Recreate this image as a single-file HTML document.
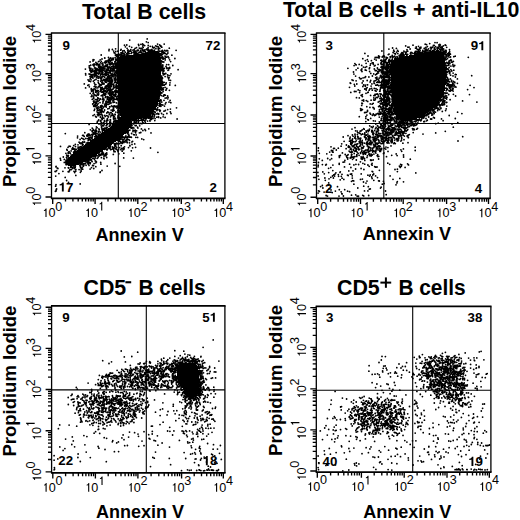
<!DOCTYPE html><html><head><meta charset="utf-8"><style>html,body{margin:0;padding:0;background:#fff;overflow:hidden}svg{display:block}text{font-family:"Liberation Sans",sans-serif}.b{font-weight:bold}</style></head><body>
<svg width="520" height="520" viewBox="0 0 520 520">
<rect width="520" height="520" fill="#fff"/>
<path d="M436 50h3v1h-3zM430 51h11v1h-11zM152 51h6v1h-6zM147 52h12v1h-12zM424 52h18v1h-18zM142 53h18v1h-18zM419 53h24v1h-24zM414 54h30v1h-30zM135 54h25v1h-25zM126 55h34v1h-34zM409 55h35v1h-35zM405 56h39v1h-39zM121 56h39v1h-39zM119 57h41v1h-41zM400 57h44v1h-44zM397 58h47v1h-47zM118 58h42v2h-42zM394 59h51v1h-51zM393 60h52v1h-52zM392 61h53v1h-53zM391 62h54v3h-54zM117 60h43v7h-43zM390 65h55v4h-55zM390 69h56v4h-56zM117 67h44v13h-44zM391 73h55v12h-55zM118 80h43v10h-43zM391 85h54v5h-54zM392 90h53v1h-53zM392 91h52v3h-52zM118 90h42v6h-42zM392 94h51v2h-51zM119 96h41v1h-41zM392 96h50v2h-50zM393 98h48v2h-48zM393 100h47v1h-47zM119 97h40v5h-40zM393 101h46v2h-46zM393 103h45v1h-45zM119 102h39v3h-39zM393 104h44v1h-44zM394 105h42v1h-42zM119 105h38v2h-38zM394 106h41v1h-41zM394 107h40v1h-40zM119 107h37v2h-37zM394 108h39v1h-39zM120 109h35v1h-35zM394 109h38v1h-38zM394 110h37v1h-37zM120 110h34v2h-34zM395 111h34v1h-34zM120 112h33v1h-33zM395 112h33v1h-33zM120 113h32v1h-32zM395 113h31v1h-31zM396 114h29v1h-29zM120 114h30v1h-30zM120 115h29v1h-29zM396 115h27v1h-27zM397 116h24v1h-24zM121 116h26v1h-26zM397 117h22v1h-22zM120 117h25v1h-25zM398 118h19v1h-19zM119 118h22v1h-22zM118 119h19v1h-19zM400 119h14v1h-14zM117 120h14v1h-14zM402 120h8v1h-8zM116 121h14v1h-14zM115 122h16v1h-16zM114 123h17v1h-17zM113 124h18v1h-18zM112 125h19v1h-19zM111 126h19v1h-19zM110 127h20v1h-20zM108 128h21v1h-21zM107 129h21v1h-21zM106 130h21v1h-21zM104 131h23v1h-23zM103 132h23v1h-23zM102 133h23v1h-23zM100 134h24v1h-24zM99 135h24v1h-24zM97 136h25v1h-25zM96 137h25v1h-25zM94 138h26v1h-26zM93 139h25v1h-25zM91 140h26v1h-26zM90 141h26v1h-26zM88 142h26v1h-26zM87 143h26v1h-26zM85 144h27v1h-27zM84 145h26v1h-26zM83 146h26v1h-26zM81 147h26v1h-26zM80 148h26v1h-26zM78 149h26v1h-26zM77 150h26v1h-26zM76 151h25v1h-25zM74 152h26v1h-26zM73 153h25v1h-25zM72 154h25v1h-25zM71 155h24v1h-24zM70 156h24v1h-24zM69 157h23v1h-23zM68 158h22v1h-22zM68 159h21v1h-21zM67 160h20v1h-20zM67 161h18v1h-18zM67 162h16v1h-16zM67 163h15v1h-15zM67 164h12v1h-12zM68 165h8v1h-8zM70 166h2v1h-2zM183 363h11v1h-11zM179 364h17v1h-17zM178 365h19v1h-19zM177 366h20v1h-20zM177 367h21v3h-21zM177 370h22v8h-22zM178 378h21v3h-21zM179 381h20v2h-20zM180 383h19v2h-19zM181 385h18v2h-18zM182 387h17v1h-17zM183 388h16v1h-16zM183 389h15v1h-15zM184 390h14v2h-14zM185 392h13v1h-13zM186 393h12v1h-12zM187 394h10v2h-10zM189 396h5v1h-5z"/>
<path d="M147.2 38.9h0m-17.5 1.2h0m8.8 4.4h0m2.4-.2h0m1.7-.3h0m.9 .9h0m2.9-3.1h0m1.8 .8h0m9.4 1.5h0m6.6 0h0m261 .1h0m1.4 .5h0m3.1-1.1h0m5.3-1h0m2.1 .1h0m2.7 1.6h0m-330.7 5h0m3.3 .2h0m3.2-.7h0m5.5 .7h0m3.4-4.3h0m.9 1.6h0m1.4-1.8h0m.3 3.3h0m2.4-2h0m1.3 3.3h0m.9-2.3h0m2.5 2.3h0m.9-1.3h0m1.4-.6h0m2.3-2.2h0m.5 2.6h0m1.1 .4h0m1.1-.1h0m.5-.1h0m.2 1.2h0m.5-3.6h0m.1 3.8h0m.4-2.3h0m1.5-1.8h0m.1 4.2h0m1.6-.3h0m.5-.6h0m1.2-1.5h0m0 1.8h0m.1-3.9h0m2 1h0m1.2 3.3h0m.5 .1h0m.5-3.2h0m.4 1.1h0m.4 .2h0m.8 0h0m.4-.3h0m1.3-1.7h0m.2 2.9h0m1-2.2h0m1 .1h0m.3 2h0m.1 1.3h0m.2-3.1h0m.1 1.2h0m1.1-3h0m0 3.6h0m1.1-2.2h0m.1-.6h0m.9 1.4h0m7.5 1h0m219.6 .9h0m3.7-1.1h0m3.8 .4h0m9.3-2.5h0m1.3 3.8h0m.9-2.5h0m1.2-.1h0m1 1.9h0m2.9-3.8h0m2.5 2.9h0m.7-1.3h0m.1 1.2h0m.9 1.3h0m.9 .2h0m.4-3.2h0m.9 3.4h0m.3-1.8h0m1 .4h0m.2-1.1h0m3.3 1.2h0m.2 .1h0m1.5-1h0m.1 1.8h0m.4 .1h0m1-2.8h0m.3 3.2h0m.8-1h0m2-1h0m.1-.5h0m.6 1h0m.2 .1h0m.4-.9h0m.9-.4h0m.7-1.6h0m.7 3.6h0m.1-3.7h0m.3 2.5h0m.6 1.8h0m.1-.6h0m.4-2.5h0m1.4 1.4h0m.2 1.9h0m.4-2.4h0m.2 1h0m0-.3h0m.4-.4h0m.3 .3h0m.4-3.1h0m0 2h0m.7 2.2h0m.1-2.9h0m.6-1.3h0m.4 2.4h0m.2 1.7h0m.7-1.4h0m.2-.3h0m.2-.7h0m0 2.7h0m.1 .5h0m.1-2.5h0m.2 2.2h0m.1-.4h0m.3 .3h0m.6-3.7h0m.2 3.1h0m1.6-3.9h0m.7 .3h0m.8 2h0m2.8 2.3h0m-340.5 1.1h0m4.7 .4h0m.4 1.6h0m.9 .6h0m.8-1.8h0m.6 3.2h0m1.5-3.5h0m.1 3.6h0m.6-.8h0m.6 .3h0m.5 .4h0m.7 0h0m.3-4.5h0m.2 2.8h0m.5-.1h0m.5 1.3h0m.4-1.9h0m.5-1.4h0m.1 1.9h0m.5 .6h0m.8-2.7h0m0 3.1h0m1-1.6h0m1.2 1.7h0m.8 .5h0m.1-1.2h0m0 1.3h0m.4-3.7h0m.1-.7h0m.1 4h0m.2-2.3h0m.2-1.7h0m.3 2.6h0m0 1.2h0m0-.8h0m.1-1.5h0m.7 1.7h0m.5-2.3h0m1.1 .1h0m.2 2.3h0m.6-.7h0m1.2-2.5h0m.5 1.7h0m.3 .6h0m.2 2.3h0m.2-.8h0m.3-1.7h0m.2 2.3h0m.1-2h0m.1-1.7h0m.4 1.2h0m0 .2h0m.2 1.1h0m.6-2.3h0m0 1.7h0m.2 .2h0m0 .1h0m.3 .8h0m.1-.5h0m.6-2.6h0m.1-.7h0m.2 3.4h0m.1-2.8h0m.6-.5h0m.4 2.7h0m.6-.5h0m.1-.2h0m.7 .1h0m.5-1.7h0m.4 1.9h0m.2-.5h0m0 .3h0m.6 1.6h0m.5-3.8h0m.7 2h0m.3-1.2h0m0-.6h0m.8 .3h0m.7 1h0m.4 .5h0m.1-.8h0m.2 1.3h0m1.4 .2h0m1-2.6h0m.4 1.5h0m.2 .2h0m.5-1.5h0m.2 .6h0m.7-.9h0m0 1h0m.2 .6h0m.1-1.2h0m.7 .7h0m.1 .8h0m.1-.5h0m.4-.3h0m1.2-.9h0m1.7-.1h0m4.5 1.5h0m.2 .1h0m.7-.7h0m.3 2.7h0m.6 .1h0m.7-2.4h0m.3 3.3h0m.1-3.9h0m.3 1.9h0m0 1.5h0m.1-2.3h0m.2-1.6h0m0 4.2h0m.5-3.4h0m.4 1h0m.4 1.1h0m.2 .1h0m.4-.9h0m.2 .5h0m.2-2.7h0m.8 3.3h0m.5-2.5h0m.8 3.4h0m.2-4.2h0m.8 .6h0m.1 2.1h0m8.2-2.7h0m188.8 3.1h0m17-2.4h0m6.4 3.6h0m.8-.5h0m4-1.6h0m.6-2.3h0m.5 1.1h0m.4 2.3h0m.9 .5h0m.1-.3h0m.9-1.7h0m1.1-1.7h0m.2 3.2h0m.4-2.3h0m2.4 3h0m.7-.9h0m.4 1.4h0m.2-2.1h0m.4 .1h0m.4 1.4h0m.3-1.5h0m.1 .2h0m.1 1.5h0m.7-3.3h0m1.2 1h0m.5 1.8h0m.2 .3h0m.2-.3h0m.2 .3h0m.2-2.2h0m.8-.8h0m.5 0h0m0 3.1h0m2.7-.7h0m.2-.7h0m.3 1.3h0m.1-1.7h0m.9 .2h0m1.1 .9h0m1.7-1.2h0m0 1.4h0m.5-.3h0m.2-2h0m.5 1.9h0m.7-1.9h0m.1 2.2h0m.4-.3h0m.9-1.2h0m0 1.4h0m.2-2.4h0m.3 1.7h0m0 1.1h0m1.2-2.3h0m0 1h0m.4-2.4h0m.1 2h0m1.1 .2h0m1.5-2.1h0m0 1.8h0m.1-.8h0m.1 0h0m.4 .4h0m1.2-.7h0m.9-1.1h0m.3 1.6h0m1-1.6h0m.3 .9h0m1 .2h0m1.5-.3h0m.4 1.1h0m.6-1.8h0m.2-.1h0m2 .6h0m.8 .1h0m.8-.6h0m5.9 .5h0m.4-.1h0m.5 1.3h0m.8 .9h0m.5-.5h0m.5-1.9h0m.2 3.3h0m.2-1.2h0m.2-.6h0m.5 1.4h0m.3-1.7h0m.3 2h0m.2 1h0m0-.2h0m.3-3.9h0m.4 .3h0m.1 3.8h0m.1-2.1h0m.3-1.9h0m.1 1.5h0m.3 2.7h0m.3-.1h0m.8-.8h0m1-1h0m.4 1h0m.6-2.3h0m.3 1.9h0m.5 .8h0m-357.3 5.4h0m.9 .2h0m6.2 0h0m1-4.8h0m.8 4h0m2.7-1h0m.2 .1h0m3.6-.6h0m.5 2h0m.3 .3h0m.2-.1h0m.6-1h0m.5-.8h0m1.1 1.7h0m.5-1.1h0m.4 1.1h0m.6-1.4h0m0 1.5h0m1.9-2h0m.3-2.6h0m.2 4.3h0m.8-3.3h0m.5 3.3h0m.3-4.4h0m0 3.2h0m0 1.5h0m.1-2.6h0m0 1h0m.1-1h0m.1-1.3h0m.3 3.8h0m.2-.3h0m.1-4.2h0m0 1.3h0m.3 1.5h0m.6-2.1h0m1.7 .6h0m1-.8h0m.2-.4h0m.3 .3h0m.5 .2h0m1.1-.5h0m.9 .3h0m.3-.3h0m35.2 4.3h0m.1-2.3h0m0 .9h0m.2 .2h0m.3-3.1h0m.6 .3h0m.2 2.1h0m.7 .3h0m.1-.6h0m0 1.5h0m.2-2h0m.4 2h0m.4 .2h0m.1-.8h0m1.5-2.1h0m.1 2.1h0m.1 1.7h0m.2-3.4h0m1.3 .7h0m1.4-.5h0m.8 1.2h0m.7 1.9h0m2.3-4.6h0m3 3.3h0m187.9 .2h0m4.5 .9h0m.7-3.6h0m6.6 3.1h0m.6-1.6h0m1.5 0h0m1.4 0h0m.5-1.6h0m.5 2h0m.4-1.3h0m2.7 .4h0m1.1-1h0m.7-.1h0m.7 1h0m.4 2.5h0m1-.2h0m.4-1.7h0m.2 .8h0m.7-.5h0m1.8 1.5h0m1-2.7h0m.1 1h0m1.7-1.2h0m.2-1h0m.2 2.6h0m.5-1.6h0m.6 .5h0m1.2-.8h0m.2 2.6h0m0-.3h0m.6-1.3h0m.2 .9h0m.4 .9h0m.6 0h0m.4-2.3h0m.5 1h0m1.6-2.3h0m0 .8h0m.3 1.7h0m.1-.8h0m.3-1.1h0m.1-.3h0m0 1.1h0m.1-1h0m.7 0h0m.3 .9h0m.4-.4h0m.7-.5h0m.2 .3h0m.3 0h0m.4-.7h0m.2 .9h0m.1 .7h0m.9-1.8h0m0 1.7h0m2.6-1.1h0m0-.4h0m37.5 3.4h0m.1 .1h0m.3-1h0m.1-.2h0m.1-1.1h0m.7 1.5h0m0 1.8h0m.5-.2h0m.6-4.2h0m0 1.4h0m.7 1.9h0m.8-2.9h0m.5-.8h0m.2 2.1h0m.3-1.9h0m1.2 1.8h0m.4 2.7h0m2.9-3h0m1.4-.5h0m13.1 1.1h0m-378.2 4.6h0m2.9-.9h0m0 3.7h0m1.1-.9h0m.6 .8h0m1.2-2.2h0m.4 1.6h0m.2 .9h0m.7-1.5h0m.7 1.5h0m.1-.3h0m.3-.3h0m.2-2.7h0m.5-.3h0m.8 2.9h0m.9-1.6h0m.6-1.3h0m.7 2.5h0m.4-.1h0m.5-.7h0m.1 1.7h0m1.8-2.3h0m.4-.9h0m.1 1.5h0m.5-1h0m.4-1.1h0m.1 1.5h0m.9 2.1h0m.5-3.6h0m.5-.7h0m0 1.8h0m.2 .4h0m.3-2h0m.3 2.6h0m.2 1h0m.1-3.6h0m.3 3.5h0m.2-1.7h0m.1 .5h0m.2 2.2h0m.1-1.1h0m.1-2.5h0m.3-.4h0m.3 3h0m.2-.4h0m0 .8h0m.9-4.2h0m.1 2.3h0m.1 1.2h0m.4 0h0m1.4 .3h0m.8-1.9h0m.4-.7h0m0 2.3h0m.3-.2h0m0 1.4h0m.1-1.9h0m.3-2.7h0m0 3.4h0m0 1.3h0m.2-1.8h0m.2-2.4h0m.2 3.9h0m.2-1.4h0m.2 0h0m43.2-2.9h0m0 1.9h0m0 1.2h0m.1 1.1h0m.1-3h0m.6 .2h0m0 1.7h0m.1 .1h0m0 1.2h0m.6-3.7h0m.7 .6h0m.1 .3h0m.4 3h0m1-2.9h0m2.9 2.6h0m2 .1h0m1.9-3.1h0m184.3 2h0m1 1.2h0m.2 .1h0m3.1-.5h0m6.2-3.8h0m.7 2.7h0m2.1-2h0m2.4 2.5h0m.8-3.1h0m.8 2.2h0m.6 0h0m.4 0h0m.1 1h0m0 .4h0m2.9-4.2h0m1.9 4.3h0m2.7-4.1h0m.1 3.1h0m.1-.6h0m.3-.1h0m0 1.8h0m.3-4.4h0m0 1.8h0m1 2.6h0m.3-3.1h0m.1 3.3h0m.4-.9h0m.1-3.4h0m.1 3.4h0m.1 .9h0m.1-2.7h0m.2 1.3h0m0 1.1h0m.1-3.6h0m.3 1.7h0m.3-1.7h0m.6 .1h0m.1-.2h0m.1 .8h0m.1-1.5h0m.3 2.4h0m.4 0h0m0 1.5h0m0 1h0m.2-2h0m.1 .1h0m.2 1.4h0m.3-.9h0m.1-.7h0m.2 1.4h0m1.1-2.4h0m.2-1.4h0m0 1.6h0m.1 2.7h0m.1-2.6h0m.4 1.1h0m.1-1.5h0m.2-.6h0m.2 2.1h0m.1 1.3h0m.2-3.2h0m0 3.1h0m.1-3.4h0m.3-.3h0m0 4.2h0m.6-4.8h0m.3 .9h0m.2 .9h0m.1-.8h0m.6-1.1h0m.2 0h0m52.7 3.2h0m.4 0h0m.1 1.6h0m1.1-2.4h0m.6 .6h0m.3 .2h0m.8 1.6h0m.1-1.9h0m.2 .5h0m.2-2.2h0m0 .8h0m0-.6h0m0 2h0m.5-2.7h0m.4 2.8h0m.2-3h0m1.3-.2h0m0 1.9h0m.9-.1h0m.6 2.4h0m.5-3.1h0m-368 7.7h0m3.8-3.1h0m.1 1.6h0m.3-1.7h0m.1 1.9h0m0 .9h0m1-3.5h0m.3 3.3h0m1.7 1.2h0m.1-.6h0m.5-3.9h0m.7 .8h0m0-1h0m.6 2.8h0m.4-.1h0m.2 .7h0m.6 .5h0m.4 0h0m.1-.5h0m1.3 .4h0m.8-2h0m.3 .4h0m.1 2.6h0m.1-4.1h0m.1 3.7h0m.1-2.2h0m.4-1.4h0m0 1.7h0m0 1.1h0m.3-3.2h0m0 .6h0m.4 1.4h0m0-.3h0m.2 2.3h0m.6-2.4h0m.2 2.1h0m.2-1.4h0m.1 1h0m.6 .5h0m.2-1.1h0m.1-2.3h0m.3 3.2h0m.5-.4h0m.1-1.1h0m.9-1.4h0m.3 1.8h0m.1 .3h0m.5 .7h0m.1-2.2h0m.3-.2h0m.3-1.4h0m0 1.1h0m.9 3h0m.1-4h0m.2 1.5h0m.4-1.7h0m0 1.3h0m.1-.3h0m.4 1.8h0m.1 .9h0m0 0h0m.2 .5h0m.1-2.3h0m.1 1.8h0m.8-1.4h0m0 .1h0m.5-.5h0m.4 1.1h0m.1-.5h0m.1 .9h0m.5 1.5h0m.9-3.3h0m.1 1.7h0m.3 .4h0m.1 .4h0m.2-2.5h0m.5 1.8h0m.1-3.3h0m.3 4.8h0m.1-1h0m.1-3h0m0 1.1h0m.7 .8h0m.3 .5h0m.3-2.2h0m0 2.4h0m.5-.9h0m.5-.7h0m.2-.1h0m.4 .4h0m.1 1.3h0m.1-2.4h0m.3-.2h0m43.6-.7h0m.2 1h0m.1 0h0m.2 .9h0m.1 .1h0m.5-.8h0m.1 2.5h0m.3-.9h0m.1 .3h0m.2-.7h0m.1 .8h0m.1 1.5h0m.1-.6h0m.3-3.2h0m.5 3.7h0m.5-1.6h0m.5 .2h0m1.6-1.9h0m.8 1.1h0m.1 .9h0m1.6-.4h0m.2 1.7h0m1-2.5h0m0 .9h0m3.1-2.7h0m5.3 4.2h0m169.8-1.4h0m6.2-2.7h0m2 4.2h0m1.8-1.6h0m3.2 1.7h0m.6-4.5h0m.2 3.5h0m1.5-1.8h0m1.8 .3h0m1.4-.7h0m2.7 2h0m.3-1h0m.6-2.4h0m4.1 3.6h0m.1-3h0m.7-.5h0m2.3 2.6h0m.7 1.3h0m1.1 .3h0m.1 .1h0m1.2 .2h0m.5-2.6h0m.2-.5h0m.7 1.1h0m.1-.9h0m.1 2.7h0m.2-.5h0m.1-2.6h0m.2 2.3h0m.2-1.3h0m.2 .7h0m.1-.9h0m.2 1.4h0m.5-.9h0m.1-1.7h0m.1-1h0m.3 2h0m.9 .3h0m0 1.1h0m.1 .4h0m.2 0h0m.4-2.3h0m.1-.5h0m.2-.6h0m.3 2.6h0m.1-3.2h0m0 .9h0m.4 .8h0m0 2.2h0m.5-.5h0m.3 .2h0m.1-2.6h0m0 3.1h0m.1-2h0m.1 1.4h0m.2-3.3h0m0 3.1h0m.3 0h0m.2-.6h0m.3-.8h0m.5 0h0m0 2h0m.3-2.2h0m55.6-.8h0m.1 1.8h0m.2 .4h0m0 .7h0m.4-1.6h0m.5 2.3h0m.4-3.9h0m.4 3.2h0m.9 .5h0m.4-4.1h0m.3 2.3h0m1.8-1.4h0m0 3.5h0m2.1-3.7h0m.2-.1h0m.6 .7h0m.9-1.1h0m-369.1 8.2h0m.1 1.3h0m3.4-.9h0m.8-3.6h0m.3 3.8h0m.5-2.4h0m.4-1.7h0m.1 1.1h0m.2 1h0m.1 2.4h0m.2 .1h0m.3-.3h0m.4-2.9h0m.2-.5h0m.3 .3h0m.3 3.4h0m.2-3.7h0m.1 3.8h0m.2-3.4h0m.5-.3h0m.2 2.1h0m.3-1.3h0m.1-1.5h0m.1 1.2h0m0 2.3h0m.2-3.3h0m.3 .5h0m.2-.4h0m.1 2.5h0m.3-.7h0m.3-2.4h0m.1 3.6h0m.3-2.3h0m.1 1.7h0m.1-.2h0m.5-.1h0m.5-2.8h0m.2 3.4h0m.3-.3h0m0 1h0m.2-3.7h0m.1 .4h0m.5 1.4h0m.2-1.3h0m0 2.4h0m.2-1.3h0m.2-1.9h0m0 2.4h0m.1-1.9h0m.2-.4h0m.3 .4h0m.1 3.2h0m.1-2.3h0m0 2.9h0m.9-.5h0m.1-3.2h0m.4 .9h0m0 1.3h0m0-.5h0m.3 1.9h0m0 .1h0m.2-1.4h0m.2-.9h0m.1-2.1h0m0 .8h0m0 3.5h0m.1-1.6h0m1.1-2.6h0m.2 4.4h0m.5-3.4h0m.3 2.7h0m.1-2h0m.1 2.2h0m0 0h0m.6-.6h0m.2-2.8h0m.2 1.4h0m.1 1.9h0m.4-2.7h0m.1-.6h0m0-.4h0m0 4.2h0m.3 0h0m.1-1.4h0m.3-2.4h0m.5 2.1h0m.3-2.2h0m.1-.1h0m0 4.3h0m.4-4.1h0m0 2.3h0m.9-2.2h0m.2 .7h0m.3 1.4h0m.1-2.8h0m.1 1.5h0m.3 .2h0m.2-.5h0m.3 2.6h0m.2-3.7h0m.7 .4h0m.2 3.4h0m.1-3.3h0m.6 1.3h0m.1-1.2h0m.2 3.9h0m.2-4.3h0m.5 4.6h0m.1-4.8h0m.1 3.7h0m.6-3.1h0m.1 2.2h0m.2-1.1h0m.9 .2h0m0 2.7h0m.3-1.3h0m.1 .2h0m.1-2h0m0 1.2h0m.1-1.7h0m.1-.6h0m.3 1.9h0m44.5-1.9h0m.9 0h0m.3 2.5h0m.3-2.7h0m.1 1h0m.1 .3h0m0 3.3h0m.9-4.1h0m0 2.8h0m.3 .7h0m1.4-.8h0m1.8 1.3h0m.4-4.5h0m3 3.5h0m182.5-1.8h0m.4 2.1h0m7.5-3.7h0m.6 1.1h0m3.2-1.5h0m1.1 .3h0m3.3 1.2h0m1.2 1.9h0m2.9 .5h0m1.5-3.4h0m.4 4.3h0m.8-4.1h0m.2 3.3h0m.1-.3h0m.6-.3h0m.6-1.7h0m.6 1.2h0m.7-1.9h0m1.3-.3h0m.9 1.8h0m.1-.6h0m.4-.5h0m0 1.2h0m.2-.5h0m.3 1.9h0m.3-3.1h0m.7 1.2h0m.1 1.3h0m0-.3h0m.5-.3h0m.1-.9h0m.4 1.6h0m.1 .6h0m.7-.3h0m.3-.7h0m0 1.3h0m.1-2.6h0m.2 .7h0m.1 1.1h0m.2-1.1h0m.1-2.3h0m.1 2.4h0m.3 1.8h0m.1-2.4h0m.1 .2h0m.2-1.1h0m.6 .7h0m0 1.9h0m.1-2.7h0m.1-.8h0m.1 3.5h0m.3-.7h0m.9-.8h0m.2-1.3h0m0 1.9h0m.1 2.1h0m.1-.3h0m.1-3.7h0m0 .8h0m.1-1.3h0m.4 4.1h0m.1-.9h0m.6 1.1h0m55.8-2.7h0m0 .7h0m0 1.7h0m.2-3.1h0m.1 1h0m.4-.3h0m0-.2h0m1.4-.3h0m.2-.9h0m.5 3h0m.1-2.3h0m.3 .2h0m0 1.5h0m1.9-2h0m1.3 2.1h0m.7-2.9h0m1.4 4.5h0m.4-.2h0m.6 .1h0m-368.2 5.2h0m2-3.4h0m0 .2h0m.3 1.8h0m.8-3.4h0m0 2.4h0m0 2.4h0m.4-3.4h0m.3 .4h0m.2-.3h0m.7-.1h0m.2 1.5h0m.1 .2h0m1.6-2.5h0m0-.2h0m0 1.3h0m.2-.9h0m.2 0h0m0 .5h0m.8-1.1h0m.2 4.2h0m.6-3.8h0m0 2h0m.3-.5h0m.9-1h0m.4 2.1h0m.7-1.4h0m1.2 1.2h0m.3-2.1h0m.7 3.4h0m.3-1.9h0m.2 .9h0m.4-1.1h0m.2-.7h0m.4-.1h0m.6 3.5h0m.3-.5h0m.1-3.1h0m1.1 .9h0m.1 2.1h0m.7-4h0m.5 4.2h0m.2-.8h0m.6 .8h0m.1-4.5h0m.5 1.9h0m0 .9h0m0 1.6h0m.6-2.4h0m.2 .9h0m.5-1.3h0m0 1.5h0m.2-2.3h0m.2 3.9h0m.1-1.2h0m.5-1.1h0m.3-1.5h0m0 2.8h0m.2-3.2h0m0 2h0m0 1h0m.2-.4h0m.3 .7h0m.1 1.1h0m.5-4.7h0m.2 2.3h0m0-.4h0m0 2.7h0m.1-1.3h0m.3 .7h0m.3-4.1h0m.1 1.5h0m.7-.4h0m.8 .6h0m.3 2.1h0m.4-.4h0m.6-2.7h0m.1-.6h0m.5 3.2h0m.1-.9h0m.2 1.3h0m.6 1h0m.4-3.8h0m44.1 0h0m.3 1.1h0m0 2.3h0m.2-.9h0m.2 .3h0m.1 1.1h0m.4-2.4h0m.2 .8h0m2.6-1.7h0m2.5 .2h0m.5-1.5h0m.4 3.2h0m.6-.8h0m.8-2.1h0m182.1 4.2h0m3.6-3.7h0m3.8 1.5h0m.9 1.2h0m1.1-.2h0m1.7-.8h0m1.8-.3h0m.7-.8h0m3.3 .3h0m3.5-1h0m0-.1h0m3.2 1.9h0m1 2h0m.2-1h0m.1-1.6h0m.2 1.7h0m2-.7h0m1.3-2.3h0m0 1h0m.3-1.6h0m.6 2.2h0m.1 .5h0m.6-1.9h0m.9 1.5h0m.3 1.8h0m.2-3.2h0m.5 1.6h0m.3-2h0m.2 1.7h0m.1 1.7h0m.1-2.8h0m.3 2.7h0m.1-2.2h0m0 2.5h0m.7-3.3h0m0 1.1h0m.5-1.1h0m.1-.4h0m.3 1.7h0m.2-.8h0m.2 3.2h0m.2-3.3h0m0 1h0m.5-2.2h0m.4 2.2h0m.1-1.2h0m.3-.7h0m0 1.7h0m.4 2h0m.3-1h0m0-.1h0m.1-3.2h0m.2 1.7h0m.2 2.2h0m.1 .7h0m1-2h0m55.4-1.6h0m0 3.5h0m.3-2.5h0m.9 .7h0m.5 1.3h0m.6 .3h0m1.9-.4h0m.2-3.7h0m2.4 .7h0m2.4 1.1h0m2 1.9h0m14.3-3.2h0m-387.4 8.2h0m4.6 1h0m.1-3.7h0m.2-1.1h0m1.4 1.5h0m2.8-.4h0m.9 1.7h0m.2-2.8h0m.5 4.4h0m.9 .1h0m2.2-4h0m.2 1.9h0m.5 1.1h0m1 1h0m.4 .1h0m.4-3.7h0m.3 3.9h0m.4-4.6h0m.4 2.2h0m.6-1.7h0m0 3.2h0m.5-1.3h0m.1 .6h0m.9 .7h0m.1-.1h0m.2-3.4h0m0 3.4h0m1.1-1.8h0m.1-1.2h0m.8-.3h0m.3 1.7h0m.6-1.7h0m.5-.2h0m.6 1h0m0 2.6h0m.1 .8h0m.1-4.1h0m0 3.5h0m.7-.7h0m.4-2.1h0m.6-.8h0m0 4h0m.1-2.1h0m.2-.1h0m.1 2.5h0m.1-3.6h0m.3 .7h0m.1 1.3h0m.3-2.2h0m0 1.5h0m.3 1.8h0m.2 .1h0m.1-4.3h0m0 2.4h0m0 1.8h0m.2-3.7h0m0 1.6h0m.1 1.6h0m.1-3.8h0m.3 1.4h0m0-.3h0m.2-.6h0m.7 3.6h0m.1 .5h0m1.1-2h0m.3-2.3h0m.3 1.1h0m.1-1.2h0m.1 .9h0m.1 1.2h0m.7 2.2h0m.6-2.3h0m.1 .3h0m.1 .8h0m.5-.1h0m.2-2.8h0m0 .9h0m0 .6h0m43.3-.2h0m0 2.9h0m.1-1h0m.4 .4h0m.1-2.4h0m.1-1.4h0m0 3.7h0m.2-1.7h0m.1-.9h0m.1 1.7h0m.4-1.4h0m.1 .4h0m.1 2.1h0m.4-1.7h0m1.2-.2h0m1.5 1.8h0m.4-1.1h0m2.8-2.9h0m1 2.7h0m.5-2.4h0m179.7 2.5h0m.5 .4h0m2.4-2.9h0m1.2 3.9h0m1.8-3.5h0m.7 3.2h0m5.4-1.1h0m.9-1.9h0m.5 3.9h0m3.6-4.4h0m0 4.3h0m.4 0h0m2.5-2.8h0m.6-1.5h0m1.2 3.4h0m2.1-2.7h0m0 1.8h0m.4 .4h0m.8-2.7h0m1.6 1.6h0m.6 2.4h0m.1-2.7h0m1.1-2h0m.3 2.4h0m.2-1.3h0m1.1 1.3h0m.9 .1h0m.5 .1h0m.1-.9h0m0 1.3h0m.1 1.3h0m.1-.6h0m.2-3.5h0m0 1.7h0m0 2h0m.6 .7h0m.5-3.9h0m.1 .7h0m.2 .5h0m.1 .2h0m.2 1.5h0m.1 .5h0m.4-.4h0m.1-1.4h0m.1-2.3h0m0 1.3h0m0 2.7h0m.3-2.3h0m.1 2h0m.2-2.2h0m.2-.8h0m0 1.7h0m.3-.7h0m0 3.2h0m.2-.8h0m.3-1.7h0m.1-1.9h0m.1 3.7h0m.3-1.3h0m.1-.5h0m.1-1.4h0m.1-.3h0m.2-.1h0m.5 1.7h0m.2 2h0m.1-.4h0m.1-2.6h0m.1-1.1h0m.1 2.6h0m0 1.5h0m.1-2.5h0m0-.6h0m.4-1h0m.2 3h0m.3-2h0m.9 1.7h0m0-.6h0m.2-2.3h0m0 4.6h0m56.3-4.1h0m0 2.6h0m.1-1.3h0m.1 .1h0m0-.1h0m0 0h0m.4 1.8h0m.6-3.3h0m0 .9h0m.1-.2h0m.1-.7h0m0 3.1h0m0 1.3h0m.5-3.6h0m.2 2.8h0m.3 .8h0m.3-3h0m.1 .2h0m.5 2.9h0m.2 0h0m1.3-3.1h0m.2-1.3h0m1 3.8h0m.1-.3h0m.1-.9h0m.4 .9h0m.2-2.5h0m1.3 .8h0m.1 .5h0m2.6 .6h0m-371.8 4.6h0m2.2-2.6h0m1.5 1.5h0m1.9 3h0m.1-1.2h0m.4 1h0m1.6-.3h0m.3-.2h0m.6-2.5h0m0 2.3h0m.5-2.6h0m.7 3.6h0m.3-2.1h0m.3 .1h0m.1-1.1h0m1.7 1h0m.5-1h0m.9-.6h0m.3-.5h0m.7 1.6h0m.4 .5h0m0 1.8h0m.2-2.1h0m.1-2.4h0m.4-.1h0m0 2.7h0m.2 1.4h0m.2-.6h0m.6-1.2h0m0 .1h0m.5 1.6h0m.2-.4h0m1.6-.3h0m.4-.5h0m.3-1.1h0m.1-.4h0m0 .8h0m.1-.4h0m.8-.8h0m0 3.1h0m.2-2h0m.1 1.7h0m.7-3.4h0m.3 .6h0m.2 3.1h0m.2-.5h0m.2-1.4h0m.8 .6h0m.2-1.8h0m0 1.5h0m0 2.2h0m.1-2.3h0m.2-.1h0m.3-1.6h0m.3 .7h0m0 2.4h0m.1-1.8h0m.4 1.7h0m0 .8h0m.6-4.4h0m0 4.9h0m.2-3.4h0m.4 3.3h0m1.2-.8h0m.3-4h0m.1 2.9h0m.2-1.6h0m.3-1.1h0m.2 1.9h0m1 .7h0m.5-1.7h0m.4-.1h0m0 3.9h0m.4-4h0m0 .5h0m.1 .6h0m.2 1.2h0m.3-.6h0m.3 .2h0m.2-2h0m.1 .3h0m.1 2.1h0m43.6-.7h0m0-.4h0m.1 2.5h0m.2-4.6h0m.1 4.4h0m.2-1.2h0m.2-2.8h0m.1 4.3h0m.5 .1h0m.3-.8h0m.1-3.8h0m.2 2.6h0m0 1.9h0m1.1-4.7h0m.7 2.4h0m1.7 1.1h0m3-3.5h0m5.5 .4h0m174.2 1.9h0m5.3-1.3h0m3.4 3.9h0m4.7-3.4h0m1.8 2.5h0m.5-3.9h0m.1 1.2h0m1 2.2h0m.8-.9h0m2.8 1.3h0m1.2-2.8h0m.5 2.3h0m2.6 .2h0m.1-.3h0m1.5-3.1h0m.2 3.5h0m1.1-3.6h0m.2 4.5h0m1.4-3.9h0m1.5 3.8h0m.3-4.3h0m.1 2.2h0m0 .6h0m.5-1.4h0m.1-.3h0m.4-.8h0m.1 1.4h0m0 .4h0m.1-2.1h0m.1 2.6h0m.1-1.6h0m.2-.8h0m.2 2h0m.8 .7h0m.3-.9h0m.2-1.7h0m.4 .1h0m.3 .9h0m.4 1.7h0m0 .9h0m.1-3.9h0m0 3.2h0m.3-2.6h0m0 2.3h0m.4-1.5h0m.1 1.1h0m.1-.8h0m0-.5h0m.1-.4h0m.2 1.1h0m.1-1.4h0m.2 .5h0m.5-1h0m0 .1h0m.5 4h0m0 .6h0m.1-2.9h0m0 2.5h0m0 .4h0m.1-2.9h0m.1 .8h0m.1 1.4h0m.4-1h0m.3 0h0m.3-2.4h0m.1 .9h0m0 1.9h0m0 .1h0m.8-.8h0m.1-.9h0m.1 1.5h0m0 0h0m.2-.4h0m.1 .3h0m.1-3.3h0m.2 .2h0m.1 1.5h0m.3 1.8h0m54.3-.4h0m1 0h0m.5-2.7h0m0 3.4h0m.3-3.5h0m.1 3.2h0m.4 .9h0m.2-4.4h0m.5 .6h0m.9 1.3h0m.2-1.6h0m.3 2.8h0m.3-2.4h0m0 2.1h0m.1 .7h0m.1-3.3h0m.2 2.1h0m.6 2.4h0m.2-4.8h0m0 1.6h0m.1-1.3h0m.4 1.4h0m.6-1.4h0m.1 2.9h0m.6 1h0m.2-1h0m.1-2.1h0m1.2-.9h0m.5 1.7h0m.2 0h0m.9 .2h0m11.6 2.5h0m2.5-4.3h0m3.9 2.3h0m-383.8 5.7h0m1.4-1.9h0m.1-.4h0m.6-.3h0m.8 2.7h0m.2-3.1h0m.1 3h0m.1-1.4h0m.1 1.9h0m.9 .9h0m1.3-2.5h0m.1-1h0m.4-.1h0m.6 .7h0m.3-1.5h0m0 3.5h0m.2 1h0m.2-4h0m.5 0h0m.1-.1h0m.3 1.6h0m.2 1.7h0m1.4-2.7h0m.8-1.3h0m.2 .3h0m.4 1.7h0m.9 .1h0m.2-.6h0m.6 3.3h0m.4-1h0m.1-2h0m0 1.1h0m0 .4h0m.1-3.3h0m.3 1.3h0m.1-1.1h0m.6 3.3h0m.4-2.5h0m.2-.2h0m.4 3.1h0m.1 .1h0m.3-1.8h0m.4-1.1h0m.2 .1h0m.2 .7h0m.1-.4h0m.1 .4h0m.1-1h0m.7-.7h0m.3 3.5h0m.5-3.6h0m.3 .6h0m.1 1.7h0m.1 1.6h0m0 .1h0m.3-.4h0m.1-2h0m.1-.9h0m0 2.4h0m.3 1.4h0m.1-3.3h0m.6 1.3h0m.1 .2h0m.4 1.1h0m.3-.4h0m.3-2.2h0m0 2.2h0m.4-2h0m0 .8h0m.3 1.9h0m.1-2.6h0m.1 1h0m.1 0h0m.8 1.5h0m.2-2.1h0m.8-.8h0m.1-.3h0m.1 3.5h0m.4-2.9h0m.1-1h0m.3 2.7h0m.4-.9h0m0 .2h0m0 2.3h0m.1-4.4h0m.4-.1h0m.4 .7h0m0 .8h0m0 .6h0m.1 0h0m.1-1.6h0m.1 .9h0m.3 .5h0m.3-.9h0m0 .5h0m42.3 1.9h0m.1-.7h0m.2-1.1h0m.4 .8h0m.2-2.5h0m.2-.2h0m.5 3h0m1.3-1.4h0m.9 3.2h0m.2 .1h0m1.6-4.8h0m.3-.1h0m3.3 .3h0m181.4 2.1h0m3.6-.9h0m1.6 0h0m3.6 1.1h0m.3-1.9h0m2.4 4h0m3.7-1.4h0m.2-3.3h0m1.5 2.6h0m.5-.4h0m.9-2h0m3.2 0h0m2.7 4.1h0m.1-3.7h0m1 .6h0m.2 2.9h0m1.1-.1h0m.3 .2h0m2-3h0m.3 2.4h0m.1-2.7h0m.4 3.7h0m.8-.4h0m2 .7h0m.4-4.5h0m.5 .9h0m0 1.8h0m.2-2.6h0m.1 1.6h0m.1 .5h0m.2 1.8h0m.3 .2h0m.1-4.4h0m.2 1.7h0m.1-.8h0m.4 1.7h0m0 1.1h0m.3-1.4h0m0 2h0m0-.1h0m.2-.6h0m.3 .5h0m.2-2.8h0m.1 .1h0m0 2.4h0m.1-2.6h0m.2 .1h0m.1 3.4h0m.1-4.6h0m.1 3.7h0m.1-2.6h0m0 .1h0m.2 1.8h0m.1-2.8h0m.1 .7h0m0 3.2h0m.2 .3h0m.1-1.5h0m.3-1.9h0m.1 1.4h0m.1 1.5h0m.1-1.1h0m.1-.9h0m.4 1.2h0m.5-.8h0m.1-2.2h0m0 1.9h0m0 2.2h0m.1-2.6h0m.1-.4h0m.2 .8h0m.6 2.5h0m.2-3.2h0m.1 .7h0m.1-.6h0m.1-1.3h0m.1 .6h0m0 1.8h0m51.5 1.6h0m.3-.2h0m.8-1.3h0m1.2 .7h0m.4-.6h0m.3-2.3h0m1 2.4h0m1.5 1.4h0m.3-3.8h0m.9 .5h0m.7-.3h0m.3-.6h0m1.2-.2h0m1 1h0m.3 3.2h0m16.1 .3h0m-378.2 2h0m.4-1.5h0m.4 .8h0m.1 3.4h0m1.3-2.1h0m0 1.3h0m.2 .2h0m.1-.6h0m.1-2.3h0m1.6 3.9h0m.2-4.4h0m.6 .6h0m0 3.7h0m1.1-.3h0m.4-1.6h0m.5-2.6h0m.3 3.2h0m1.4 1h0m.4-.3h0m.9-3.3h0m1.1-.5h0m0 4.2h0m.4-3.3h0m.1 1.9h0m.6 1.3h0m.2-.3h0m.3 .9h0m.7-4.7h0m.7 2.2h0m.3-.9h0m1.5 2.4h0m.1-1.3h0m0 1.8h0m.2-2.7h0m0 2.5h0m.1-.7h0m.5 1.1h0m.1-.2h0m.5-2.2h0m.5 .4h0m0 2.1h0m.2-1.4h0m.1 .1h0m.1 1h0m.2-4h0m.5 2.6h0m.5 .6h0m.2-1.6h0m.2-1.5h0m.3 1.3h0m0 2.2h0m.4 .2h0m.2-2.8h0m.2 2.1h0m.1-.4h0m.4-1.3h0m.3 1.3h0m.3-3h0m.1 3.7h0m.3-1.5h0m0 1.3h0m.2-3.4h0m.6 .3h0m.3 3.7h0m.4-2.8h0m1 3h0m.3-2.6h0m.1 1.4h0m.8 1.3h0m.5-3.6h0m0 3h0m.2-2.7h0m.2 1.6h0m.4-.9h0m.1 .5h0m0-.2h0m40.2 .1h0m0 .9h0m1.6 1.7h0m.1-4.8h0m.6 .5h0m1.8 .6h0m1-.6h0m.9 2.5h0m.1-2.9h0m1.2 2.6h0m1.2-1.8h0m.2 2.8h0m.3-1.5h0m188.4 .4h0m2.8 .2h0m1.8-2.6h0m.3 .3h0m1 1h0m8.2-1.2h0m3.1 4.5h0m.1-2h0m.1-2.2h0m1.2-.4h0m.3 3.6h0m.7-1.6h0m1.4 .3h0m.7-1h0m.1-1.5h0m1.6 3.4h0m.4-2.2h0m.9 1.7h0m.2 .1h0m0 .8h0m.6-.3h0m.1 1.2h0m.5-4.1h0m.6 4h0m.1-3.7h0m.4 2.1h0m.1-2.4h0m.3 1.6h0m.4 .7h0m0-.2h0m.3-1.9h0m.1 3.7h0m.1-2.4h0m.4-1.4h0m.2 1.1h0m.4 .1h0m.6 1.3h0m0 1.4h0m.3-2.6h0m.4 .9h0m.1-.7h0m.1 1h0m.4-1.8h0m.1-1.1h0m.1 1.4h0m.2 2.6h0m.3 0h0m.1-.6h0m.1-.3h0m.2-1h0m.9 1.5h0m1-4h0m.7 .4h0m0 1.3h0m.4 2.7h0m.1-1h0m.2 .5h0m.2-.3h0m.2 .6h0m48.7 .3h0m1-2.8h0m.4 2.5h0m.3-3.5h0m.1 1.2h0m.1 2.5h0m.2-1.1h0m.1-1.4h0m.2-.4h0m0 3.4h0m.6-3.2h0m0-.3h0m.7 1.7h0m.2-2h0m.1-.1h0m.6 1.8h0m.6-2h0m0 3.2h0m.4-1.7h0m3.1 2.4h0m5.5-3.7h0m-362.9 8h0m.8-2.7h0m.3 1.5h0m.1-1.8h0m.8 1.5h0m0 2.3h0m1-1.4h0m0 1.5h0m.2-2.9h0m.3 1.2h0m.5-1.1h0m.6-1.7h0m.7 1h0m.1 2.3h0m1.1-3.4h0m.8 2.3h0m2.9 .5h0m.1-1.4h0m.2-.6h0m1.9 2.8h0m.6-1.9h0m.6-.8h0m0 2.2h0m.1 1.2h0m.7-.4h0m.3-1.8h0m.7-1h0m.2 .7h0m.1-.7h0m.3 2.9h0m.3-2.8h0m.1 .9h0m.1 1.4h0m.4-3.1h0m.5 .8h0m.5-1.2h0m.1 0h0m.2 2.2h0m0 .9h0m1.9-2.6h0m.3 1.6h0m.1-.6h0m.5-1.6h0m.8 2h0m2 .7h0m1.5-2.9h0m.6 3.7h0m.1-1.8h0m.3-.9h0m0 2.8h0m40-.1h0m.5-2.1h0m.3-1.4h0m.1 1.7h0m.1 3h0m.1-3.9h0m0 2.5h0m.8-2.9h0m.3-.5h0m0 4.6h0m.6-2.6h0m2.2-1.8h0m1.3 3.6h0m.7-1.3h0m3-.5h0m1.1-1.7h0m.7 2.3h0m191.1 .5h0m.3-2.8h0m.2 3.1h0m1.2-3.5h0m.1 1.1h0m2.6-.5h0m1.4 .8h0m2.5 2.5h0m.9-3.7h0m1 4h0m1.1-.9h0m.8-3.2h0m.9 0h0m3.3 2h0m1.1-.7h0m1 1.9h0m.4-3h0m.1 3.7h0m.5-2.6h0m.6 1.7h0m.4 .4h0m.1-.6h0m.1 .7h0m0 .7h0m.4-1.6h0m.6-2.6h0m.1 .7h0m.1 .8h0m0 3.2h0m.4-4.7h0m.2 .6h0m0-.6h0m0 2.2h0m.3-1.9h0m.2 1.7h0m0 2.6h0m.1-.8h0m.1-1.1h0m.1-2.2h0m0 4.3h0m0-.9h0m.1-2.4h0m0 3.1h0m.2-4.3h0m0 3.8h0m.3-1.1h0m.1-1.6h0m.1-.2h0m0 1.4h0m0-.5h0m.4 1.3h0m.2-1.3h0m.1-.1h0m.1-1.4h0m.1-.5h0m.1 1.7h0m0-.1h0m.1-.8h0m0 3.6h0m0-.5h0m.1-.5h0m0 .2h0m.1-2.3h0m.1-.6h0m.4 .7h0m0 3h0m.3-3.9h0m0-.2h0m0 .6h0m0 2.9h0m.4-.7h0m.2-2.9h0m0 3.2h0m.1 .7h0m.2-.6h0m.4-.8h0m.1-.4h0m.2-2h0m0 .6h0m.1 3.7h0m.5-2.7h0m1.6 1.7h0m.3-2.7h0m.1 .5h0m.1 1.6h0m.2-.8h0m.2-2h0m0 3.5h0m.1-2.4h0m.1-.2h0m.1 .8h0m45 2.8h0m.2-1.4h0m.1 1h0m.5-1.3h0m.1 1.4h0m.2-2.2h0m.3-.3h0m.3 2.5h0m.5-3.5h0m.4-1h0m.6 4.7h0m.6-.9h0m0 .9h0m.2-4h0m.1 2.4h0m.7-.6h0m.1-1.2h0m.1 .2h0m.4-.1h0m.5 3h0m.3-1.1h0m.1-2h0m0 3.1h0m.1-3.2h0m0 .5h0m.1 2.7h0m.5-3.7h0m1.1 1.8h0m.7-.3h0m15.8-1.4h0m14.3 1.2h0m-383.3 3.5h0m.1 .7h0m1 2.8h0m.4-2.6h0m.3 0h0m.4-1.4h0m.1 1.5h0m.1-1.2h0m.9 3h0m.2-1.1h0m.2-2.2h0m.8 3.6h0m.1-1.7h0m1.2 2.3h0m.6-1.9h0m0-.2h0m.6-1.4h0m.5 1h0m.3 1.2h0m0 1.2h0m.5-3.7h0m.9 2.8h0m.1-1.7h0m.7 .6h0m1-2.2h0m.4 1.2h0m1.2 .8h0m.2-1.8h0m1.4 3.6h0m1.3-.4h0m.6-1.6h0m.3 0h0m1.6-1h0m.7 .8h0m.2 3.3h0m.2-3.3h0m.5 2.2h0m.5-.7h0m0 1.8h0m.1-3.4h0m.2-.5h0m.9 0h0m.6 .9h0m1.2-.7h0m.2 1.8h0m.2-1.7h0m.2 .3h0m.2-.5h0m.5-.3h0m.4 2.3h0m.1-3h0m.1 .8h0m0 .8h0m.2 3.2h0m36.3-.5h0m1.3-.2h0m.6 .2h0m.2-4.3h0m.3 4.4h0m.2-1.9h0m1.3-2h0m.6 .6h0m1.1-.2h0m.1-.3h0m.1 .6h0m1.9-1.3h0m1.7 1.1h0m3.2 3.5h0m2.7-.5h0m6.1-1.3h0m184.1 .9h0m.6 .7h0m.4 .1h0m.1-4.1h0m.7 4.2h0m4.4-2.9h0m3.1 .7h0m3.1 .1h0m.9 .6h0m.3 .8h0m4.4-2.3h0m.7-.6h0m.2 3.7h0m.2-4.1h0m.8 1.4h0m.4 .4h0m.3 1.6h0m.7 .4h0m.5-2.5h0m.2 2.1h0m.4-3.1h0m.3 2.7h0m.1-3.1h0m.2 2.3h0m.1 .3h0m1.4-2.8h0m0 3.1h0m.2 .1h0m.5-2.7h0m.1 .7h0m.1 2h0m.3-2.5h0m.2-.9h0m.2 1.4h0m0 2.4h0m.1 0h0m.2-2.7h0m0 3h0m.1-4.1h0m.3 .8h0m.1 3.3h0m.3 .4h0m.3-.1h0m0-.5h0m1-1.1h0m.2 1.9h0m.1-1.4h0m.1-.4h0m.1-2.4h0m.1 2.4h0m.2-2.8h0m0 .2h0m.3 3.7h0m.1-1.1h0m.1-2.4h0m0 .3h0m0 3.6h0m.1-1.2h0m.9-.3h0m.1-2.9h0m0 4.6h0m.2-3.2h0m.2 1.6h0m.6-.3h0m.1-1.3h0m.1 1.3h0m.1-2.2h0m0 1.3h0m.1-1.7h0m.5 3.3h0m0 1.3h0m.4-4h0m39 3.7h0m.6-.1h0m.5 .3h0m.5-.6h0m.4-1.7h0m.3-.9h0m0 1.6h0m.7 .5h0m.3-2h0m.1-1.5h0m.3 1.1h0m.2 2h0m.5-.2h0m.1-3h0m0 .7h0m.2-.2h0m.3 3.5h0m.1 .3h0m.3-1.2h0m.4 .5h0m1 1.1h0m.2-4.4h0m.1 1.6h0m.5-1.6h0m.5 3.1h0m.2-.3h0m1.6-3.1h0m3.5 3.8h0m.6-2.7h0m-352.6 4.3h0m.2 4.2h0m2.6-2.8h0m.3-1.6h0m.2 4.3h0m.4-1.9h0m.6 2.1h0m.3-1.6h0m.1-2.4h0m.8 2.1h0m0 2h0m.1-.1h0m.5-3.6h0m0 1.4h0m.4-2.5h0m.2 4.7h0m.2-3.3h0m.1 3.3h0m.2-2.1h0m.4 1.8h0m.3-3.1h0m.1-1.2h0m1.1 1.9h0m.6-.3h0m.7-1.7h0m2.2 3h0m.9-1h0m.4 .2h0m.4 .1h0m.7 1.8h0m.5 .5h0m.6-1.8h0m.8-2.7h0m0 2.4h0m1.2 1.2h0m.2 .5h0m.3-3h0m1.3-.9h0m.9 3.9h0m.2 .5h0m.6-2.6h0m1.9 .5h0m.2-2.2h0m.1-.4h0m.1 1.5h0m.9 3.2h0m.4-2.2h0m.2-1.5h0m0 2h0m0 1.8h0m.1-4.6h0m.1 .8h0m0 .9h0m30.4 2.3h0m.1-.1h0m.2 .7h0m.3-.8h0m1.4-.8h0m.4 .6h0m.2 .9h0m.3-.6h0m.1-.4h0m.3-.5h0m.4 .7h0m.2-2.2h0m.3 2.8h0m.8-2.3h0m1 1.7h0m.7-3.3h0m.8 2.9h0m.7 .7h0m.4-.2h0m.4-4h0m.7 1.4h0m.4-.9h0m1.3 3h0m1.8 1.2h0m.6-3.5h0m1.4-.7h0m1.5 3h0m3.4-1.7h0m.7 1.7h0m189.7-3.1h0m.7-.1h0m3.2 2.4h0m.4-.4h0m1.2 0h0m1.3-1.8h0m0 1.1h0m2.5 1.6h0m.6 1h0m2.7-.2h0m.6 .6h0m2.2-.4h0m1.3-.5h0m.9-.4h0m.3 .8h0m.3 .6h0m.4-3.3h0m.2 2.5h0m.4-1.8h0m.3 0h0m.2 2.1h0m.9-1.1h0m.4 .5h0m.5-2.2h0m0 2.2h0m.1-3.5h0m.2 .4h0m.4 4.4h0m.6-2.3h0m.4 1.4h0m.2 .1h0m.1-.7h0m.3-1.8h0m.2-1.3h0m.5 2.7h0m.1 1.5h0m.1-4.5h0m0 2.8h0m.1 1.7h0m.5 0h0m.5-3.2h0m.1 0h0m.4 2.4h0m.6-1.9h0m.5 0h0m.1 .3h0m.3 1.4h0m.2-2.7h0m.2-.5h0m0 3.5h0m0 .9h0m.4-1.2h0m.1-1.9h0m0-.1h0m.1 .3h0m0-.1h0m.6 .3h0m.6-1h0m.1-.9h0m0 1h0m0 3.8h0m.3-3.8h0m0 3.2h0m.1-.9h0m.1-.5h0m0-.3h0m.1 .7h0m.3-.7h0m.1 2.3h0m.1-2.6h0m.3 .3h0m0 2h0m.3-1.9h0m.6-1.5h0m0 3.4h0m.1-1.1h0m.1-3.3h0m0 4.1h0m.3 .2h0m.2-.9h0m0 .5h0m.3-2.9h0m.3 .6h0m0 1.8h0m.2-.6h0m.3-1.8h0m0 2.4h0m.6 .7h0m30.8 .2h0m.7 .1h0m.2-1.1h0m.2-.1h0m.1-.2h0m.8 1.3h0m.3 0h0m.3-1.7h0m0 .9h0m.4-.4h0m.5-1.3h0m.1 .7h0m.1 .1h0m0-.5h0m.4-.3h0m.5 .2h0m.1 .8h0m.8-2.9h0m.2 3.8h0m.4-3.1h0m.3 3.9h0m.6-2.2h0m.1 0h0m.6-1.4h0m.1 .6h0m0-.2h0m.1 2h0m1.3-1.4h0m2.2-1.5h0m4.6 .8h0m3.3-.9h0m12 1.7h0m4.3 1.4h0m-368.9 2h0m2.6 .9h0m.7 .5h0m1.8-1.3h0m.4-.7h0m.2 4.8h0m1.6-2.8h0m1.3 1.3h0m.6 1.1h0m.2-2.6h0m.1-1.4h0m.2 2.4h0m1.1 .4h0m1-2.9h0m.4 1.1h0m1.6-.8h0m.4 3.4h0m.3 0h0m.6-2.9h0m.1 1h0m2 2.6h0m.3-2.9h0m.7-1.2h0m.8-.6h0m1.1 .7h0m.4 2.3h0m.1-2.5h0m0 3.6h0m.1-2.1h0m.8-.1h0m.1 2h0m.9-.6h0m2.4-1.4h0m0 .3h0m0 0h0m.2-1.6h0m0 2.8h0m.2-.3h0m.2-2.4h0m.4 2.3h0m.6-.2h0m.1 .2h0m.1-.9h0m18.3 2.8h0m.3 0h0m2.7-.1h0m.7-1.3h0m.1 .5h0m1.1 .9h0m.7-1.2h0m.9-.1h0m.9-1h0m.5-.4h0m0 2.6h0m.2-1.2h0m0-.4h0m.7-1h0m.2-1.1h0m0 1.4h0m.2-.4h0m.4 .8h0m.1-1.7h0m.3 0h0m.4-.2h0m.2 1.7h0m.1-1h0m0 1.5h0m.4-2.7h0m.1 2.3h0m.3-2.4h0m0 .8h0m.1 1.7h0m.1-.4h0m.5 .1h0m.1-1.3h0m.1 3h0m.4-.2h0m.3-2.3h0m.1-.1h0m.1 2.7h0m.1-.4h0m.4-1h0m.6-2.9h0m0 1.2h0m.6 2.2h0m1.2-1.6h0m.2-.8h0m.1-.2h0m.6 2.7h0m1.7-1.4h0m1.7-.5h0m.1 .7h0m2.1 .5h0m2.4-1.1h0m2 .6h0m12 1.6h0m182.2-2.3h0m6.5 1.7h0m.1-1.8h0m1-1.5h0m.8 4.5h0m3-1.2h0m1.7-3.1h0m2.2 .2h0m.9-.3h0m3.8 1.9h0m2.1 1.4h0m.7-1.9h0m1.3 1.6h0m.1 1.3h0m.1-4.2h0m0 3h0m0 1.5h0m.4-2.3h0m.5 1.9h0m.2-3.4h0m.2 1.5h0m.1-2.3h0m.1 4.2h0m.1-3.5h0m0 .3h0m.1 1.3h0m.2-1h0m.1 .6h0m.2-1h0m0 2h0m.4 .2h0m.3 1.1h0m.1-2h0m.2-2.3h0m.2 4h0m.2-.9h0m.1 0h0m.2 1h0m.2-3.1h0m.1 1h0m0 1.8h0m.6-2.1h0m.7 3h0m0 .1h0m.1-.4h0m.3-2.6h0m0 .2h0m.2 2.6h0m.1-2.6h0m.1-.7h0m.2-1.3h0m0 1.9h0m.1-1.3h0m.2-.5h0m.2 3.7h0m.1-2.7h0m.1 1.8h0m0 .5h0m0 1h0m.2-2.5h0m0 1.1h0m.4 .2h0m.5-.2h0m.3-.6h0m0 1.2h0m.6-1h0m.1 .9h0m0-.6h0m.4 1.7h0m.3-.9h0m1.1-1.6h0m.7 1.5h0m.4-.4h0m.3 .3h0m.1 .4h0m.2-2.7h0m.4 1.3h0m.1-.9h0m.1 2.6h0m.3-.8h0m.5 .7h0m.4 .2h0m.3 .2h0m.7-.5h0m.1-.1h0m15 .1h0m1.3 .2h0m1.3 .3h0m.7 .1h0m.2 .2h0m1.5-.9h0m.1-1.7h0m.4 2.6h0m1-2.7h0m.1-.1h0m.2-.9h0m.2 .3h0m.3 2.4h0m.2-1.7h0m.2-.7h0m.8 1.3h0m.2-1.8h0m0 0h0m.2-.5h0m.3 1.4h0m.2 1.1h0m.2-2h0m.1-.8h0m.1 .4h0m.1 1.1h0m.9-1.5h0m.2 .3h0m.7 3h0m.4-3.1h0m.1 .3h0m0-.2h0m.3-.1h0m.3-.3h0m1.6 1.9h0m0 .1h0m1.9 1.9h0m1.1 0h0m.2-3.8h0m1.6 2.2h0m.9 .6h0m7.1 .9h0m7.7-3.4h0m6.1 3h0m-366.2 5.9h0m8.1-2h0m.2-1.1h0m1.1-.6h0m.5 3.4h0m1.5-3.1h0m.3 .5h0m.1-1.2h0m.1 4.6h0m.2-1.4h0m.2-1h0m.4 .3h0m.6 .7h0m1.4-1h0m.3 2.1h0m.3-4.1h0m.3 .9h0m1.9-.9h0m0 3.1h0m.1-1.6h0m0 0h0m.5-1.8h0m0 4.3h0m.4-.5h0m.2-3.7h0m2 2.2h0m.1 2.4h0m.1-3.5h0m.5-1.4h0m.2 2.2h0m1.7 2.7h0m.5-.4h0m.5-1.5h0m.3-1.5h0m0 1.6h0m.1-1.6h0m.1 1.2h0m.2-1.8h0m1.1 .8h0m.3-1.2h0m.8 .2h0m.4-.1h0m13.4 .8h0m1 .2h0m0 2.5h0m.2-1.8h0m.3 2.3h0m.3-4h0m1.6-.2h0m0 3h0m.3 .5h0m.4-3h0m.3-.4h0m0 1.7h0m.8 .6h0m.1-2.6h0m.1 .4h0m.3 2.1h0m.1-.1h0m.5-.6h0m.2-1.2h0m1.6 .2h0m.1 1.4h0m1.1 1.3h0m.1-3.1h0m1.3 2.8h0m.2-3.2h0m.9 3.5h0m.4-2.8h0m.3-.9h0m.2 2.4h0m.4 .5h0m.3-2.8h0m1.3 .9h0m.5 1.2h0m2.3-1.1h0m2.3-.5h0m.1 .4h0m4.8-.4h0m211 1h0m2.6-1.6h0m5 .8h0m1.9 .3h0m.5 2.9h0m3.5-2.2h0m.3 1.4h0m.1-.1h0m.5 .3h0m.6 1.4h0m.1-4.4h0m.4 .1h0m.1 3.9h0m1.1-1.2h0m.4-2.4h0m.7 3.3h0m.1-2.3h0m.1 2h0m.1-3.7h0m.4 .2h0m.3 4.6h0m.2-4.1h0m.1 .8h0m.1-1.4h0m.2 2h0m0 2.7h0m.1-4.3h0m0 .3h0m.1 3.7h0m.1-.7h0m.2-3.3h0m.5-.2h0m.3-.2h0m.4 2.5h0m.2-.9h0m.1-1.3h0m.3 1.1h0m.2 1.3h0m0 .9h0m.3-3.5h0m.5 3.2h0m.3-.6h0m.1-2.7h0m.2 3h0m.5-2.6h0m.7 1.9h0m.1 1.2h0m.5 .5h0m.1-3.5h0m.7-.3h0m.8 4.5h0m.6-1h0m1.3-3.4h0m0 1.4h0m.4 1.9h0m.9-1.8h0m.5-1h0m0 1.8h0m.4-.6h0m.4-1h0m.7 3h0m.7-1.5h0m.7 2h0m.2-3.5h0m.1 1.8h0m.1-1.2h0m.1 2.9h0m.2-.1h0m.1-3.4h0m.5 3.5h0m0 .2h0m.4-2.2h0m.1 1.9h0m0 .1h0m.2-4.1h0m.1-.2h0m.1 1.5h0m0 .9h0m.1-1.1h0m.1 .6h0m.4-.6h0m.1-.5h0m.5 .3h0m.4 2.7h0m.1-2.7h0m.1 1.3h0m.2-1.1h0m0 3.2h0m.1-3h0m.4 2.9h0m.3-1.9h0m.3-.7h0m0 1.4h0m1-1.8h0m.9 .3h0m.1 .7h0m0 1.7h0m.2-.7h0m.7-1.2h0m.1 .1h0m0 1.7h0m.1-.1h0m.1-3.1h0m.1 .3h0m0 .5h0m1.3 2h0m1-2.3h0m.2 .2h0m.4-1.1h0m.1-.7h0m.1 2h0m.2 2.8h0m.2-4.2h0m.1 2.3h0m.4-1.5h0m0-.2h0m.3-.3h0m0 1.9h0m.3 .4h0m0 1.4h0m.4-2.2h0m.4 1.8h0m.8 .4h0m.3-3.4h0m.1 3.3h0m.2-.2h0m.5-3h0m.7 .5h0m.1-.6h0m.2-.1h0m.5 3.6h0m.4-.5h0m.2-4h0m.2-.1h0m.6 2.6h0m.4-2h0m.3-.6h0m2.2 .6h0m.5-.8h0m2.5 1.7h0m.8-.2h0m2-.7h0m.7-.6h0m8.4 3.5h0m2.5-.5h0m4.9-2.5h0m8.9 3.2h0m5.8-1.3h0m-367.4 7.2h0m1.8-1.7h0m1.1 1.2h0m2.7-.2h0m.4-2.2h0m.7 .8h0m1.8 1.3h0m.4 .6h0m2.2-2.7h0m.2-.4h0m0 1.4h0m.3 1.5h0m.8-3.8h0m.6 3h0m0 .6h0m.1-3.5h0m.1 .1h0m1 3.8h0m.1-1.4h0m.5 0h0m1-2.5h0m.2 2.3h0m.3 1.6h0m.2-1.3h0m.4-1h0m1.9-1.1h0m.6 .3h0m.7-1.5h0m19.9 2.5h0m.2-1h0m.3 1.3h0m.2-2.1h0m0 1.5h0m.3 .8h0m.1-2.8h0m.5 0h0m.2 2.9h0m.6-.7h0m1.1 .7h0m1.2-2.5h0m1.1-.1h0m1.4 1.7h0m.3 .9h0m1.8-2.3h0m1.7 3.1h0m3.5 .5h0m3.9-.6h0m203.2 .3h0m3-1.4h0m7.2 2.1h0m1.5-1.1h0m.5 .5h0m5.3-.1h0m.2-3.3h0m1.6 1.1h0m1.1 .8h0m.8-1.2h0m2.3 2.1h0m.6-1.3h0m1.3 1.7h0m.1-3.4h0m.4 3.2h0m.1-2.5h0m.1 2.8h0m.1 .4h0m.3-1.9h0m1.4-.3h0m.2-.5h0m.4 1.1h0m.5-2h0m.3 2.4h0m.4-.2h0m.4 0h0m.1-2.3h0m0-.2h0m.2 1.3h0m0 .2h0m1.1-1h0m0 2.9h0m.1-.3h0m.1-2h0m0 3.1h0m.5-1.8h0m.3 .4h0m.1-.5h0m.9-1.4h0m.1-.4h0m.3 3.3h0m.3 0h0m.8-.4h0m.9-1h0m.4-2.2h0m.4 2.9h0m.1-1.6h0m.3 2.4h0m.6-.8h0m.2-2.7h0m0 2.7h0m.9-2.1h0m.4-1h0m.1 .2h0m.1 4.1h0m.6-1.9h0m.2-.1h0m.3-2.6h0m.1 3.9h0m.6-1.3h0m.4 .6h0m.7 .5h0m.2-1.4h0m.4 1.5h0m.3-3.3h0m.6 3.2h0m.1 .8h0m.4-3.1h0m.9-.6h0m.4-.6h0m0 3.6h0m.2-2.7h0m.2 3.2h0m.3-4.6h0m.3 .6h0m.3 1.9h0m.1 2.1h0m.1-3.7h0m.2 .9h0m0 2.4h0m.1-2.3h0m.6 2.2h0m.2-4.1h0m.1 .6h0m.5 3.7h0m.3-2.9h0m.4-.2h0m.1 .4h0m.1 .6h0m.1-1.5h0m.6 1.7h0m1.1-.2h0m0 .9h0m.3-.5h0m.2 .2h0m.4-2.4h0m.1 3.7h0m.1-1.3h0m0 .5h0m0 1.1h0m.2-2.3h0m.2-1.6h0m.1 1.5h0m.8 1.3h0m.5-.3h0m1.1-2.7h0m.3 2.1h0m0 2.2h0m.2-3.7h0m1.5 .7h0m.6-1.3h0m1.1 .3h0m1.3 3h0m.5 1.2h0m.2-4.3h0m.6 .4h0m.1 3.1h0m.5 .7h0m1-4.4h0m1.3 3.9h0m.8-.9h0m35.8-1.1h0m-388 6.4h0m19.5-.9h0m2.8 1.7h0m1.3-.5h0m.1 .7h0m.2 .1h0m.1-.1h0m2.1 .1h0m.7-3.2h0m.1-.8h0m.2 3.6h0m.2 0h0m.2-4h0m.4 2.3h0m.1 .4h0m0 1.4h0m.2-4.3h0m.5 .2h0m.2 3.8h0m.2-1.1h0m.4 .4h0m.2-1.7h0m.6 1.9h0m.1-3.1h0m.1 1.2h0m0 .6h0m0 2.1h0m.7-1h0m.1-2.4h0m1.4 3h0m.4-2h0m.5-.8h0m.3 3.5h0m.6-.6h0m.2 .1h0m.2-2.1h0m1.6 1.3h0m.5-2.3h0m.2 1.3h0m.1-2.4h0m1.4 .5h0m.5-.5h0m.5 .5h0m.6 0h0m19.7 2.8h0m1.1-1.1h0m.6-1.5h0m.4 2.8h0m.3-2.1h0m.4 .5h0m0 .6h0m.3-2.3h0m0 .1h0m.1 .5h0m.1 3.4h0m1.3-4.1h0m1.7 3.4h0m1.3-3.4h0m.1 1.4h0m.3-1h0m.3 4.1h0m.7 .2h0m.6-4.4h0m.2 1.3h0m.1-1.6h0m.5 2.7h0m.5 2.1h0m.4-4.1h0m2.8 2h0m1.4-.3h0m2.1-2h0m2.6 0h0m5.5 2.4h0m201.4 2h0m2.6-.7h0m.6-3.4h0m1.7 .3h0m.1 3.5h0m.2-2h0m1.5 .4h0m1-1.8h0m0 2.2h0m.9-2.5h0m.3 3.8h0m1.2-.7h0m1.9 .4h0m.3-.8h0m.1-.8h0m1.3-1.8h0m.1 .1h0m.3 .9h0m1.3-1.7h0m.1 3.8h0m.4-3.8h0m.1 1.2h0m.8-1.2h0m2.5 .9h0m.1-.9h0m0 1.6h0m.4-1.6h0m.5 3.7h0m.3-2h0m0 .5h0m.1 1.6h0m.3 .8h0m.5-1.6h0m.7-2.8h0m1.2 4h0m.5-1.6h0m.1-1.5h0m.2 .7h0m0 2.8h0m.2-3.4h0m0 .2h0m.9-.2h0m0 3.3h0m.2-4h0m.1 3.3h0m.5-3.6h0m.2 2.7h0m.4 .5h0m1.6-.1h0m1.4-3.3h0m.3 .7h0m.2 2h0m.6 1.1h0m0 .2h0m.3-1h0m.3-3.3h0m.3 1.1h0m.2 .2h0m1.1 .1h0m0 2.3h0m.2 .1h0m.1-1.5h0m.5-2h0m.2 1.7h0m.2 .9h0m.1-.2h0m.3 .3h0m.1 1.1h0m.3 .2h0m.4-2.1h0m.2 0h0m.1-.1h0m.2-2.1h0m.1 .1h0m0 2.8h0m.9 .8h0m.6-3.6h0m0 2.1h0m.2 2.1h0m.4-.6h0m.3-.4h0m.2-1.8h0m0 2h0m.1-.1h0m.1-1.3h0m0 2.2h0m.2-3.2h0m0 2.7h0m.2-2h0m.4 1.2h0m.1-.4h0m.1-1.1h0m.1-.9h0m0 1.8h0m.5 0h0m.3-1.2h0m.1 .8h0m.1-1.7h0m.5 1.3h0m0-.1h0m.1 .3h0m.1-.6h0m.1-.8h0m1.2 3.1h0m.6-1.1h0m0 1.3h0m.3-2.3h0m.3 1.2h0m.2 1h0m.3-.8h0m0 2h0m1.1-4.7h0m0 2.5h0m.1-2.1h0m.1 2.8h0m.5-1.7h0m.1 1.4h0m.4 0h0m.4-1.5h0m0 2.1h0m1-.3h0m0-.2h0m.4-3h0m0 1.6h0m.4-1h0m.1-.2h0m.3 1.3h0m.2 .6h0m.5-.4h0m.3 1.9h0m1-2.3h0m.1 1.6h0m.1-1.3h0m.8-.9h0m.4-.9h0m.6 3.2h0m.4-2.2h0m.5-.6h0m.6-.4h0m1.9 4.5h0m3.9-2h0m9.8 1.5h0m12.7-1.2h0m9.6-1.6h0m-367.8 6.5h0m.1-1.7h0m2.5 3.3h0m1.6-1.2h0m.9-2.8h0m.4 3.4h0m.5-3.3h0m.5 4h0m.2-3.1h0m1.6 2.1h0m1-3.1h0m.3 .8h0m.5 2.4h0m.7-2.7h0m.1 3.2h0m.4-1.2h0m.2-2.1h0m.1 4h0m.3-.7h0m.2-1.5h0m.5-2.3h0m.4 4.1h0m.3-2.2h0m.7 1.2h0m.6-.9h0m.3-1.5h0m.2 3.5h0m0 .4h0m2.1-3.2h0m.7 .4h0m.5-1.6h0m.4 1.4h0m.2-1.3h0m.2 .7h0m1.7-.6h0m.1 .3h0m.3-.4h0m.2-.6h0m19.2 4.7h0m.4-.5h0m1.6-.5h0m.4 .7h0m.7-2.3h0m.3 1.8h0m.1-1.6h0m.4-1.2h0m.4 .2h0m0 .8h0m0 2.1h0m1.2 .1h0m.2-2.1h0m.1 2.2h0m.8-1.5h0m.2-.7h0m.9-1.2h0m.5 1.3h0m.4 2h0m.1 .2h0m.5-.2h0m.2-2.5h0m.1 .7h0m.8-1.5h0m.3 .5h0m.1 3.1h0m.1-4.1h0m.4 1.5h0m1 .2h0m.9 0h0m.1 .1h0m4.4 0h0m1.8 .1h0m4.2 1.5h0m1.9 .7h0m199.5-2.6h0m4.8-1.3h0m1.8 3.1h0m.1-.3h0m.3-1.4h0m2.4 1.7h0m.5-2.5h0m1.7 1.8h0m.1-.7h0m.2-1.6h0m.2 1.1h0m.6 2h0m1.8-2.2h0m.3 0h0m0 .6h0m0 1.6h0m1.3-.5h0m.9 1.1h0m.5-1.3h0m3.8-1.6h0m.1 .3h0m.4-.3h0m.1 .9h0m.1 .2h0m.2-2.4h0m.4 4.4h0m.3-.9h0m.1-.9h0m.1-2.9h0m1.4 1.2h0m.3 .5h0m0 2.5h0m.4-.5h0m.3-2.4h0m0 1.8h0m.4-2.4h0m0 2.7h0m.1-1.5h0m.1 1h0m.2 1.9h0m.3-3.6h0m0 2h0m.4-1.9h0m.1 .7h0m2 .5h0m.9-.2h0m0 2.1h0m.3-2h0m.5-.3h0m0 1.2h0m.1 1.5h0m.3-.5h0m.9-.6h0m.1-2.1h0m0 1.9h0m.9 1.4h0m.5-1.8h0m.4-1.1h0m.2-1.2h0m.3 .6h0m.3 3.2h0m.1-.1h0m.1-2.5h0m.3-1.3h0m1.2 .2h0m.2-.4h0m0 .2h0m.4 .8h0m.2-.6h0m.2 0h0m.4 2.2h0m.3 1.2h0m.3-2.7h0m.1-1h0m0 3h0m.2-2.7h0m.5 .8h0m0 .5h0m.1-.4h0m.4 1.6h0m0 1.4h0m.8-1.9h0m.5-2.9h0m.3 2.7h0m.7 1.3h0m.4-1.8h0m.3-1.9h0m.3 2.4h0m0-.5h0m0 2.5h0m.1 .2h0m.1-2.9h0m.1 1.5h0m.7-3.2h0m.4-.3h0m.2 3.3h0m.2-3.3h0m0 .7h0m.1-.5h0m.1 3.8h0m.1-3.8h0m.1 3.7h0m.2-1.3h0m0 .8h0m.1-2.9h0m0 4.3h0m.2-2h0m.6-.1h0m.6-.2h0m1 2.4h0m.2-1h0m.4-1.6h0m.2 2.5h0m.3-.9h0m.3-3.5h0m.2 .9h0m1.1 1.2h0m.5-2.4h0m0 2.7h0m0 .3h0m1.1-3.1h0m.8 4h0m.5 .4h0m.3-.9h0m.3 .9h0m.9-3.7h0m.5 1.5h0m0 1h0m.1-1.9h0m.5-.4h0m.8 0h0m.5-.9h0m0 .2h0m.8 .1h0m.1 1.9h0m.1 1.2h0m1.5-3.3h0m.8 4.6h0m.4-3.6h0m2.7-.2h0m.3 .6h0m.6-.4h0m.1-.9h0m.3 2.5h0m54.3-1h0m-387.4 7.7h0m2.7 .4h0m1.1-2.6h0m.8 1h0m.4 0h0m.2 .3h0m.4-.7h0m1.2 0h0m.1 1.2h0m.3-1.2h0m.1 1.9h0m.1-2.8h0m.3 2.5h0m.1 .4h0m1.2-2.6h0m.2-.4h0m1.8 1.3h0m1.3-.4h0m.6-2.1h0m2.4 .4h0m23.4 2.5h0m1.3 .2h0m.4 1.1h0m.9-1.6h0m.2 .3h0m.6-3.2h0m.5 3.5h0m1-3.8h0m.1 1.2h0m0 0h0m.3-.9h0m0-.2h0m.3 3.6h0m.6-2h0m.7 1.1h0m0-.7h0m.8 .9h0m.6-1.1h0m0 1.5h0m.4-2.6h0m.4 .1h0m.8 1.6h0m.3-1.1h0m1.4 .5h0m.1-1.6h0m.1 .2h0m.6 0h0m.5-.2h0m.3 1.9h0m.1 .5h0m2.2-2.3h0m0 2.4h0m2.4-.9h0m.1 2.5h0m.6-3.1h0m2.1 2.6h0m207-.1h0m2.4-2.5h0m5.4-.1h0m1.2 2.2h0m.1-3h0m0 1.7h0m.1 2.3h0m.4 0h0m.1-.7h0m.7-.5h0m.1-3.2h0m0 1.9h0m.6-.5h0m.1 .5h0m.5-.2h0m1 3.2h0m.6-.6h0m.1-2.5h0m1.1 2.7h0m.1-3.7h0m0 3.8h0m.4-.1h0m.9-.7h0m1.6-2.2h0m.2 1.3h0m.3-1.3h0m.5-.7h0m.2 1.8h0m.1 1.6h0m.4-1.6h0m1-.7h0m.3-1.5h0m.1 4.4h0m.2-1.4h0m.1-1h0m2 .7h0m1.9 .8h0m.1-.2h0m0-.2h0m.1-1.1h0m.5 0h0m.2 1.1h0m0 .8h0m.2-3.1h0m.6 2.2h0m.3-3.1h0m1 4h0m.2-.7h0m.1-1.3h0m0 2h0m.5-.4h0m.3-3.7h0m.1 .4h0m0 .9h0m.3 3.1h0m.2-1.3h0m.9-1.2h0m.3 .6h0m1.1-2.2h0m0 4.1h0m.1-4.3h0m.1 3.9h0m.6-2.6h0m1.1-.7h0m0 1.9h0m.2 1.3h0m.2-3.9h0m.7 2.8h0m.9 1.3h0m.2-1h0m.7-.2h0m.4-2.8h0m.1 .5h0m.2-.6h0m.5 1.8h0m.3 .4h0m.1 .3h0m1.3-2.2h0m0 3.1h0m.5-2.4h0m.9 .1h0m.2 .5h0m.1 1.6h0m.4-.3h0m.1-2h0m.3 .8h0m.1-.1h0m1-.8h0m.3-.4h0m.7-.2h0m1.1 2.1h0m.3 .3h0m0 .2h0m.4-2.3h0m0 1.5h0m.1 .4h0m.2-2.2h0m0 1.3h0m.2-.5h0m.2 1.2h0m.3-1.9h0m.4-.6h0m0 3.1h0m1.9-2.1h0m.1 .5h0m.4 1.2h0m.4-2.6h0m.3 2.5h0m.1-1.2h0m.1-1h0m1.5 3.2h0m.4-.3h0m.1-.7h0m.4-2.5h0m.6 3.5h0m1.9-2.7h0m1-.2h0m.3-.7h0m2.4 1.1h0m.6-.9h0m1.4 3h0m5.1-.5h0m50-1.7h0m-397.5 5.4h0m6.3 3h0m1.2-2.1h0m1.1-1.2h0m1.2 .3h0m1.7 2.6h0m.5-.6h0m.2-.7h0m.5 1.4h0m.5-3.5h0m.2 3.1h0m.8 1h0m.5-.5h0m.3-2.6h0m.8 2.9h0m1.7-2.4h0m.1 1.4h0m0 .2h0m.7-1.3h0m.4-.2h0m.7 1.7h0m.1-1h0m0-.5h0m.9-.7h0m1.5-.8h0m22.2 3.4h0m1.5-.4h0m.6 .9h0m.6 0h0m.1-.6h0m.9-1.6h0m.8 .7h0m.4-2.2h0m.4 .9h0m0 .5h0m.1 0h0m.3-.4h0m0 1.7h0m.2-3.1h0m.2 4h0m1.5-.6h0m.2-2.2h0m.3 .5h0m.7 .8h0m0 .6h0m.5 0h0m.2-1.5h0m.5 .2h0m.1-2.2h0m0-.1h0m.7 .7h0m.4 .3h0m.1 2.4h0m.2 .7h0m.5-1.7h0m2 2.1h0m1-2h0m1.3 2h0m.3-4h0m.3 2.7h0m1.3 .5h0m.5-1.1h0m.1 1.9h0m.8-.9h0m.3-2h0m4 .8h0m1.4-1.7h0m0-.5h0m2.7 2.4h0m3-.5h0m14.9 .7h0m167.9 0h0m12.6-1.2h0m2.6 1.7h0m.9-.2h0m3.8-.1h0m2.8-2h0m5 2.5h0m.3-3.7h0m1.8 2h0m.5-1h0m.2 1.3h0m.8-.3h0m.5 2.1h0m.4-.1h0m.4-.6h0m.1 1.1h0m.7-4.4h0m.6 1.4h0m.9 3h0m.1-3.6h0m.4-.2h0m.3 1.4h0m.4 .5h0m.6 .9h0m.3-.9h0m.9 1.1h0m0 1h0m.3-3.5h0m1 .9h0m.5-.2h0m0 2.2h0m.1 .1h0m.1-1.4h0m.3 .4h0m.2 1.6h0m.6-.4h0m.4-3.2h0m.4-.5h0m1.2 3.1h0m.2-1.5h0m.5 1.2h0m.3-.6h0m.3-.2h0m.4 .3h0m.7-1.5h0m3.3 3.4h0m.2-4h0m.8 .4h0m.2 .8h0m.1 2.8h0m.1-1.3h0m0-.2h0m.3-1.6h0m.6 .5h0m.3 0h0m.8 2.6h0m.2-1.8h0m1.6 0h0m.2 1.6h0m.1-1.3h0m1.2-.9h0m.2-2.3h0m.1 .9h0m.3 .4h0m1-1.1h0m.2 0h0m.3 1.4h0m.4 2.2h0m.4-.8h0m.6-1.2h0m.5 1.7h0m.1-.1h0m.2 1.3h0m.3-3.9h0m.2 .9h0m.3-.1h0m.3 .2h0m.1-1h0m.2 .4h0m.2 2.2h0m.4 1.1h0m.1-3.1h0m.1-.2h0m.4 3h0m.9 .3h0m.1-1.4h0m2.8 0h0m1.3 .8h0m.2-2h0m1.9 .5h0m3.1-1.7h0m9.9 3.9h0m2.5-.9h0m11.8-1.7h0m-349.3 6.1h0m1.3-3.1h0m1 2.1h0m0 1.1h0m.9-1.7h0m.9 1.5h0m.3 0h0m.8-2.3h0m0 4h0m2.5-2.7h0m1-.8h0m.4 .4h0m.4-.5h0m.5 .2h0m22.8 2.7h0m.3-1h0m1 1.6h0m1.1-3.1h0m.1 2.1h0m1.1-.8h0m.1-1.4h0m0 3.1h0m.1-2.7h0m.1 1.1h0m.9 .1h0m.1 .8h0m.1 .3h0m1.4 .6h0m.7-1.2h0m.9-.7h0m.1 1.3h0m6.5 .1h0m.5-3.9h0m.1 1.2h0m1.2 0h0m2.5-1.5h0m.4 1.4h0m.9 2.2h0m3.3-2.6h0m1.6 2h0m7.5-2.4h0m26.6 1.5h0m160.4-1.6h0m1 2.6h0m7.5 .5h0m2.9-1.7h0m1.7-1.6h0m.1 4.4h0m1-2.9h0m.2-1.4h0m.5 1.5h0m3.1-2.1h0m6.1 2.9h0m2.8 1.6h0m2.9 .2h0m1-3.6h0m1.1 1.1h0m1.1 .4h0m.2 2.1h0m.1-3.2h0m.3 3h0m.4-2.5h0m1.2-1.6h0m.7 3.1h0m.7-2.3h0m.5-.1h0m.7-.1h0m.7 3.7h0m.3-2.6h0m1 1.3h0m2.4-.7h0m.1 .7h0m1-1.7h0m.3-1.1h0m.9 2.4h0m.4 1.6h0m.4-3.1h0m.5 1.9h0m.2-.1h0m.1-2.1h0m.3 1.7h0m.5 1.2h0m.3-3.9h0m.1 2.3h0m0 1.5h0m.8-1.6h0m1-2.3h0m.1 .6h0m.8 1.6h0m.2-.3h0m.4 2.2h0m.6-2.8h0m.3 2.5h0m.7-3.7h0m.5 .4h0m.4 4.3h0m.1-.6h0m.2 0h0m1-2.3h0m.1-1h0m.8 0h0m0-.2h0m.3 0h0m0 3.3h0m1.1-2.3h0m.7-1h0m.2 2.3h0m.1-2.6h0m0 .6h0m1.7 3.6h0m2.1-4.3h0m0 1h0m.7 0h0m.3-1.4h0m2.7 3.6h0m.5-.6h0m4-1.6h0m8.2 2.5h0m5.5-2.6h0m13.5-.8h0m-354.9 8h0m0-.2h0m3-1.3h0m1 2.4h0m2.2-2.1h0m.2-2.1h0m.3 3.4h0m.1 1.1h0m.2-3.8h0m.1 3.9h0m.9-2.7h0m.1-1.5h0m21.2 4.2h0m.8-.4h0m.3-.4h0m.8 .6h0m1.3-1.4h0m.7 .2h0m.5-2.1h0m.4 .1h0m.1 2.8h0m.8-3.5h0m0 2.2h0m.3-2.5h0m.1 .6h0m.1-.4h0m0-.4h0m.4 .1h0m.3 .2h0m.7 2.8h0m.7-2.5h0m.2 1.8h0m1-1.6h0m1.6-.7h0m.7 2.4h0m2.4 .7h0m.2-1.8h0m.1-.8h0m0 3h0m1.6-3h0m.3-.5h0m.7 2.2h0m17 .4h0m9.7 .2h0m185.9 .7h0m8.4-.3h0m2.3 1.3h0m1.6-1.1h0m7.6-2.8h0m.2 1.5h0m.9-1.9h0m6.1 .6h0m.5 1.3h0m.4-2h0m.4 3.7h0m.1-1.3h0m2.4 .2h0m.9-.2h0m.1-1h0m.2-.6h0m1.2 3.1h0m.1-2.1h0m.9-.2h0m.1 1.1h0m.5-1.4h0m.8-.1h0m1.8-.9h0m0 .7h0m0-.3h0m.1-.5h0m2.2-.3h0m2 1.6h0m.1 1.8h0m.9 .6h0m.2-1.8h0m.3 1.4h0m.6-2.1h0m0 .7h0m1.3 1h0m2.5-1.1h0m.5-1.7h0m2.3 0h0m.8 4.2h0m.4-4.2h0m.1 .3h0m1.1-1h0m1 4.9h0m4-4.2h0m.7 .8h0m.7 2.5h0m.2-2.7h0m7.7 .4h0m5.2-1.4h0m5.4 .3h0m6.4-.6h0m.1 2h0m6.7 2.2h0m-349.6 1h0m3.6 2.2h0m1.6-.7h0m0 1.3h0m.1-2.6h0m0 4.2h0m.4-.6h0m.1-3.1h0m0 2.3h0m.1-1.6h0m.2-1.3h0m0 4.4h0m.2-4.3h0m13 3.9h0m1.4 .1h0m.9 .4h0m.6-1.6h0m.2 .5h0m1.4-.1h0m1-1.9h0m0 2h0m.2-2.6h0m.7 .8h0m.9 .5h0m.3-1.6h0m.1-.4h0m.2 .6h0m0-.6h0m0 2.8h0m.2 .9h0m.2-2h0m.5-1.4h0m.3 2.2h0m.6-.4h0m.5 1.2h0m.1-1h0m.5-2.7h0m1 1.1h0m.3 .5h0m2 2h0m1-2.8h0m.7 2h0m.2-1.5h0m.4 .6h0m4.3 .5h0m.2 1.8h0m14.2-.7h0m203.4-1h0m3.8-2.1h0m.1 4.2h0m3.9-.1h0m12.9-1.2h0m0 1h0m3.9-2.1h0m1.4-.3h0m.4-1.6h0m4.7 3.9h0m4.3 .7h0m2-.6h0m.4-4.3h0m2.3 4.5h0m1.8-2.7h0m2.5 1.5h0m1.8 .9h0m.1-3.8h0m6.2 0h0m.5-.2h0m.1 4.1h0m.5-1h0m15.7-.1h0m1.9 1.1h0m10.9 0h0m1.2 .5h0m5.8-1h0m.9 1.1h0m-352.6 1.9h0m.2-.3h0m1.1 1.6h0m.7 .4h0m7.1-.7h0m3.3-.1h0m.4 .4h0m1.2 1.6h0m.7-2.4h0m.8 2.2h0m.2-2.3h0m.5 0h0m.3 .4h0m.3 .7h0m.4-1.2h0m.8-.2h0m.6 1.6h0m.7-1.3h0m.2-1.1h0m.4 3.4h0m.1 .1h0m3.2 0h0m.8-4.3h0m.3 1.4h0m.2-.5h0m.5 1.6h0m.3 .7h0m.9-1.1h0m.6 1.8h0m.7-2.9h0m.4-1.1h0m2.3 .1h0m2.9 .1h0m1.1 3.7h0m1.4-1.4h0m1.1-2.2h0m.9 .1h0m.3 2.9h0m2-1.8h0m11.4-.6h0m12.6 .2h0m198.3 .5h0m.1-1.6h0m7.5-.2h0m2.9 3.3h0m2.2-.7h0m2.1-2.5h0m11.6 1.8h0m6.4 .6h0m4.7 1.5h0m5.5-.5h0m2.8 1h0m4-4.5h0m1.3 1.3h0m2.9-1.1h0m2.6 1.4h0m.8 .6h0m1.5-.2h0m18 2.5h0m2.4-.3h0m2-3.1h0m.2 .5h0m.8 .8h0m.9-1.2h0m3.8 1.2h0m-350 4h0m.6 .2h0m.9-1h0m2.3 3h0m4-2.3h0m5.3 .4h0m.6 .2h0m.7-1.1h0m4.5 .5h0m.7 1.2h0m1-1.3h0m4.7 1.1h0m.6-2.2h0m.1 1.1h0m19 1.2h0m.2-.6h0m1.7-1.3h0m215.9 1.9h0m4.9-.5h0m1.5 1.9h0m4.4-1.2h0m4.1-2h0m.9 4.2h0m1.2-.6h0m1-1.4h0m2.4 1.8h0m1.7-2.2h0m.3-.6h0m1.7 2.5h0m6.8-3.4h0m1.6 3.3h0m1.3-.2h0m1.3-3.2h0m8.2 3.1h0m9 1h0m1.9-3.6h0m.7 .5h0m.9 2.2h0m5.7-3.7h0m18 1.3h0m18.4 1.3h0m-360.1 3.2h0m9.5 1.3h0m10.6-2h0m242.3 .6h0m.8 3.3h0m6-1.3h0m4.1 .8h0m1.8-1.5h0m1.7-1.3h0m.9 2h0m1.2-1.9h0m4 .2h0m1.6 3.5h0m1.1-3.5h0m.8 1.9h0m1.7 1.2h0m3.7-4.3h0m.7 .4h0m4 .3h0m.1 2.3h0m8.2 1.3h0m1.9-.3h0m5.5-3.9h0m1.7 .9h0m2.1 .9h0m.4 1.5h0m.7-3.5h0m2.8 .9h0m1.9 1.7h0m12.6-1.7h0m2.9 3.4h0m6.8-.9h0m-343.8 6.3h0m10.6-4.2h0m1.9 1.9h0m11.7 1.5h0m245.1-3.6h0m3.4 2.6h0m22.8-1.6h0m1.3-.7h0m.9 .3h0m.2 3.3h0m9.6-2.2h0m2.5 1.1h0m1-2h0m6.8-.8h0m4.8 .5h0m.7 .2h0m3 3.2h0m1.1-2.9h0m.7 2.2h0m11.9 1.3h0m.9-1.9h0m.4-1.3h0m6.2 .2h0m-347.9 4.4h0m.7 3.2h0m.3-.4h0m264-2.4h0m1.7-1.1h0m.6 2.5h0m5.5-3h0m.8 3.7h0m1.8 1.2h0m6.5-3.2h0m1.8 3h0m5.4 0h0m13.1-1.7h0m5.9-1.8h0m4.6 .5h0m1 2.5h0m1-.3h0m10.2-.8h0m.6-.9h0m-325.7 4.1h0m.5-.1h0m.2-1h0m262 2.9h0m.4-2.3h0m.9 .6h0m4.7 .7h0m8.1 .5h0m3.2-1.5h0m5.7 .7h0m.7 1.9h0m.4 .2h0m5.4-2.7h0m2 .5h0m6.1 3.1h0m8.8-3.9h0m3.4 0h0m17.6 .1h0m.7 3.7h0m-60.1 .8h0m1.4 .6h0m11.5 0h0m4.4-.1h0m8.1-.8h0m5.6 .9h0m1.2 .3h0m.2-.3h0m4.2-.8h0m1 .6h0m5-.4h0m-155.5 144.4h0m-10.1 7.4h0m-81.9 3.7h0m16.5 1.2h0m37.1-1.5h0m9 .5h0m1.1 2.9h0m3.1 .7h0m234.4-.2h0m20-1.2h0m3-1.1h0m13.5 2.1h0m6.3-1.5h0m14.1-1h0m1.8-.6h0m-356.8 5.6h0m7.5-.4h0m29.6 2.7h0m2.4-1h0m4 1.5h0m2-1.6h0m4.5 1.7h0m.5-3.4h0m3.7 1.7h0m1.7-2.4h0m.6 3.8h0m.8-.7h0m.9-1.5h0m.4 1.3h0m.7 .7h0m0 0h0m.3 0h0m.6 0h0m.6 .2h0m.3-1.9h0m.6 1.6h0m1.3-2.5h0m.5 3.2h0m1.1-.6h0m.9-4.1h0m.9 2.1h0m.6 1h0m1.2 .8h0m.5 .6h0m.4-1.7h0m.1 1.7h0m.9-3.4h0m.4 2.3h0m1 1.2h0m1-.4h0m1.3-.4h0m2.7-2.1h0m.2-.6h0m181 .1h0m3.4 .2h0m28.8 .7h0m2.6 1.8h0m2.5-2.9h0m.2 1.5h0m.6-.3h0m4.9 .4h0m2.2 1.9h0m1.7-2.9h0m1.4 .8h0m.1 1h0m.9-1.6h0m.6 1.6h0m2-.9h0m1-1.4h0m.1 2h0m.5-2.8h0m.1 1h0m.2-.3h0m.8 .7h0m1.8 1.2h0m.9-.2h0m1.2-2.6h0m.5 3.5h0m.7-2.4h0m.4 2h0m.1 .3h0m.5-2.1h0m3 2.2h0m.8 .8h0m.1-3.1h0m.9-.2h0m.2 2.8h0m.1-1.7h0m0 1.4h0m.2-.7h0m1-1.7h0m.2 3.2h0m1.3 .3h0m.5-.4h0m.1-1.5h0m.6 1.9h0m.8-2.2h0m1.5-1.3h0m.3 3.3h0m.7-4h0m0 2.4h0m.3-.5h0m1.5-.3h0m1.2 2.5h0m.9-.4h0m.6-1.8h0m1.7 .8h0m7.4-.3h0m5.4-.3h0m2.8 .1h0m7.1 1.9h0m-381.2 .9h0m6.3 2.8h0m2.5-1.7h0m13.9 .1h0m12.7 2h0m1.4 .2h0m.6-1.1h0m3.6 .6h0m.4 .3h0m1-.8h0m1.3-1.8h0m3.2 1.4h0m.1-1.1h0m.6 1.5h0m.1-.6h0m7.5-1.1h0m0 2.4h0m2.1-1h0m.2 1h0m1-.4h0m.5-2.7h0m1.9 2h0m0 1.6h0m.2-2.8h0m.9 2h0m0-.1h0m1.5-1.8h0m.3 1.6h0m.5-2.5h0m.2 3.3h0m.4-.9h0m.3 .7h0m2 .7h0m1.1 .1h0m.9-1.2h0m.2 .9h0m.8-.9h0m.1-2.2h0m.6 1.8h0m.3 0h0m.7 .9h0m.5-2.6h0m.3 .8h0m.3 1.9h0m.1-3.5h0m.2 4.4h0m1-3.3h0m0 3.1h0m.2-.8h0m0 .6h0m.4-3.9h0m0 4.1h0m.8-2.4h0m.5 1.5h0m.2-.7h0m.4 0h0m.1 .5h0m.2-1.5h0m0 1.4h0m.2-3.4h0m.1 3.9h0m0 0h0m.4-.3h0m.1-1.2h0m.5 1.2h0m.2-1.6h0m.5 1.8h0m.4-1.3h0m.1 1h0m.1 .3h0m.3-2.9h0m0 1.2h0m.2 1.2h0m1.4-3.4h0m.5 1.8h0m.3-1.8h0m.1 2.1h0m1.2 .8h0m.2-2.1h0m.7 .2h0m.2-.5h0m.5 .5h0m.6-.4h0m0 1.3h0m.1 0h0m.4-.6h0m.3-.1h0m.2 .9h0m.2 .9h0m.4-1.1h0m.8-1.2h0m.6 .6h0m.2-.5h0m.3-.3h0m.1 .1h0m0 .4h0m0 1.8h0m.6-2.2h0m0 .5h0m0 1.2h0m.1-1.4h0m.2-.5h0m0-.3h0m.1 .2h0m.2 0h0m.2 .9h0m.1-1.1h0m.3 3.7h0m.1-3.4h0m0 1.2h0m0 2.2h0m.1-3.2h0m.2 .9h0m.1-.3h0m.2 2.3h0m.2-.4h0m.6-2.2h0m.1 2.9h0m.2-1.8h0m.1-1h0m.2 2h0m.2-.8h0m.7 0h0m0 1.3h0m.1-.9h0m.2-1.2h0m.5 2.7h0m.7 .4h0m.1-3.6h0m.5 3.6h0m.3-3h0m.1-.9h0m.6 3.8h0m1.8-3h0m.1 .2h0m.3 2.5h0m.9-3.8h0m0 2.8h0m1.5-.4h0m14.2-1.6h0m160.1 1.4h0m2.3-2.5h0m17.7 4h0m7.6-1.3h0m9.2 .4h0m4.4 .1h0m1.5 .2h0m.4-2h0m2.3 1.8h0m1 1.5h0m.1-4.7h0m.4 2.4h0m1.2 1h0m.7 1.1h0m.2-2.4h0m.4 .5h0m0 2.2h0m.1-.8h0m.5-1.3h0m.1-.3h0m.3 1.9h0m.4-2.8h0m.3 3.4h0m.2-1.3h0m.3 .3h0m.5-1.9h0m.1-.4h0m1-.4h0m.1-.6h0m1.3-.6h0m.5 1h0m.2 0h0m.1 .1h0m.4 .4h0m.4 .7h0m.5 2.5h0m.1-.5h0m.2-1.3h0m.1 2h0m.5-4.8h0m.6 .7h0m.4 4.1h0m.1-.7h0m.7-2.8h0m.3-1h0m.3-.1h0m.4 .9h0m.1 2h0m.4 .2h0m.1-.1h0m.4-.8h0m1-2.2h0m.7 2.6h0m0 .2h0m.2-2.6h0m.3 2h0m0 2.4h0m.7-2.1h0m.1 .2h0m.5-2.6h0m0 2.5h0m.8-.7h0m.8 .2h0m.1 2.3h0m.3-3.4h0m.2-.3h0m.8 1.1h0m.5-.4h0m.2 2.3h0m.2-1.4h0m.2 2.1h0m.1-3.2h0m0 1.7h0m.2 .7h0m.1-3.7h0m.2 2.6h0m.2-2.7h0m.7 4.1h0m.5-.1h0m.5-2.6h0m.4 1.5h0m1.2-.8h0m.1-1.8h0m.3 1.2h0m.3 2.4h0m.1-2.9h0m.1 .1h0m0 3.7h0m.4-1.8h0m.6-1.6h0m.2 .2h0m.7 .9h0m.1-.7h0m1.7 .4h0m.3-2.1h0m1.8 .6h0m.2 2.8h0m1.5 0h0m.4 .2h0m.5-1h0m.2-1.7h0m2.3 2.8h0m1.9-.4h0m4.7-3.4h0m.1 4.3h0m3.6-4.3h0m.4 .6h0m1.6 4.2h0m-354.4 4.6h0m3.5-.4h0m1.1 .3h0m1.2 .4h0m2.7-4.4h0m.3 2.7h0m.7 1.3h0m2-.2h0m.9 .1h0m1.4-1.9h0m.1 1.6h0m1.2-1.8h0m.1 1.7h0m.9-.1h0m2.4-2.2h0m0 2.7h0m.2-2.4h0m.2 1.6h0m.8-1.8h0m.7 .4h0m1.5 .8h0m.1 .4h0m.1-.7h0m0-.5h0m1 .5h0m0 1.3h0m.2-2.7h0m.6 .2h0m1.5 3.4h0m.1-3h0m.6 3.1h0m.8-.1h0m0-.7h0m.1 .8h0m.4-3.9h0m.5 .5h0m.5 .2h0m.2 0h0m1.2-.4h0m0 1.7h0m1.5-1.2h0m.5 2.2h0m.5-.9h0m.8 .7h0m.2-1h0m.5-2.3h0m1 2.3h0m0-.3h0m.3-1.2h0m.5-.5h0m0 2.6h0m1.3 1.2h0m.1-.2h0m.3 .5h0m.5-3.9h0m0 3.7h0m.1-.8h0m.6-3h0m0 2.5h0m.4-1.2h0m.2-.8h0m.3-1.3h0m.4 3.8h0m.7 .6h0m.3-4.5h0m.5 2.7h0m1.9 1.4h0m.5-1.2h0m.4-.4h0m0 2h0m.2 0h0m.2-1.5h0m.5-1.6h0m.3 1.6h0m.9 .3h0m.2-.3h0m.3-1.6h0m.2 3h0m.5-1.2h0m.2 1h0m.1-3.4h0m.4 3.8h0m1-1.4h0m0 1.4h0m.8-3.1h0m.7-.8h0m0 2.8h0m.4 0h0m.3 .9h0m.3-3.6h0m0 .9h0m.6 2.7h0m.3-.4h0m.3 .8h0m.5-2.4h0m0 .1h0m.2 .8h0m.4-3.1h0m0 3h0m.4 1h0m.1-2.3h0m.3-.5h0m.1 2.2h0m.3-1.2h0m.1-2.4h0m.1 .1h0m.1 .1h0m19.8 1.7h0m1.3-1.1h0m0 2.5h0m.3-3h0m0 1.6h0m.6 1.1h0m.2 .6h0m.2-.9h0m.7-.3h0m.1-1.2h0m.6 .8h0m1.1 .7h0m.2-2.1h0m.6 .6h0m.4 2.2h0m.9-.5h0m1.6 0h0m2.3 1.8h0m.4-.6h0m1.1-2.6h0m0 1h0m5.1 .5h0m154.4-2.3h0m14.1 2.6h0m.5-2.2h0m1.5-.2h0m1 2.3h0m.7 1.7h0m9.9-2.2h0m4.2 .3h0m1.5-1.6h0m2.8 .1h0m10.7 0h0m.7 2h0m2.5 1.1h0m3.6-1.7h0m.9-1.5h0m.4 .2h0m0 .6h0m.1 .4h0m.6-2.1h0m1.1 2.4h0m.2-.6h0m.4 2h0m.7-.8h0m.4 1.4h0m.7-1.6h0m.1-.1h0m.8-.9h0m.1-1.4h0m.5 1.1h0m.4 1.2h0m.4-.3h0m.6-2h0m.7 2h0m0-.9h0m.4 .1h0m.4 1.1h0m.2 1.1h0m.5-.3h0m.9-2.5h0m.2-.5h0m1.2 2.8h0m.9 0h0m.1 .9h0m.4-3.8h0m.4 3.3h0m.1-2.9h0m.1 3.3h0m.9-.5h0m.1-3.7h0m.4 4.1h0m.1-1.7h0m0-.5h0m.3-.2h0m.4 2.4h0m.1-.1h0m.6-2h0m.2 1.9h0m.1-2.2h0m.1-.1h0m.2 .6h0m.6 .3h0m.6 .8h0m.2-3.4h0m0 .7h0m.1 1.3h0m.3 1.4h0m.3-1.9h0m0 2.2h0m.7 0h0m.3-.4h0m.1-1.9h0m.6 1.2h0m0 .6h0m.2 1.1h0m.2-1.5h0m.2-1.5h0m.2 2.4h0m.1-2.2h0m.4 .1h0m.1 .7h0m.4 1.8h0m.6-1.5h0m0 1.1h0m.1-3.5h0m.4 .2h0m.9 3.9h0m.3-1.3h0m1.1-2.4h0m.1 1.7h0m.1 .8h0m.1-2.1h0m.2 .3h0m.2-1h0m.1 2.4h0m.1-1.7h0m.4 1.8h0m.1 0h0m.7 1.3h0m.8 .5h0m.1-3.3h0m.2 1.6h0m.2 .8h0m.8-1.8h0m.2-.1h0m.1-1.7h0m.3 1.9h0m.5 .7h0m0 0h0m.3 .4h0m.2-2.9h0m0 1h0m0 1.4h0m.1-.6h0m.5-.2h0m.1 1.6h0m.1-3.4h0m0 2.8h0m.3-1.8h0m.1 .4h0m.5-1.6h0m.1 .4h0m.6 .9h0m1-.3h0m.5-.8h0m.5 .8h0m.3 3.3h0m1.9-1.3h0m.7-.7h0m.9 2h0m0-.2h0m.6-1.9h0m5.8 .8h0m3.1 1.3h0m2.4-1.1h0m.3-.3h0m2.6-1.6h0m0 1.1h0m-372.5 7h0m2.3 .2h0m.6-.6h0m.1 .7h0m.6-2h0m1 .4h0m1.5-.1h0m4.5-2.8h0m1.7 2h0m.6 .4h0m1.8 1.3h0m.1-2.1h0m.6 2.2h0m1.2-3.8h0m.8 1h0m.6 .4h0m.6 2.3h0m1-.2h0m1.3 1.1h0m.3-3.4h0m.3 3.3h0m0-.2h0m.6-1.5h0m1 .5h0m.1-3.4h0m.2 1.9h0m.1-1.1h0m0 2.1h0m.4-1.8h0m.3 3.6h0m.3-1.1h0m.2-3.2h0m0 2.7h0m.2-1h0m.1-1.7h0m.3 .9h0m.8-1.4h0m.3 4.8h0m.1-.8h0m.4 .3h0m1.4-1.8h0m.9-1.9h0m.6 2.8h0m1 1.1h0m.6-1.3h0m.2-2.4h0m1.5 .5h0m.3 .6h0m.1-1.8h0m.1 3.4h0m.1 1.2h0m0-.8h0m.5 .4h0m.1-4.1h0m.1 3.5h0m.1-2.1h0m.8 2.9h0m.9-2.7h0m.3-1.5h0m.7 4.4h0m.3-.1h0m.7-1.3h0m.1-.7h0m.4 1.8h0m0-.3h0m.1-.9h0m.1 .9h0m.1-1.8h0m.1-2h0m.9 1.8h0m.4-.4h0m.1-1.7h0m.1 .5h0m.1 .4h0m.3-.4h0m0-.1h0m0 2.2h0m.3-2.1h0m.1 .9h0m.3 2.6h0m.6-2.1h0m0-.9h0m.4 .7h0m.2-.3h0m.1 .2h0m.4 .3h0m.5-.7h0m0 2.3h0m.4-2h0m.6-.1h0m.6 .2h0m.3 1.2h0m.1 .5h0m.3-2.3h0m.2 2.3h0m.8-3.3h0m0 3.5h0m.2-1h0m.1-2.5h0m.2 .3h0m0 4.2h0m.2-2.8h0m.3-.7h0m.1 1.6h0m.3 .8h0m.3-.5h0m1.3 .2h0m.2-1.2h0m.3-.4h0m0 2.2h0m.5-2.4h0m.2-1.3h0m0 1.7h0m.3 0h0m0 .6h0m.3 1.2h0m.1-3.3h0m.8 .5h0m0-.2h0m.2 .8h0m1-.4h0m.2 2.8h0m.2-.7h0m.2-1.9h0m0 1.5h0m0 1h0m.4-2.3h0m1.5 2h0m.1-3h0m0 1.5h0m.1 1.9h0m.5-2.6h0m.5 .3h0m.3-1.3h0m.9 4h0m.6-.5h0m.3 .5h0m.7-.5h0m1.4 .8h0m1.5-4.1h0m.8 .8h0m.3 .9h0m.6-1.1h0m.6-.9h0m.1 .4h0m.2 3.4h0m.2-2.5h0m.1 2.8h0m.7-1.1h0m.1 .4h0m.3-.8h0m.4-1.2h0m.7 .8h0m.3 .3h0m.2-2.4h0m0 2.1h0m.3-.1h0m.1-1.2h0m.2-.4h0m23 2.5h0m0 1.4h0m.1-2.2h0m0-.1h0m.2-1.6h0m.1 2.6h0m.2 .5h0m.1-1.8h0m0 .3h0m.2 .5h0m.1-1.9h0m0 .7h0m.1 2.2h0m.3 .1h0m.2-.7h0m.1 .5h0m.2-2h0m.1-.8h0m.3 1.6h0m.2-.5h0m.1 1.3h0m.2 .9h0m.5-3.4h0m1 2.1h0m3.4-2.1h0m.5 3h0m1.9-.3h0m.9-1.9h0m4.1 .4h0m1.5 .1h0m153.1-.8h0m3.3 3.2h0m2.8-.2h0m2.6-.4h0m1.6 1h0m3.4-3.9h0m.1 1h0m5.6 1.8h0m2.1-.9h0m4.3 .3h0m.6-1.1h0m1.2 1.2h0m5.2 1.7h0m1.6-4.7h0m3.4 .2h0m2.7 1.8h0m3.4 2.3h0m.4-1.1h0m.9 1.3h0m4.6 .1h0m.1-.4h0m.3-.2h0m2.3-2h0m.4-1h0m.3 2.6h0m.8-2.9h0m0 2.2h0m.4-.1h0m.1 .2h0m1.4 0h0m1.4 .4h0m.1-3.5h0m.1 1.6h0m.8 3.2h0m.4-2.1h0m.2-.5h0m.1-.2h0m.4 2.5h0m0 .1h0m.1-1.8h0m.1 .4h0m.2 1h0m.4-2.2h0m1.1-.5h0m1-1h0m.1 2.7h0m.2-2.9h0m0 .8h0m.3-1h0m0 1.8h0m.1-.2h0m.2 2.1h0m.4-2.5h0m0 3.4h0m.1-2h0m.5-.2h0m.2-1.7h0m.2 1.1h0m.6 1.2h0m.4-2.8h0m.5 3.8h0m.6-2.9h0m.1 2.1h0m.1-1.6h0m.4 1.9h0m.4 .1h0m.6-1.6h0m0 1.2h0m.4-.5h0m.4-2.7h0m.1 4.2h0m.5-1.2h0m.8-.5h0m.1 1.4h0m.7 .4h0m1.1-4.3h0m0 1.9h0m.3 2.8h0m.9 0h0m.1-1.3h0m.2 .9h0m.4-3.1h0m0 0h0m.3 2.5h0m.3 .2h0m.1-1.1h0m0 1.4h0m.1-3.4h0m.1 2.4h0m.1-1h0m.2 .7h0m.3-1.8h0m.9-.4h0m0 2h0m0-.8h0m.1 .3h0m.4-.1h0m.7-1.1h0m.4-1h0m0 2.4h0m.1 1.6h0m.2-3.9h0m.1 .9h0m.5-1.2h0m0 2.1h0m.2 1.6h0m0-.1h0m.4-.3h0m.1-2.6h0m.3 2.3h0m1.1 1.4h0m.3-2.9h0m.1-1.5h0m.4 2.8h0m.1-2.1h0m.5 2.8h0m0 .3h0m.3-1h0m.4-.6h0m.2 2h0m.4-2.6h0m.8 2.6h0m.1-3.8h0m.1-.4h0m0 2h0m0 1.3h0m.3-.4h0m.3-.6h0m.1-1.2h0m0 0h0m0 .2h0m.3 3.4h0m.2-3.5h0m.2 1.7h0m0 .7h0m.6-1.2h0m.9-1h0m0 3.2h0m.5-.9h0m.2-.7h0m0 1.8h0m.1-1h0m.7-1.7h0m0 1.4h0m.2 0h0m0-.1h0m.4-1.5h0m0 1.9h0m.1 .3h0m.1-1.5h0m.7-1.2h0m.3-.2h0m0 0h0m.1 2.3h0m.4-2.8h0m0 .8h0m.1-1.1h0m0 2.9h0m.4-1.8h0m.1 2.7h0m.1-1.1h0m.4-1.8h0m1.1 2.2h0m.1 .2h0m.1-3h0m.2 3.7h0m.1 .1h0m.5-1.6h0m.4-2h0m0 .2h0m1-1h0m1.8 1.2h0m7 1.8h0m2.3 1.7h0m1.5-.4h0m1.1-.6h0m7.3 .4h0m1-.6h0m-388.9 6h0m1.1-4.2h0m2.4 1.8h0m.5-1.1h0m.2 2.2h0m.1-.8h0m1.3-.9h0m.8 3.3h0m.8-3h0m.2-1.6h0m.9 1.6h0m.6-1.5h0m.5 3.1h0m.5-1.7h0m.1-.4h0m1.1-.2h0m1.6 .4h0m0 2h0m.6 .3h0m.3-2.3h0m0-.3h0m1.2 1.2h0m.5-1.8h0m1 2.5h0m.2-2.2h0m.2-.8h0m1 3.3h0m.1 0h0m.2-1h0m.2-1.6h0m.7 2h0m.3-.2h0m.3-1.2h0m.4 1.6h0m0 .6h0m.6 .2h0m.5-2.8h0m.7 .6h0m.4-1.5h0m.4 1.2h0m.3-.1h0m.4 .2h0m.1-.3h0m.5 2.1h0m.1-.7h0m0 2.1h0m.3-4h0m1.4 3.6h0m.5-3.1h0m.6 3.5h0m.2-3.5h0m0 .9h0m.2-1.4h0m.4 1.6h0m.2-1.4h0m.7 .6h0m.1 2.7h0m.1 .4h0m1-2.5h0m.5 .6h0m1.1-1.9h0m.7 1.9h0m.1 1.6h0m.7-3.3h0m1-.6h0m.5 4.5h0m.1-.1h0m.8-1h0m.1-.2h0m1.1-1.6h0m.4 2.7h0m.1-1.2h0m.3-2.3h0m.7 1.2h0m.4 1.1h0m.6-.8h0m.1 1.5h0m.6-2.8h0m.2-.5h0m.1 1.5h0m.1 1.4h0m1.7-2.8h0m.3 1.7h0m.1-1.6h0m.3 .8h0m.1 .2h0m.3 1h0m.2-2.7h0m.5 4.5h0m.5-2.8h0m.1-2h0m0 4.3h0m.1-2.9h0m1.1-.5h0m1.8 .8h0m0 2.3h0m.6-.7h0m.1-2.1h0m.2 2.6h0m.1-2.2h0m.2 1.9h0m.6-3.1h0m0 0h0m.2 1.2h0m.1-1.3h0m0 .9h0m0 3.1h0m.3-2.9h0m.7 .3h0m.2-.8h0m0 2.2h0m.1-.9h0m.1 1.8h0m.2-1.8h0m.9 .4h0m.1 0h0m1.1 1.2h0m.1-2.8h0m.2 2.4h0m.9-2.7h0m.2 3.6h0m.7-.5h0m.1-3.1h0m.8 3.7h0m.2-2h0m.2 1.5h0m.1-1.9h0m.6 1.1h0m.1-2h0m0 1.3h0m0 1.8h0m1.3-1h0m.1-3.1h0m.6 0h0m1.7-.1h0m0 2h0m.6-1h0m.7 2.6h0m.1 .7h0m.5-3.2h0m.2 1.1h0m0 .4h0m0 1.5h0m.5-1.2h0m.1-1.7h0m.5-.9h0m0-.4h0m0 2.7h0m.4-.4h0m.2-1.2h0m.7 1.2h0m.2-1.9h0m.3-.2h0m.4 1.2h0m.3-.6h0m1 .9h0m.6-.7h0m1.6-.1h0m.3 .7h0m1.3 .4h0m2.7-1.9h0m.2 1.1h0m0 1.7h0m.5-1.7h0m0 2.2h0m.1-3h0m.4 4h0m.2-1.6h0m0-.4h0m.7 .2h0m0 2.3h0m.1-.1h0m.1-3.7h0m.2 3.4h0m.4-1.6h0m.1-1h0m.1-1.4h0m0 1.7h0m.1 2.1h0m.1-1.2h0m.1 1.8h0m.3-1h0m0 .3h0m.1-1.7h0m.1-.8h0m.3 .7h0m.4 2.4h0m.1-1.9h0m.1-.7h0m.1 1.5h0m0 .1h0m.6-.1h0m.2 .2h0m0-.7h0m.1 .2h0m21.8 1h0m.4-.9h0m.1-2.7h0m0 .5h0m0-.1h0m.1-.6h0m.3 1.7h0m0 1.8h0m.1-1.3h0m.1 .9h0m0 .4h0m.2 .2h0m.4-2.3h0m.3-1.1h0m.1 1.3h0m.1 1.1h0m.9-1.9h0m.2 2.2h0m.2-.4h0m2.4 .5h0m.8 .9h0m4.7-1.3h0m1.3-.4h0m3.1 0h0m164.2-.7h0m10.7-.4h0m7.2-.6h0m3.6 1.5h0m10.6-.8h0m1 1.6h0m4.2-2.3h0m2.5 3.6h0m.1-.4h0m.6-4.3h0m.8 3.9h0m.7-1.8h0m1.6-1.6h0m1.3-.3h0m1.2 .8h0m.3-.9h0m.7 2.7h0m.2-1.8h0m.1 2.5h0m.2-2.4h0m0 .8h0m.4-1.4h0m.4 2.9h0m.4-3.5h0m.1 .4h0m.4 1.5h0m.4-1.4h0m.6 1h0m.1-.6h0m.2 3.4h0m.3-.1h0m.6-4.1h0m.7 .8h0m.5 0h0m0-.5h0m.1 1.2h0m1.3 3.2h0m.9-4.8h0m.3 2.1h0m.1-.6h0m.3 1.1h0m0-.1h0m0 2.3h0m.2-2.5h0m.5-2h0m.3 4h0m.2-3.4h0m.3 3h0m.4 .4h0m.4-4.1h0m.2 4.7h0m.1-3.7h0m1.2 1.4h0m.6-1.8h0m.2 2.2h0m.2 1.3h0m.9-.5h0m.1-2.6h0m0 1.9h0m.1-1.2h0m.6-1.7h0m0 4.2h0m.1-2.8h0m.3 3.1h0m.1-2.5h0m.1 1.9h0m.1-3.9h0m.2 4.5h0m.1 0h0m.3-1.7h0m.7-.7h0m.4 1.5h0m.3-3.7h0m.4 2.7h0m.6-.4h0m0 1.7h0m.5-2.1h0m.1 .7h0m.1 .3h0m.4-.1h0m.2-.5h0m.3-1.2h0m.2 2.6h0m.1-1.7h0m.1 2.6h0m.2-2.4h0m0 2.2h0m.2-1.2h0m.3-.1h0m0-.1h0m.8-2.1h0m.2 2h0m.1 1.7h0m.5-1.7h0m.2-1.8h0m.1 .2h0m.6 .5h0m.6 .4h0m.4 .1h0m.2-.7h0m0 .5h0m.2 .8h0m.1-1.2h0m0 1.7h0m.3-3.2h0m0 2.4h0m.3 2h0m.2-2.2h0m.4 1.4h0m0 .5h0m.2-.6h0m0 .8h0m.3-3.1h0m0 2.9h0m0 .4h0m.2-2.1h0m.6-2.1h0m1 1.3h0m.1 .1h0m.2 .2h0m.5 1.8h0m.2-1h0m.1-1.7h0m0 2.8h0m0 .8h0m.2-4.1h0m.2 2.7h0m1.3-2.7h0m.5 3.5h0m.7 .1h0m.3-3.8h0m.5 3h0m.3-2.3h0m1.8 2.1h0m0 1.3h0m.1-3h0m0 1.9h0m.1-1.8h0m1.5 1.7h0m0 1.3h0m1-4.5h0m10.6 1.7h0m6.1 .4h0m3.1 .3h0m-397.2 5.4h0m7.5 1.6h0m2.3-1.4h0m.4 1h0m2.1-1.5h0m0-.4h0m.1 1.6h0m.5-3.2h0m.1-.1h0m.4 3.7h0m.7-1.1h0m1.9 0h0m.6-1.4h0m0 1.8h0m.6-2.1h0m0 .8h0m.2 1.9h0m.1-1.4h0m.4 .9h0m0-.2h0m1-.5h0m.8 .2h0m.3-3.1h0m.2 0h0m.1 3.2h0m.1-1.5h0m.1 1.5h0m.2 .4h0m.4 .8h0m.3-2.1h0m0 1.1h0m.2 .4h0m2 .5h0m1.1-2.9h0m.4-.4h0m.9-.9h0m.3 4.6h0m.2-1h0m1.5-.8h0m.4 1.8h0m.1-4.4h0m.8 .8h0m.1-.6h0m.3 1.3h0m.3-.2h0m.7 .3h0m1-.7h0m1.5-1h0m1.2 3.5h0m.2 .7h0m.1-2.7h0m1.6-.4h0m.3 2h0m.7 .2h0m.4-1.5h0m0 .5h0m1.4-2.3h0m.7 .4h0m.6-.8h0m.4 4.1h0m.2-3.5h0m.9 .2h0m.2 .7h0m.1 .6h0m.1-1.9h0m.3 4.7h0m.1-2.5h0m.1-.6h0m.1-.5h0m.3 1.8h0m.2 1.1h0m.5-2h0m.4 .1h0m.1 .5h0m0 1.4h0m0 .5h0m.8-3.2h0m.4 1.1h0m1.3-2.6h0m.3 .9h0m.2 1.1h0m.2 2.9h0m1-3.3h0m.4 .6h0m0 1.3h0m.6 1.1h0m.2-.8h0m.3-.8h0m1-2.9h0m.3 1.5h0m1 .8h0m.6 .3h0m.1 2.2h0m.4-1.8h0m.3-2.9h0m.4 1.6h0m.2 .9h0m.1-1.3h0m.1 2.6h0m.4 .7h0m.3-3.1h0m.3 2.6h0m.8-2.3h0m.3-.1h0m.1-.5h0m.1 1.1h0m.6-1h0m.2-1.1h0m0 2.3h0m.1 1.2h0m.5 1h0m.4-4.6h0m.5-.2h0m1 2.1h0m.2-2.1h0m0 3.3h0m.1-1h0m.7 0h0m0 2.3h0m.3-1.1h0m.3-.8h0m.2-1.1h0m.6 1.7h0m.2 1.6h0m.2-4.9h0m.7 1.6h0m.2 2.8h0m.3 .1h0m.2-2.1h0m.5-2.2h0m.8 .7h0m.1 2.5h0m.7-1.1h0m.2 2.5h0m.5-3.7h0m.2 .6h0m.1-1.2h0m0 1.7h0m2.8 1.6h0m.8-2.7h0m.1-.5h0m.5-.2h0m1.6 4.3h0m.3-.8h0m1-2.9h0m0 3.9h0m.4-3.2h0m1 .7h0m.5-1.2h0m.2 1.9h0m.3-1.6h0m.4-.1h0m.6-.8h0m1.6 .6h0m0 3.4h0m.5-1.3h0m.1-.3h0m1.3-2.6h0m1.7 .6h0m.2 .9h0m0 .4h0m.2-1.7h0m0 2.5h0m0 .9h0m.2-1h0m.6-.6h0m.9-.9h0m1.8-1h0m.8-.5h0m.1 0h0m.1 3.1h0m.2-.6h0m0 1.8h0m.4-3.6h0m.2 .6h0m.1 1.1h0m.9-1h0m.2 1h0m.3-.8h0m0 3.1h0m.3-1.8h0m.9 .7h0m.1-.3h0m.2-.1h0m19.2-.8h0m.2 2.4h0m.1-3.5h0m.2-1.2h0m0 4.3h0m.2-1.2h0m.1-1.4h0m.2 1.7h0m0 .3h0m.2-.5h0m.4 .4h0m.2-.8h0m.1 .3h0m.3-.9h0m.3 1.6h0m.6-.1h0m.2-2.3h0m.5 .2h0m.2 .9h0m.6-2.3h0m.5 1.7h0m1.6 2.9h0m166.2-2.2h0m4.8 1.3h0m10-.1h0m1.3 .6h0m6.1-2h0m21.2 .3h0m6.5-1.6h0m.6-.4h0m1.3 3.9h0m.6-3.7h0m2.9 1.1h0m2.2 2.3h0m.5-4.1h0m.1 4.2h0m.2-2.6h0m0 1.6h0m.3-3.5h0m.1 4.5h0m.2-2.2h0m.5 1.3h0m0 .6h0m.2-.5h0m.1-2h0m.7-1.1h0m.2 4.3h0m.1-3.8h0m.1-.5h0m0-.5h0m.7 1.5h0m.4 1.4h0m0 .7h0m.3 .5h0m.2-1.5h0m0 2.1h0m1.1-3.8h0m.4 3.3h0m.4-2.5h0m.8 .9h0m.4 .2h0m.1 1.2h0m.7-2.4h0m.2 .6h0m.1-1.7h0m.5 2.4h0m.1-1.7h0m.1 2.5h0m.4 1.1h0m.1-4.5h0m0 2.8h0m.6-1.3h0m.1-1h0m.2 2.9h0m.4-1.6h0m.5 1.2h0m.1 1.1h0m.1-1h0m.9-2.4h0m0 2.9h0m.4-3.2h0m.5 .3h0m.3 3.3h0m.7-.5h0m.1-.5h0m.5-2h0m0 1h0m0 1.2h0m1-3h0m.1 1.8h0m.9-.3h0m.4 .2h0m.2 .4h0m.2 1.3h0m.8-3.2h0m0 0h0m0 2.3h0m.1-2.5h0m0 2.3h0m.7-1.3h0m.3 2.9h0m.1-2h0m.3 1.3h0m0 .2h0m.5-3.9h0m.4 2.8h0m.3-.1h0m0-.6h0m.4 .7h0m.4-2.5h0m.4 3.5h0m.2-3.6h0m.3 .3h0m0 2.7h0m.2 1.2h0m0-.5h0m.2-.7h0m1 1.5h0m.2-2.3h0m.5 1.7h0m.7-4.1h0m0 3.7h0m.2-.5h0m.2-1.8h0m.4-.6h0m.1 2.6h0m.4-.8h0m0 1.8h0m.1-1.6h0m0 0h0m1.5 .5h0m.2 1.5h0m.4-.7h0m.1 .7h0m.9-1.3h0m.8-.1h0m.3-.8h0m.3-.1h0m.6 1.8h0m.5 0h0m.1-.4h0m.7 .2h0m.3-1.3h0m3.4-2.6h0m5.5 2.9h0m7.7-1.9h0m-404.5 6.1h0m1 1.8h0m14.3 .3h0m6.7-4.1h0m1.4 0h0m.6 2.9h0m.9-3h0m.3 1.4h0m.3-1.3h0m.8 .9h0m1-.7h0m2 .6h0m.6 1.5h0m.3-1.2h0m.1 2.3h0m.2-3.1h0m.7 .4h0m.6 .8h0m4.5-1h0m1.9 0h0m.5 1.4h0m0 1h0m2.5-1.9h0m2.1 .6h0m.4-1h0m.3 .1h0m.5 1.4h0m.3-.6h0m.2 1.8h0m.4-2.9h0m1.6 1.1h0m.4 1.5h0m.5-2.1h0m.3-.3h0m.3-.8h0m.2 1.8h0m2.5-.5h0m2.1 .3h0m1-1h0m1 1.1h0m.6-1.5h0m.4 2.9h0m.4-.1h0m1.2-2.3h0m.3 .3h0m.8 2.5h0m.1 .9h0m1.4-4.2h0m.8 2h0m.2-1.7h0m.1 2.6h0m.3-2.8h0m.1 .7h0m.7 .3h0m.1 1h0m.3-1.1h0m1.1 1.5h0m1.4-.5h0m.6 .3h0m.6 .7h0m.7-.6h0m.2-2.4h0m0 3.6h0m.1-.3h0m.7 .4h0m.5-2.3h0m0 2.8h0m.5-3.4h0m.3 .7h0m.1 1.2h0m.6-1.3h0m.7 1.4h0m1.8-2.3h0m1.6-.8h0m.7 1.5h0m.1 .6h0m1.6-2h0m.6-.1h0m.4 2.8h0m.5-.1h0m.7-1.8h0m.2-.4h0m1 .2h0m0 1.2h0m.5 1.3h0m.8-1.7h0m.1 2.3h0m.2-3.7h0m0 1.1h0m.3-.9h0m2.2 2.1h0m.3-.5h0m.1-1.3h0m.7 1.2h0m1.7-1.4h0m.6 .5h0m1-.5h0m.5 .6h0m1.2 .1h0m0 1.4h0m1-1.6h0m.1 2.2h0m.2 .2h0m.7-1.9h0m.5 1.1h0m1.1 .1h0m1.3-.2h0m.9-1.6h0m.1 .4h0m2.1 3.6h0m1.7-1.9h0m.6-2.1h0m.7 .4h0m0 .5h0m.6-.2h0m.2 .2h0m.5-.1h0m.9-1.4h0m.4 .2h0m.4 3.5h0m.2-2h0m0 .3h0m0 0h0m.1 .5h0m.4-.4h0m.7 2.3h0m15.7 .1h0m.5-.2h0m.5-.3h0m.4-3.4h0m.1 2.9h0m.1-2.6h0m.1 .5h0m.2-1.4h0m0 3.1h0m0 .1h0m.1 .3h0m.1-1.1h0m.1 2.1h0m.1-4.4h0m0 0h0m.3-.4h0m0 1.5h0m0 3.2h0m.5-4.2h0m.2 2.4h0m1.2 1.5h0m.8-2.1h0m.1-.7h0m0 2.2h0m.2-1.2h0m.3 .5h0m.1 .9h0m2.9-.4h0m1-1.2h0m.9 .8h0m.7 1.6h0m4.3-2.6h0m.3 2.5h0m161.5-2.1h0m5.1-1.5h0m8.8 2.3h0m3.4 1h0m2.2-4.1h0m21.5 1.3h0m4.3 2.1h0m2.6-2.3h0m0 1.5h0m3.4-.9h0m1-.1h0m.5 2.1h0m.3-1.4h0m0-.2h0m.7 .5h0m.6-1.7h0m.2-.2h0m.5-.4h0m0 1.4h0m.3 .4h0m.1-1.7h0m.4 3.5h0m1.2 .1h0m.4-2.6h0m.7-1.4h0m0 2h0m.3-.3h0m.6-.3h0m.4-.1h0m.3 2.8h0m.1-2.8h0m.7-1.6h0m.5 4.1h0m.9-3.8h0m.2 3.2h0m.1-3.4h0m.4 .5h0m.8 .6h0m.1 2.2h0m.3 .5h0m.5 1h0m1.2-4.1h0m.1 .6h0m0 2h0m.2-.8h0m.1-1.9h0m.6 .1h0m.1 1.5h0m.1 0h0m.3-.1h0m.4-2h0m1 3.6h0m.2-1.8h0m.3-1.1h0m.4 2.7h0m.2-3h0m.2 1.1h0m0 2.7h0m1.7-2.5h0m.7 .4h0m.4-.2h0m.6-1.1h0m0 2.6h0m1.1-3h0m.1 2h0m.8 .6h0m.3-3.2h0m.1 .7h0m.4 3.5h0m.4 .4h0m.9 0h0m.8-3.4h0m1.2 .1h0m.3 3.1h0m.2-2.3h0m.7-.4h0m.2-1.2h0m.8 3.8h0m.1-2.1h0m.1 1.8h0m1.1-4h0m.2 2.7h0m.5-1.9h0m.4 .1h0m.1 3.3h0m.2-.6h0m.8-1.8h0m.4 .8h0m.4-2.2h0m.5 3.5h0m.4-.9h0m.6-.1h0m.1-2.4h0m0 1.7h0m.8-2.1h0m.2 3.3h0m.2-1.2h0m.7-1.3h0m0 2.4h0m.8-2.4h0m.1-.7h0m1.2 .7h0m.3-.9h0m8 3.2h0m1.5-1.7h0m.3 2.2h0m4-1.9h0m-409.1 7.9h0m.1-.5h0m10.7-.1h0m2.8 .8h0m4.2-2.4h0m1.4-.1h0m.6-1.4h0m0 3.1h0m2.4 0h0m2.8 .8h0m.8-3.9h0m.6 2.4h0m.4-.5h0m4.1 0h0m0-.4h0m.6 .1h0m.1 1.4h0m.4-2.6h0m.3 2.6h0m.1-2.4h0m1.8 .7h0m3.6-.3h0m1.6-1.2h0m1.4 .8h0m3-1.6h0m.1 2.2h0m2.1-.9h0m.3 1h0m2.2 .4h0m1.6-.3h0m1.1 1h0m.4 1.3h0m.6-3.3h0m1.6 3.1h0m.4-2.6h0m1 1.4h0m2.4-.2h0m0 1.1h0m.1-1.2h0m4.2 1.2h0m2.8-.6h0m.4-.5h0m3 .2h0m.2-2.2h0m1 3.6h0m.9-3.2h0m.2-.1h0m1.6 2.8h0m.6-1.5h0m4.9-2h0m.6 .3h0m5.7-.3h0m8.8 3.2h0m9.6-1.8h0m3.1-1.5h0m.1 3.9h0m.3-.6h0m.1-1.4h0m.4 .1h0m1.3-.4h0m1.8 2.7h0m.2-4.7h0m.4 4.4h0m.6-1.9h0m.2 .9h0m.9-1.8h0m0 .8h0m.3-1.1h0m.8 1.3h0m.1-.5h0m0 .9h0m.6 .1h0m0 1.4h0m.2-.8h0m.1 .5h0m.7 .4h0m.1-.7h0m11.3 .7h0m.1-.1h0m.1-1.9h0m.2 1h0m0 .4h0m0 .7h0m.2-1.1h0m.1-1.3h0m.1-1.4h0m.2 3.5h0m.1-3.7h0m.1 3.6h0m.1-2.3h0m.2 .3h0m.2 1.2h0m.2-1.9h0m.1-1.1h0m0 1.9h0m0 .1h0m.2-.5h0m.3 1.7h0m0 .7h0m.1-2.9h0m.1 2.3h0m.1-3.2h0m.2 2.7h0m.3 .6h0m.3-3.5h0m.4 3.4h0m.2 .4h0m.3-2.5h0m0 .3h0m1 2.6h0m1.9-4.6h0m2.4 4.4h0m1.7-4.2h0m1.7 3.2h0m3-2.3h0m1.4 2.5h0m119.7-2.4h0m42.4 2.3h0m4.5-3.4h0m1.4 2.3h0m6.7 1.1h0m1.8-2.5h0m7.9-1h0m6.1 4.7h0m11-3.5h0m3.4 3h0m0-.2h0m5.4-2.6h0m7.6 0h0m.7 0h0m.4-.4h0m.2 2.2h0m.9-1.9h0m.6-.7h0m.2 3.6h0m.1-2.4h0m.7 2.6h0m.2-2.5h0m.3-1.8h0m.5 3h0m.9-1.6h0m.4-1.6h0m0 4.7h0m.3-.6h0m.1-3.8h0m.5 .2h0m.7 3.5h0m.8-1.9h0m.1-1.9h0m.5 .4h0m0 1.6h0m.1-.1h0m.3 1.3h0m.3-1.7h0m1.4 .1h0m0 .4h0m.4-.4h0m.1-.5h0m1.4 3h0m.1-4.3h0m0 3.3h0m.2-.9h0m.5-2.3h0m.9 4.7h0m.8-4.7h0m.2 3.4h0m0 1h0m.3-3.5h0m.1 1.5h0m.5 .6h0m.7 .4h0m0 .7h0m.2 .4h0m2.1-.6h0m.2-1.8h0m.1-2.2h0m0 2.1h0m0 2.7h0m.1-3.8h0m.2 .3h0m1-1.3h0m.8 1.4h0m.5 2.7h0m.2-.3h0m.2-.9h0m.4 1.3h0m0 0h0m.1-1h0m.5-3.2h0m.6 .1h0m.3 4.5h0m1.8-.7h0m.5 .7h0m.2-3.6h0m.1 1.4h0m.2 2.4h0m.2-2.2h0m.4 .8h0m.2-2.4h0m.1 3h0m.6-2h0m0 1.5h0m.3-1.1h0m.1-2.4h0m1.4 4.8h0m2.2-2h0m1.9 0h0m2.8 1h0m6-3.8h0m-409 7.4h0m2.9-1.9h0m.3 4.1h0m1.5-.6h0m1 0h0m3.2-.4h0m.1-2h0m.8-1h0m.6 1.2h0m.1 0h0m2.1 2.2h0m1.2-.5h0m.1-.5h0m1-1h0m.8-2h0m1.1 1.5h0m0 1.1h0m1.9-1h0m.6-1h0m2.3 3h0m.3-1h0m.5 1.6h0m.6-.7h0m.1-1.5h0m.2-.8h0m2-.6h0m.5-.5h0m.4 4.4h0m.1-3.1h0m.1 1.8h0m.6 .1h0m0 0h0m.3 1.4h0m.1 .1h0m.2-1.6h0m.2 .8h0m.2-1.4h0m.1 1.1h0m.4 0h0m.1-3h0m1.8 .6h0m.1 1.2h0m.3-2.1h0m.2 1.6h0m.1 1.7h0m.2-.4h0m.9-.7h0m.7 .3h0m.3-2.5h0m.5 1.7h0m0-.1h0m.2 .6h0m.5-.5h0m.4 .6h0m.1-.6h0m.4-.2h0m.1 2.4h0m.3-3.1h0m.2 2.7h0m1 .9h0m.7-3.7h0m0 1h0m.1 1.4h0m.1 1.3h0m.7-1h0m.2-1.9h0m0 2.6h0m.5 .1h0m.9-3h0m.6-.1h0m.3 .2h0m.1 2.3h0m.1 .2h0m2.2-.4h0m.8-3.2h0m.3 1.3h0m.1 2.1h0m.9 0h0m.1-1.3h0m.9 1.3h0m.5-1.2h0m0 1.8h0m.3-1.2h0m.7-2.1h0m.2-1.1h0m.5 3h0m.4-1h0m.3-1.5h0m.3 .3h0m.4-.1h0m.8 3.2h0m.4-3h0m.3 .2h0m.2 2.9h0m.2 .3h0m.1-3.6h0m.7 2.5h0m.4 1.1h0m1.6-2.6h0m.4-1.1h0m.1-.4h0m.2 2.5h0m.8-2h0m.6 2.3h0m.3-2.1h0m.2 2.6h0m1-.6h0m.7-1.1h0m.7 .7h0m.5-1.9h0m.2 3h0m.3-1h0m.5-2.6h0m.6 3.4h0m.2-.1h0m.4-.6h0m.9-.6h0m.2 1.6h0m0 .8h0m1.1-3.2h0m1 2.9h0m1.6-.5h0m.2-.4h0m0-.1h0m.1 1.3h0m2-1.6h0m1.9 .7h0m.1-2.3h0m.1-1.6h0m2.3 4h0m.3 .5h0m.9-4.1h0m.5 4.4h0m3.2-1.6h0m7.4 1.7h0m27.2-4.4h0m1.3 4.1h0m.6-2.4h0m.5-1.9h0m.7 3.6h0m.2-2.3h0m.3 1.8h0m0 .9h0m.3-3h0m.3 1.7h0m.2-.9h0m.3-1.5h0m0 0h0m.1-.2h0m.1 .5h0m.4 1.3h0m.8-1h0m.6 0h0m.1 2.4h0m0 .5h0m.2-.7h0m.3-1h0m.4 .8h0m.1-.3h0m.4 .2h0m.1 1.7h0m.1-1.2h0m.2 1.2h0m.1-2.4h0m.3 1.3h0m0 1.2h0m1-2.1h0m0-.7h0m.4-.1h0m.2 1.1h0m.2 .6h0m.4-1.1h0m0 .2h0m.3-.7h0m.1 1.6h0m.3-.8h0m.1-.2h0m.2 1.4h0m.1-1.3h0m.6-1.8h0m.2 3.6h0m.3-1h0m.2-2.3h0m.1 1.3h0m0 .6h0m.3-1.7h0m0 .5h0m.1 1.3h0m.3 1.4h0m.1-2.8h0m.2 2.7h0m.2-2h0m.6 0h0m.3-2.4h0m.3 3.1h0m.3 .5h0m.3-3.3h0m.2-.4h0m0 .2h0m.1 .3h0m.1 .1h0m.1 3.7h0m.6-2.7h0m.1-1.2h0m.5 2.3h0m0-.1h0m.7-2.3h0m2.8 3.5h0m.1-.2h0m.8-.3h0m.6-1.3h0m.1-1.2h0m2 1.4h0m.9-1.9h0m5.8 1.8h0m128.5 .9h0m4.2 .9h0m13-1.4h0m1.2 .7h0m1.5-.9h0m1.8-.9h0m5.1 1.6h0m1.5 .7h0m.5 0h0m6.2-1.5h0m.1 .9h0m1.4 1.1h0m.3-.4h0m1.8-1.8h0m4.6 2.6h0m1.8-1.4h0m4.4 1.3h0m2.4-3.6h0m2 .1h0m6.1 3h0m20.1-2.5h0m8.4-1.4h0m3.4 3.4h0m2-3.6h0m0 2.5h0m.6-1.2h0m.1-.6h0m1.1 1.1h0m.2 1.5h0m.6-1.8h0m.4 1.4h0m2.6 0h0m2-1.8h0m.8 .9h0m.6 1h0m1.7-1.2h0m.4-.4h0m0 2.5h0m.3-2.6h0m.3-.1h0m.2 1.8h0m.1 .4h0m.1-.5h0m.9-1.1h0m.3 2.3h0m.4 .2h0m.2-1.8h0m.2-2.3h0m1.2 1.8h0m.3-1.5h0m.4 1.7h0m.1-.4h0m.5-1.3h0m.4 2.7h0m1.4 .6h0m.9-3.8h0m0 2.3h0m.7-1h0m.1 3.2h0m.1-4.5h0m.4 .5h0m.2 2.3h0m.4-2.3h0m.4 3h0m.3 .3h0m0 0h0m.2-2.7h0m1 3.7h0m.4-1.2h0m1.3 .1h0m.9-.3h0m.5-.5h0m2.4-.4h0m.3 1.1h0m3.2-1.5h0m.3 .3h0m5.8-1.1h0m-406.1 8.2h0m4.9-2.2h0m1.2-.7h0m3.5 .3h0m.2 .7h0m.1 1.3h0m.8-1.3h0m1.1 .3h0m2.4-2.8h0m.9 4.7h0m.5-3.8h0m.3 1h0m.4 1h0m.5 .8h0m.6-1.5h0m.3-2.1h0m0 4.6h0m.1-1.2h0m.2-1.4h0m.8-1.9h0m1.8 1.7h0m.9 2.1h0m.1-2.8h0m.2 3h0m.1-.1h0m1.6-3.2h0m0 3.1h0m.7-2.9h0m0 1.4h0m.1 0h0m0 1.9h0m.3-.5h0m.4-2.5h0m0 .8h0m.1 2.6h0m.6-3.6h0m.1 1.9h0m.9-2.6h0m1.2 1.8h0m.3-1.8h0m.4 1.5h0m.3-1.4h0m.3 4h0m.2-.4h0m.6-2.6h0m.3 2.9h0m.2-.4h0m.4-1h0m1-2.1h0m0 2.3h0m.1-.7h0m1.3-1h0m.4 2.9h0m.6-2.6h0m0 .8h0m.2-.8h0m.5-1.5h0m.1 3.3h0m.2-1.8h0m.4-.1h0m0 2.9h0m.2-3.9h0m0-.8h0m.4 3.8h0m.1-3.6h0m1.7 3.9h0m0-.2h0m.2-2.7h0m.1 .2h0m.1 1h0m.4 1.2h0m.6-.6h0m.5-.7h0m.2-.3h0m.2 1.4h0m.6-1.9h0m.3 .1h0m0 1.8h0m.1-.9h0m.1-1.5h0m.4-.9h0m.1 2.1h0m.6-1.8h0m.6 3.5h0m.3-1.5h0m.1-1.9h0m0 1.2h0m.8 1.6h0m.2-.1h0m.3 .7h0m.1-3.7h0m.2 3.4h0m.5-2.4h0m.2 2.6h0m1.5-.3h0m.2-2.3h0m.3-1.1h0m.8 .1h0m.1 2.4h0m.4-2.2h0m.2-.4h0m.2 4h0m.1-.8h0m.2-2.9h0m.1-.3h0m.3 2h0m0 .3h0m.4-1.1h0m.3 1.9h0m0 1h0m.1-3h0m.1 1.9h0m.2-.5h0m.9-2.5h0m.1 3.5h0m.2-2.2h0m.1 .8h0m.3 1.3h0m.3-2.8h0m.3 2.2h0m0 1.7h0m.5-4.1h0m0 3.9h0m.1 .1h0m1.2-2.1h0m.7 1.2h0m.5-1.6h0m.2 1h0m.4 1.5h0m.6 .3h0m.3-.5h0m.1-2.2h0m.1-.7h0m.3 3.3h0m.2-1.7h0m.3 .6h0m1.9-.3h0m.4-.5h0m.1-2.8h0m.5 .4h0m1.1-.2h0m1.1 3.2h0m.3 .1h0m.5-2.5h0m.2-1h0m1.6 4.4h0m1.1-.2h0m.6-.6h0m2-3.2h0m1.9 4.2h0m.1-.1h0m.1-2.8h0m1.5 1.8h0m.8-2.6h0m.3 0h0m.6-.3h0m1.4 2.1h0m2.2-1.4h0m0 1.3h0m15.2 .2h0m10.4 1.5h0m6.5-2.5h0m1.8 .8h0m3.5-1.1h0m.1-1.5h0m.1 .2h0m.2 1.8h0m1.3 1.9h0m.2-3.5h0m.4 3.3h0m.3 1.1h0m1.1-1.6h0m.3-.8h0m.5 1.4h0m.7-2.1h0m.2 1.5h0m.4-1.9h0m.1-.7h0m.1 0h0m.8 3.2h0m.4-1.3h0m1.3-2.2h0m.3-.1h0m1.3 3.6h0m.9-1.2h0m.6-1.3h0m.4 2.5h0m.4-1.6h0m1.3-1.7h0m.7 1.9h0m.3 1.1h0m.4 1h0m3.4-2.5h0m1.2-.9h0m.8 .8h0m2.3 .3h0m2.5 .6h0m120.5 1.5h0m.4-4.2h0m20.1 1.8h0m1.9 1.4h0m.4-3.1h0m2.5 1.8h0m5.3 .2h0m1 2.4h0m.3-1.4h0m.6-2.9h0m.2 4.2h0m.5-1.5h0m1.1 .6h0m.2-2.2h0m1.2-.4h0m0 3.9h0m.4-.4h0m.3 .3h0m.4-2.2h0m.9-1.5h0m0 2.1h0m.5-.6h0m.6 .6h0m.7 .6h0m1-1.1h0m.2-1.6h0m.1-.4h0m0-.6h0m.7 .9h0m.4 3.7h0m1.1-.8h0m.9-1.4h0m.6 .4h0m.2-.1h0m.9 2h0m.2-1.2h0m.8-1.9h0m.7-1.6h0m.6 4.6h0m2.5-.5h0m0 .1h0m.4-1.5h0m.2-.1h0m.4-.8h0m.9 2.7h0m1.3-3.6h0m.1-.3h0m.2 3.8h0m.8-.3h0m.4-1.9h0m.8 2h0m1.7-4.3h0m.2 2.4h0m.1 2.3h0m.7-2.5h0m1.1-1.9h0m.5 3.3h0m.1 .4h0m.5-3.4h0m1.5-.4h0m1.5 0h0m2.2 1.7h0m.5 1.3h0m.9-1.1h0m.3 2.7h0m.1-.1h0m3-2.4h0m.4 1.1h0m.3-2.3h0m11.8 3.2h0m.6-4h0m.6 3.3h0m.6-1.8h0m.5 1.8h0m.5-.5h0m17.3-.1h0m5.8 .1h0m.5-2.2h0m2.8 .8h0m5.3 1.4h0m.4-.9h0m.3 1h0m2.1-1.8h0m.7-1h0m.3-.4h0m0 1.1h0m1.4 1.2h0m1.4 1.5h0m.1-3.3h0m3 2.2h0m.1-.5h0m.3-1.7h0m0 3.1h0m.1-1.7h0m.3-1.9h0m.1 1.4h0m0 2.9h0m1.1-3.9h0m.4 0h0m.7-.1h0m1 4.4h0m.3-1.8h0m.4-.1h0m.3 .1h0m1.2 1h0m.7 .9h0m.3-1.2h0m1.1 1.2h0m.8-1.7h0m1.4-1h0m1.5 2.3h0m1.4-3.5h0m10.8 3.2h0m1.7-.1h0m-410.7 1.3h0m0 .3h0m2.9 3.9h0m.2-1h0m.2-1.2h0m1.3-.8h0m.1-1.4h0m1.4 1.1h0m.4 2.5h0m1.4-2.8h0m.4-.4h0m1.5 3.7h0m2.9-3.3h0m1 1.8h0m1.4 1h0m.6-.7h0m.7 1.7h0m.8-4.6h0m.4 1.2h0m.2 1.6h0m.6 .8h0m1.1 .2h0m.7-.9h0m2.1-1.1h0m1.5 .7h0m.7 .1h0m.3 .4h0m.3 1.3h0m.6-4h0m.1 2.9h0m1.5-2.3h0m.7-.4h0m0 2.2h0m.3 1.1h0m.6-.8h0m.3-2.8h0m.2 2.3h0m.2 1.5h0m.6-1.1h0m.3-2h0m.2 2.2h0m.6-.2h0m0 .4h0m1.2 .2h0m.5-.5h0m2.3 .2h0m.1 1.6h0m0-.1h0m.1-2.5h0m0 .2h0m.2-.5h0m1-1h0m.3 .5h0m.4-1.2h0m.1 .4h0m.1 3.9h0m.2-3.8h0m.7 .9h0m.1 1.1h0m.3-.6h0m.2 1.2h0m.1-1.5h0m.6 2.7h0m.9-1.6h0m.1-2.6h0m.2 4.4h0m.5-1.3h0m.8-.5h0m1.1 .6h0m1.6-.5h0m1.1-2.2h0m.2 4h0m.3 0h0m.3-4.7h0m.3 .4h0m.5 .2h0m.4 2.8h0m.7-.6h0m.8 1.7h0m1-.9h0m.3-2.8h0m.4-.1h0m0 3.4h0m.6-1.2h0m.8-1.9h0m1 2.3h0m.1-2.8h0m1.2 1.1h0m.4 1h0m.1-.2h0m.6-2.3h0m.4 3.1h0m.8-2h0m.3 2.9h0m1.2-3.4h0m.2 3.5h0m1.3-4h0m1.4 2.3h0m0 1.1h0m.4 .5h0m1.2-2.3h0m.2 .4h0m.1-1.4h0m.1 3h0m1.5-2.5h0m.1-1.5h0m0 3.9h0m2.4-.8h0m.1-2.7h0m1.3 4.1h0m.2-.2h0m2.5-1.2h0m.2 .6h0m.2-1.9h0m.7 1.1h0m1.1-.7h0m.4-.7h0m.7-1.5h0m11.5 4.7h0m2.3-.8h0m10.6-2.7h0m9.5 2.6h0m2.4-.5h0m.1-2.5h0m.1 1.6h0m.8-.5h0m.5-.9h0m2.4 2h0m1.1-1.7h0m.2-.3h0m.5-.8h0m.2 1.4h0m0 2.5h0m.4-1.3h0m4.3-2.3h0m.5 1.3h0m.1 2.2h0m.8-1.8h0m.4-.4h0m1-.8h0m5 .5h0m.6 .9h0m8.4 1.1h0m2.7-.2h0m.4-1.2h0m113.6 2.6h0m11.4-2.7h0m.6 2.9h0m.3-3.3h0m7.4 2.6h0m3.1 .7h0m.1-.9h0m.8-.7h0m.9-.1h0m.4-1.6h0m.4 1h0m.9 0h0m.2 2h0m.7-3.8h0m1.6 1.7h0m.1-.7h0m0 3h0m.3 0h0m1.1-.6h0m1-1.1h0m.6 .5h0m.8-.6h0m.4 .2h0m.2 .5h0m1.9-1.8h0m.7 2h0m.6-.7h0m.1-1.7h0m.6 .9h0m1.1 2h0m1.6-3.2h0m.1-.3h0m1.9 .2h0m.3 2.1h0m.2 .6h0m.7-2.9h0m.4 .5h0m.4-1.1h0m.1 1.4h0m.5 1.6h0m.3-3.2h0m.3 3.5h0m.9-2.7h0m1 4h0m1.3-2.3h0m.3-.9h0m.3-1.5h0m0 3.6h0m.6-1.4h0m.3-.2h0m.1 1.1h0m.9 .4h0m.1-2.1h0m1.3-.8h0m.9 1.6h0m.7 2.3h0m.2-3.9h0m.4-.7h0m.1 .5h0m0 4.1h0m.4-4.2h0m.2 2.4h0m.1 1.4h0m.1-2.6h0m.3 2.1h0m.5 .2h0m0 .4h0m1.2-1.8h0m1 1.1h0m.3-1.4h0m.6-.4h0m.1-1.5h0m.4 1.7h0m.4-1h0m.6 3.2h0m.3 .1h0m.2-2.9h0m.4-1.5h0m.2 4.6h0m.4 .1h0m.1-.8h0m2.2-.9h0m.6-2.1h0m.1 1.3h0m0 .8h0m.1-1h0m.3-1.2h0m.5 0h0m0 .5h0m.5 .6h0m.1 2.9h0m2.3-.1h0m.5-.2h0m1.2-.7h0m.4-2.7h0m.7 3.1h0m1 0h0m1.2-1.3h0m.6 1.7h0m1.1 .2h0m4.6-3.3h0m7.6-.4h0m.8 1.9h0m17.9 1.5h0m2.8-2h0m6.4-1.1h0m5.7 2.1h0m2.4-2.1h0m2.8 3.1h0m4.5-3.8h0m1.1 .2h0m1 .6h0m.2-.4h0m6.2 1.1h0m1.9-.5h0m11.8 1.6h0m-407.5 4.9h0m3.3-.5h0m.1-1.9h0m1.2-.6h0m.1 .4h0m.5 4h0m.3-3.9h0m3 4.2h0m.5-1h0m.7-1.9h0m1.8-1.4h0m.7 1.6h0m0 .9h0m.1-.6h0m1.4-1.4h0m.3-1.1h0m0 1.8h0m1.7 .8h0m.8-.4h0m.1 .2h0m.1-.8h0m2.8 1.4h0m1.2 .2h0m.7-.2h0m.6-1.2h0m.5 .6h0m.2 2.4h0m.2-.8h0m.1-.9h0m.1-1.3h0m.4 2h0m.4-2h0m.1-1.2h0m.3 4h0m.5-3.7h0m1.2 4h0m.4-2.7h0m.4-1.2h0m.3-.9h0m.8 2.5h0m.4-1.4h0m.6 .2h0m1.6-.3h0m.2-1.1h0m0 1.8h0m1.4 .8h0m.8-.6h0m0 2.8h0m1-4.8h0m0 4.3h0m.5-1.9h0m0 2.5h0m.6-4.7h0m0 .8h0m0 .7h0m0 2.5h0m.2-2.3h0m0 .6h0m1.1-2.4h0m.3 .2h0m1 .6h0m.1 2.6h0m0-.4h0m.4-2.4h0m.9 1.7h0m.8-1.6h0m.2-.5h0m.6 .2h0m.1 3.4h0m.8 .7h0m.4 0h0m1.3-.7h0m.2-2.1h0m.4 2.7h0m.3-2.5h0m.2-.6h0m.7 .7h0m1.6-.2h0m.4 1.2h0m.1-2.1h0m1.4 1.2h0m0 1.3h0m.6-1.8h0m.1-1.3h0m.1-.2h0m0 3.7h0m1.9-1.1h0m1.1-1.9h0m.9 3h0m.2-3.4h0m.3 3.5h0m.3-4h0m.2 .8h0m.5 .7h0m.6 2.8h0m.4-3.3h0m2.4-.2h0m0 4.1h0m.2-1.5h0m.1-.5h0m0 1.8h0m.6-4.3h0m.4 1.2h0m.4 2.9h0m.1-1.3h0m.7 1.4h0m.4-3.6h0m1.8-1h0m1.5 2.1h0m.6-1.4h0m2.6 1.7h0m.4 1.2h0m.5-1.6h0m.7 1.9h0m.6-3h0m10.7 1.3h0m11.6 2.7h0m.9-3.4h0m5.8-.7h0m1.3 3h0m1.7-3.1h0m2.5 4.2h0m4.9-3h0m.3 1.8h0m.4 0h0m.2-3.4h0m0 3.5h0m1-2.7h0m0 3.4h0m.2-2h0m5.6-.2h0m2.6 .6h0m1.1 .8h0m.8-3.6h0m.7 4h0m.5-4.1h0m4.5 4.9h0m.2-4h0m.9-.9h0m2.1 2.5h0m.8-.4h0m1.1-.5h0m.1 2.4h0m1-.7h0m.8-1.4h0m.4 .7h0m.7 2.2h0m1.6-.2h0m133.4-1.5h0m2.5-2.3h0m2.9 1.2h0m1.1 1.1h0m2.3-1.7h0m.1-1h0m1.3 3.9h0m1.6-3.3h0m.3 3.3h0m.6-1.8h0m.7-1.5h0m.6 3h0m1.6-.1h0m.2-.6h0m.4-3.1h0m.4 3.9h0m.1 0h0m.7-.3h0m.2-1h0m.3-2.5h0m.2 1.5h0m.2 2.4h0m.5-3.8h0m.5 .5h0m0 3h0m.3-3.9h0m0 4h0m.2-.1h0m.2-.1h0m0 .9h0m.6-4.2h0m1.3 2.1h0m0 .8h0m.3-1.6h0m0 .5h0m.3 1.7h0m.3 .1h0m.1-.8h0m.2-.3h0m.7-.3h0m0 2.2h0m.1-.4h0m.2-.2h0m.5-1.4h0m.7-2.7h0m.4 2.5h0m.2-2.2h0m0 3.5h0m.1-.7h0m.2 .2h0m.4-2.4h0m.3-.5h0m0 1.9h0m1.1 2.3h0m1.9-1.3h0m.2-.1h0m2.1-1.1h0m.1-1.9h0m.2 2.1h0m.1-1.2h0m.1 .4h0m.1 1h0m.2 1.1h0m.4-3.5h0m.8 4.2h0m.1-1.6h0m.1 1.3h0m.2 .5h0m.6 0h0m.2-.6h0m.1-2.5h0m.1-.3h0m.5 .1h0m0 2h0m.2-1h0m.3-2.4h0m.4 0h0m.2 .3h0m0 1.6h0m.1-1.3h0m.3 .2h0m0 1.8h0m.2-1.9h0m.7 2h0m.6-1.8h0m1.9 2h0m0-.6h0m.3 2.2h0m.1-3.7h0m.2-.1h0m.1 3.4h0m.1-1.3h0m.3 2.1h0m.6-2h0m0 .7h0m.3 .8h0m1.8-1.5h0m.1-.6h0m0-.3h0m.7 1.9h0m.1-.2h0m.1-1.6h0m.8 1.4h0m.1-3.2h0m.4 2.7h0m.7 .1h0m1.7-1.3h0m.8-1.1h0m.2 1.4h0m.5-.6h0m.5 1.9h0m.3 1.4h0m.2-1h0m1-.3h0m.1-1h0m1.1 1.7h0m.2-.1h0m.3-1.1h0m.3-2.1h0m.4 1.9h0m0-.3h0m.1-1.9h0m.3 2.6h0m.8 1.4h0m2.2-1.8h0m.2-.7h0m0 .7h0m0 1.5h0m.1-1.1h0m.1 1.1h0m3.3-.5h0m7.3-3.3h0m.7 4h0m5.6-1.4h0m.2 1.6h0m2.5-4.3h0m28.5-.2h0m3.6 2h0m.6 .3h0m2.4-1.8h0m4.1 2.9h0m10.3 .4h0m7.8-3h0m-402 4.2h0m1.2 2.7h0m.3 1.8h0m.2-.7h0m2.5-2.1h0m1.4-1.8h0m1.9 0h0m1.4 2.2h0m.4 .6h0m.1-2.4h0m.2-.1h0m.6 .9h0m.2-.7h0m1.4-.4h0m.3 1.8h0m.5-.3h0m.3 1.2h0m.5-.3h0m.5-2.5h0m0 1.7h0m1.6 1.3h0m1-2.7h0m.1 .3h0m0 .7h0m.2 .1h0m.2 2.9h0m.7-.4h0m1.4-.5h0m.5-1.8h0m.4 .3h0m0-.2h0m.8 .9h0m0 .3h0m.2 1.6h0m.2-.8h0m1.5-3.8h0m.1 3.6h0m.4-3.4h0m.4 3.7h0m.3-2.5h0m0 .2h0m2.3 2.7h0m.9-2.1h0m.6 2.4h0m1-4.1h0m.2 0h0m0 3h0m.2-3.1h0m.2 2.6h0m.2-1.9h0m.3 0h0m1.1 .3h0m.6 .3h0m.3-.4h0m.5 2.4h0m1.1-2.6h0m.8-1.1h0m.2 3.6h0m.4 1h0m1.8-4.5h0m.2 1h0m1.3 .3h0m.8 2.5h0m2.4 .1h0m1-2.1h0m.1-1.6h0m0 4.6h0m1-.4h0m.3-1.6h0m.1-.5h0m.5 1.2h0m.4 0h0m.3-3.2h0m1.6 1.4h0m.5 .8h0m.4 1h0m.2-1.1h0m1.1-.2h0m.1-1.7h0m.2 1.4h0m2.3-.7h0m.4-.7h0m1.1 4.3h0m.2-2.7h0m.1-.3h0m.4 .7h0m1 1.6h0m.5-3.2h0m.9 .4h0m.3-.4h0m.8 1.7h0m5.3 .3h0m18.4-2.4h0m18.9 2.7h0m3-3h0m1.7 .4h0m1.9 1.6h0m1.1 1.4h0m1.9-.2h0m1.1-2.2h0m4.6 1.7h0m.7-2.2h0m2.2 1.6h0m.1 1.4h0m2.8-2.6h0m.7 2.3h0m0 0h0m1.6 1h0m.5-1.1h0m.8 1.1h0m2.6-.2h0m.8-1.8h0m2 .8h0m.8-3h0m1.4-.1h0m.6 4h0m1.2-.3h0m114.3-.4h0m5.5-.1h0m1.4-1.8h0m.8 1.3h0m1.6 1.9h0m3.7-.3h0m4.8-.9h0m3.9-1.5h0m.3-.4h0m.4 .7h0m.5 1.6h0m.1-4h0m1 .6h0m.2 3h0m.4-2.2h0m.7 1.7h0m.3-.2h0m1.7-2.5h0m.1-.4h0m0 4.7h0m.7-4.7h0m.6 .1h0m0 4.3h0m.2-3.3h0m2.1-1.1h0m.2 4.5h0m.1-1.4h0m.1-2.6h0m0 1.8h0m.1 .1h0m.2-2h0m0 3.7h0m.1-3.5h0m.1 0h0m.5 1.2h0m1.5 2.2h0m.3-1.3h0m0 1.9h0m.1-2.6h0m0 2h0m.6-1.9h0m0 1.6h0m.2-2h0m1.1 3.2h0m.2-4.1h0m.1 3.4h0m.7-.7h0m.2-3.1h0m0 3.6h0m.4-1.6h0m.9-1.7h0m.1 .1h0m0 .4h0m.5-.2h0m1 2.6h0m.5 .1h0m.3-3.3h0m.7-.3h0m0 4.1h0m.5-1.4h0m.9 .9h0m.1-3.5h0m.1 .4h0m.4 1.2h0m.2-.5h0m.1 .4h0m.8 3h0m.2-.2h0m.1-4.4h0m0 2.8h0m.2 .1h0m.5 .1h0m.2-.3h0m.6-.7h0m.6 2.6h0m.1-.1h0m.4 .3h0m.5-4h0m0 3.3h0m.2-.1h0m.1 .3h0m1.3-4.1h0m.2 4.3h0m.2-4.5h0m1.1 2.2h0m.4-1.9h0m.2 4.1h0m.1-3.1h0m.1 2.6h0m.3-1.7h0m.5 1.9h0m.3-3.3h0m.2 .7h0m1.1 2.2h0m.2-3.3h0m.4 .4h0m.5 3.9h0m.1-2.2h0m.3-.9h0m.1 1h0m.3 1.5h0m1.5-1.3h0m.1-.2h0m1.7 1.7h0m1.2 .3h0m.5-1.4h0m.3 1h0m.2-2.7h0m.5 2h0m.2-3h0m.3 2.4h0m.2-1.5h0m.8-.1h0m.5 .4h0m.2-1.6h0m.9 3.2h0m.3-.6h0m.2 1h0m.2-1h0m.1 .8h0m.2 .7h0m1-1.9h0m.1 2.5h0m.5-3.8h0m.3-1.1h0m.5 2.9h0m.2-2.8h0m.2 1.7h0m.4 2.3h0m.9 .7h0m2.6-3.4h0m.1-.1h0m.5 .9h0m.6 0h0m.1-.3h0m.5 1h0m.5-1.4h0m.3 2.1h0m.3-1.5h0m0 2h0m2.4-.9h0m3.1-.6h0m8.1-1.9h0m3 2.5h0m4.3-2.1h0m18.9 .2h0m1.8 .6h0m5.5 0h0m2.8 2.9h0m.4-4.7h0m7.5 2.3h0m7.3-2h0m3.9 2.9h0m1.1-.8h0m3.7-.8h0m5.2 .4h0m-422.9 7.8h0m20.8-2.7h0m.9-1.5h0m.7 1.1h0m3.8-.8h0m.2-.3h0m1.7 .7h0m1.9-.6h0m.2 4h0m1.9-1.1h0m.2-.4h0m.9-3h0m.4-.2h0m.3 2.9h0m.6-.9h0m2.1 .5h0m2.2-1.8h0m.2 2.6h0m1.7-2.8h0m0 2.9h0m2.2-1.8h0m.3 3.2h0m.5-2.2h0m1 1.3h0m1.5-3.3h0m.3-.2h0m.8 2.3h0m1.2-.6h0m.8 0h0m1.4-.6h0m.9-1h0m.6 1.5h0m3.4-1.5h0m.7 1.3h0m2.1 2.6h0m.3-1h0m1.1-2.8h0m.7 .1h0m.3 2h0m.1 .1h0m.2 .6h0m.9-2.6h0m.7 1.6h0m1.2 .5h0m.6 .1h0m1.9 .6h0m.4-2.3h0m1.1 .8h0m1.5 1.3h0m1.3-1.8h0m1.4-1.6h0m.1 1.3h0m.1-1.2h0m1.9 2.3h0m26.1 2.1h0m3.1-2.4h0m12.7-1.5h0m7.2-.5h0m1.2 1.3h0m1.7 2.3h0m.9 .1h0m.7-2.3h0m.2-.7h0m4.1 1.1h0m2 2.7h0m1.7-.4h0m.1-2.4h0m.3 2.2h0m1.7-1.6h0m.6-2.4h0m2.8 .4h0m3.7 1.3h0m1.2-.7h0m1.3-.6h0m.7 3.9h0m2.2-.2h0m3.7-4.1h0m1.1 1.2h0m130.5-1h0m5.8 3.6h0m2.5-.1h0m.6-2.6h0m.4-1.2h0m0 1.4h0m.3 1.3h0m.9-2.7h0m2.1 3h0m.3 1.2h0m1.8 0h0m.7-3.3h0m.2 3.5h0m.5 .1h0m.4-2.7h0m.3 1.7h0m.9-.4h0m.5-.9h0m.1-1.6h0m.4 1h0m.1 2.7h0m.1-1.4h0m.4 1.4h0m.3-2.2h0m.2-.5h0m.4-.4h0m.3 .2h0m.7-.9h0m.4 1.9h0m.6 .6h0m0 1.7h0m.2-3.6h0m.6 2.8h0m.2 .4h0m2.1-3.5h0m.3 3.2h0m1-1.7h0m.3-2.2h0m.4 1.5h0m.4 .8h0m.8 .7h0m0 1h0m.4-3h0m1.2 3h0m.6 0h0m0 .2h0m.3-3.6h0m.2 1.8h0m.1 1.1h0m.7-.6h0m.2-.7h0m.8 1h0m.3-.6h0m.4-1.9h0m0 .8h0m1.8 1.9h0m.5-1.5h0m.2 1.8h0m1.6-.2h0m.7 .9h0m.5-.5h0m.5-2.8h0m.3 1.4h0m.2 1.7h0m.3-3.3h0m.2 .4h0m.4 2.1h0m.1 .4h0m0 .9h0m.1-4.2h0m0 1.2h0m.3 .8h0m.1-1.1h0m.5-.7h0m.2 1.8h0m0 1.6h0m.7 .3h0m.4-.6h0m1.2-2.7h0m.3 .6h0m.1 .6h0m.5-2.2h0m.1 2h0m.3 1.2h0m.7-3.4h0m0 1.8h0m.2 1.2h0m.2-1.1h0m1.5-.1h0m.1 0h0m.4-1.7h0m.3 2.5h0m1.3 .5h0m1 1.1h0m.8-1.9h0m.7 1.9h0m1.3-.9h0m1.6-.6h0m.2 1h0m.3-3.4h0m.2 1.1h0m3.9 2.7h0m.4-1.8h0m.5 .9h0m.4 .4h0m.7 .9h0m.1-3.9h0m6.9 2.8h0m2.6-1.7h0m.5 1.1h0m1.1-.4h0m2.9 .1h0m2.4-2.3h0m8.6 2.9h0m5.8 1.5h0m8.6-3.6h0m1.1 1.8h0m2.1-.5h0m1.5 .4h0m2.1 .3h0m2.4-1.3h0m1.4-1.6h0m8.4 3.4h0m2.6-2.9h0m4.7 2.3h0m.6-.3h0m.1-.4h0m4.7 .1h0m-420.7 6.4h0m10.7-3.6h0m7.6 1.1h0m16.2-.9h0m5.2 4.2h0m.4-3h0m.2 2.7h0m4.6-.8h0m1.7 .5h0m1.9-3.1h0m3.2-.7h0m10.6 .9h0m2.8-1h0m0 .4h0m27.9 .8h0m1-.1h0m17.3 1.2h0m12.6-1h0m10.8-1.2h0m4.5 4.4h0m2.2-.8h0m1.7-1.5h0m.5 .2h0m.1-2.3h0m.6 3.9h0m3.2-.8h0m1.8-2.3h0m.7 2.5h0m2.4-.2h0m3.2-.1h0m110.7-.1h0m1.3-2.3h0m2.7 3.7h0m4.5 .5h0m1-2.8h0m1.9-1.9h0m4.4 4.4h0m5.1-1h0m1.1 .7h0m5.5-3.4h0m4.3 3.4h0m.5-1h0m.8-.4h0m1.2-1h0m2 2.9h0m.4-4.8h0m.5 4h0m.2 .5h0m.1-3.2h0m.1-.4h0m.3 2.3h0m.1 .8h0m.2-.2h0m.2-3.5h0m1.3 1.3h0m.1 2h0m.1-2.5h0m.8-1h0m1 3.7h0m.4-1.6h0m.1-2.2h0m.2 4.2h0m.4-2.5h0m1.8-.4h0m.5 1.4h0m.9-2.1h0m3.8-.1h0m.4 2.1h0m.2 0h0m.5 1.3h0m1.2-3.5h0m.4 3.6h0m.2-2.3h0m.3 .3h0m.4 1.4h0m.4-2.8h0m0 4.3h0m1.4-1.4h0m.5-2.7h0m1.4-.6h0m.5 3.5h0m.1-1.1h0m.2-1.7h0m.7-.8h0m1.4 .8h0m.1 .8h0m.5-.9h0m.9 2.7h0m1.3-.5h0m.1-2.3h0m.2 3h0m1.1-2.1h0m.9-1.3h0m.3 4.3h0m.2-1.9h0m.4-1.8h0m0-.4h0m.5 1.8h0m.1 1.5h0m.3-2.3h0m.2 1.1h0m.5-.6h0m.5-1h0m0-.8h0m.1 .2h0m.1 3.4h0m.6-1.4h0m0-.1h0m0 1h0m.3-2.4h0m.4 3.5h0m.5-3h0m.3 0h0m1.6 .2h0m.1 2.1h0m.1-1.8h0m.3 2.7h0m.1-2.6h0m2.2 .2h0m1.6 1.8h0m2.1-3.8h0m1.4 4.4h0m.9-3.1h0m12.4 .9h0m.4-.9h0m1.7-.4h0m.7 3.3h0m.3-3.3h0m8.4 2.4h0m3.7-1h0m14.2-.6h0m2.6-.8h0m3.8 2.1h0m9.5-.1h0m.1 1.7h0m2.4-3.3h0m9.1 2h0m2.1-1.8h0m-382.8 6.5h0m1.5-1.5h0m4.1 1.7h0m23.4 1.5h0m6.4-2.8h0m5.1 .6h0m3.4 1.4h0m6-2.4h0m4.7 3h0m3.5-.7h0m.1-2.6h0m15.3-.4h0m2.3 .3h0m4-.4h0m8.2 .1h0m1.2 2.1h0m.4-1.6h0m.7 2.2h0m1.5-3h0m.7 .9h0m3-.7h0m2.7 1.2h0m.7 1.7h0m3.5 .4h0m.6-2h0m.5 1.7h0m1.2-3.3h0m.9 .6h0m1.1 1h0m2.1 1.5h0m.1-2.7h0m5.4 3.1h0m3.6-1.8h0m108.3-1.4h0m13.2 3h0m1.7-3.2h0m1-.4h0m19.6 0h0m.4 1.7h0m1.4-.4h0m3.9 0h0m4 2.4h0m1.7-4h0m1.7 2.9h0m.6 1.1h0m.5-1.6h0m2 1.3h0m.7-1.4h0m.1-.3h0m.2-.4h0m.2-1.2h0m.7 3.8h0m.1-3.9h0m.4 .4h0m.9 1.7h0m.2-2.3h0m.3 3.9h0m.2-3.9h0m.2 2.9h0m.7-2h0m.5-.6h0m1.2 1.9h0m0 .6h0m1-2.9h0m.9 3.9h0m2.4-2.5h0m4.1 2h0m.5-1.4h0m.9 .6h0m4.4-2.3h0m1.5 2h0m.3 .3h0m.9 0h0m.9 .5h0m1 1.7h0m.4-.8h0m1.5-.8h0m2-2.8h0m.4 .6h0m13.5 2.1h0m8-.4h0m6.2 1.3h0m16-.2h0m3 .4h0m4.8-3.6h0m0-.1h0m8.9 4h0m1.7-1.1h0m5 .3h0m2.5-3.1h0m2.7 4.1h0m.3-3.3h0m2.9 .3h0m6.1 1.5h0m1.5-2.6h0m1.6 1.3h0m-420.8 7.2h0m6.7-2.2h0m11.6-1.3h0m3 1h0m17.3 1.1h0m2.4 .6h0m15.3-.4h0m2.1 1.8h0m4.6-2.6h0m9.9-.8h0m10.6 2.1h0m.9 .7h0m7.4-3.3h0m15.2-.8h0m14 .1h0m.7 1.6h0m4.3 2.4h0m1.5-.8h0m4.7-1.8h0m4 3h0m1.9-.3h0m3-3.1h0m115.8 3.5h0m4.8-4.5h0m4.5 4.3h0m3.3-.5h0m2.4-1h0m.6-2.1h0m7.8-.1h0m4.7 .4h0m5.3 .6h0m.6 2.6h0m.7-1.8h0m7.9-2.4h0m.3 3.8h0m7.8-2h0m15.6-.4h0m.8 2.2h0m2.7-3.5h0m1.4 .9h0m3.3-.8h0m6 .1h0m30.5 .2h0m2.4-.3h0m2 2.7h0m.3 1.2h0m18.9 .3h0m2-2.4h0m5.2 2.4h0m9.8-1h0m.3-1.2h0m2.5 2h0m-405.1 5.2h0m1.5-3.6h0m11.6 3.9h0m27.4-3h0m.5-1.1h0m3.9 2.2h0m1.7-1h0m23.6-.8h0m12-.7h0m1.5 .5h0m6.6 2.1h0m17.3-2.6h0m8.3 1.6h0m.3 1.1h0m1.7-.5h0m3.1-.4h0m.6-2.1h0m14.2 3.4h0m5.9 1.2h0m121.1-2.9h0m14.6-.5h0m10.9-.6h0m14.5 .7h0m22.3-.7h0m7.9-.1h0m2.1 1.5h0m3.3 2.3h0m2.3-3.6h0m3.4 0h0m17.6 .4h0m3.6 1.7h0m11.7-1.9h0m1.9 .3h0m2.5-.8h0m12.8-.3h0m.6 1.8h0m4.7 2.5h0m1-2.1h0m5.4 2h0m.1-1.9h0m3.8 .5h0m-421.8 3.9h0m5.1 1.7h0m9.7-1.8h0m23.5-.3h0m.8 1.7h0m6.1 1.3h0m19.7-3.8h0m2.7-.2h0m11.3 .8h0m5.3-.6h0m13.9-.5h0m11.6 1.9h0m21.6-1.3h0m.5 1.9h0m4 1.6h0m3.6-1.3h0m.5-1.5h0m.6 2.3h0m12.8 .4h0m4.4-.1h0m2.9-3.6h0m108.9 2.9h0m12.1-2.4h0m.3 .8h0m7.2 1.7h0m5-.4h0m12.2-.4h0m3.8 1.2h0m1.1-2h0m13.8-.3h0m11.1 1.6h0m1.1 .8h0m4.2-1.8h0m12.9 .1h0m10.2 1.7h0m4.5-2.1h0m.1-.6h0m6.8 .4h0m7.8 2.5h0m5.6-1.5h0m6.1 .8h0m2.1-1.9h0m6.7-.1h0m2.7-1.2h0m2.3 1h0m11.3-.9h0m3.1 .7h0m1.3 3.8h0m1.2-4.4h0m1.1 .2h0m1-.2h0m1.5-.5h0m-426.4 5.4h0m15 3.6h0m8.1-1.9h0m28.2-.4h0m4.2-.1h0m36.9 .5h0m28.6 .5h0m6.5 1.6h0m1.9-.6h0m2.2-1h0m.7 1.5h0m4.4-3.1h0m.9 1.9h0m.3 1h0m10.6 .3h0m1 .7h0m6.9-1.6h0m104.8-2.5h0m.3 3.6h0m5.8-.2h0m5.7-1.6h0m8.2 .2h0m5.4-1.4h0m12.3 2.3h0m6.4-1h0m10.8-2.1h0m1.5 1.5h0m7.9-1.9h0m8.9 4.2h0m7.6-.5h0m22.5-1.6h0m.8-.2h0m.5 2.4h0m5.7 .3h0m1.5-3.4h0m1.7 1.4h0m1.3-.9h0m6.9 .1h0m2.2 .8h0m10.2 1.8h0m2.3-3.6h0m5.3 3.7h0m3.1-4.5h0m18.4 3.6h0m-433.4 1.9h0m3.7 3.2h0m20.1-1.4h0m12.4 .1h0m62.5-.2h0m1.5 .8h0m15 .2h0m16.4 .1h0m9.4 .6h0m.9-.2h0m5.3-.5h0m2.9-1.3h0m2.5 2.6h0m8-3.9h0m.4 3.7h0m6.2-.1h0m96.8-3.4h0m28.2 3.2h0m26.7-2.3h0m1.7 .5h0m3.7-.4h0m9.6 2.3h0m3.1-2.8h0m4.1-.3h0m5.3 .5h0m7.8 1.2h0m11.4-1.8h0m11.8 3.3h0m3.4-2.7h0m4.8 2.3h0m1.2-2.9h0m.2 1.7h0m2.9-.9h0m17.5-.4h0m18.3 2.6h0m.7-2.9h0m5.4 1.8h0m-431.8 2.2h0m15.9 .4h0m10.3 .9h0m26 .2h0m64.3 3h0m23.9-2.1h0m6-2.6h0m6 1.9h0m8.1 1h0m2.4 .4h0m101.7-.3h0m.2 .4h0m.1-.6h0m7.8 1.6h0m8.6 .5h0m19-1.3h0m1.9-.6h0m2.6 .9h0m20.7-1.4h0m.9-.7h0m1.4 2.2h0m9.8-1h0m5.2 .7h0m11.5-3.6h0m9.6 .7h0m3 0h0m.8 1.3h0m1.7-.4h0m14.5 3.1h0m21.4-2.4h0m16.3 2h0m-421.6 5.4h0m.3-2.2h0m.2 1.5h0m95.9-2.5h0m37 3.2h0m0 0h0m11.1-4.8h0m.3 .6h0m.1 4.2h0m7.9 .1h0m1.3-3.7h0m.3 2.7h0m2-1.9h0m7.9 2.9h0m.1-.2h0m99.6-2.1h0m.4 2.1h0m7.4-4.3h0m28.9-.3h0m1.8 .8h0m17 1.4h0m2.3 2.1h0m12.2 .2h0m25-4.6h0m27.7 3.4h0m3-1.4h0m.2 .5h0m8.3-1.1h0m2.8 3.3h0m1.5-.2h0m.2-.1h0m.1 .4h0m1.3-.1h0m.3-.7h0m1.1 .5h0m2.6-3.8h0m.1 3.2h0m.7 .9h0m3.8-.2h0m.3 .1h0m4.1-.6h0m3.5 .3h0m1.8 .5h0m2.2-.7h0m1.7 .3h0m1.7 .2h0m2.9 .2h0m2.3-.2h0m-305.8 1h0m7.9-.3h0m1.8-.3h0m5.5 .4h0m2.8-.5h0m1.4 .6h0m2.6 .2h0m1.2-.2h0m2.8-.4h0m1.8-.1h0m1.9 0h0m.8-.1h0m.4 .1h0m.7 .3h0m.4-.1h0m3 .4h0m1 .1h0m125.3 .1h0m6-.9h0m43 .1h0m68.5-.1h0m13.5 .1h0" stroke="#000" stroke-width="1.80" stroke-linecap="round" fill="none"/>
<path d="M50.85 33.0H225.55M50.85 198.3H225.55" stroke="#000" stroke-width="1.7" fill="none"/>
<path d="M51.5 33.0V198.3M224.9 33.0V198.3" stroke="#000" stroke-width="1.3" fill="none"/>
<path d="M118.3 33.0V198.3M51.5 123.5H224.9" stroke="#000" stroke-width="1.1" fill="none"/>
<path d="M52.7 198.3v5.6M51.5 197.0h-6.0M65.5 198.3v3.3M51.5 184.6h-3.6M72.9 198.3v3.3M51.5 177.4h-3.6M78.2 198.3v3.3M51.5 172.3h-3.6M82.3 198.3v3.3M51.5 168.3h-3.6M85.7 198.3v3.3M51.5 165.0h-3.6M88.5 198.3v3.3M51.5 162.3h-3.6M91.0 198.3v3.3M51.5 159.9h-3.6M93.2 198.3v3.3M51.5 157.8h-3.6M95.1 198.3v5.6M51.5 155.9h-6.0M108.0 198.3v3.3M51.5 143.6h-3.6M115.5 198.3v3.3M51.5 136.4h-3.6M120.8 198.3v3.3M51.5 131.3h-3.6M124.9 198.3v3.3M51.5 127.3h-3.6M128.3 198.3v3.3M51.5 124.1h-3.6M131.2 198.3v3.3M51.5 121.3h-3.6M133.7 198.3v3.3M51.5 119.0h-3.6M135.8 198.3v3.3M51.5 116.9h-3.6M137.8 198.3v5.6M51.5 115.0h-6.0M150.9 198.3v3.3M51.5 102.6h-3.6M158.6 198.3v3.3M51.5 95.3h-3.6M164.0 198.3v3.3M51.5 90.1h-3.6M168.2 198.3v3.3M51.5 86.1h-3.6M171.7 198.3v3.3M51.5 82.9h-3.6M174.6 198.3v3.3M51.5 80.1h-3.6M177.1 198.3v3.3M51.5 77.7h-3.6M179.4 198.3v3.3M51.5 75.6h-3.6M181.3 198.3v5.6M51.5 73.7h-6.0M194.0 198.3v3.3M51.5 61.8h-3.6M201.4 198.3v3.3M51.5 54.9h-3.6M206.6 198.3v3.3M51.5 50.0h-3.6M210.7 198.3v3.3M51.5 46.2h-3.6M214.0 198.3v3.3M51.5 43.0h-3.6M216.8 198.3v3.3M51.5 40.4h-3.6M219.2 198.3v3.3M51.5 38.1h-3.6M221.4 198.3v3.3M51.5 36.1h-3.6M223.3 198.3v5.6M51.5 34.3h-6" stroke="#000" stroke-width="1.35" fill="none"/>
<text x="42.00" y="217.10" font-size="12.6" letter-spacing="-0.4"> 0</text>
<text x="55.33" y="210.50" font-size="12.6">0</text>
<text x="84.40" y="217.10" font-size="12.6" letter-spacing="-0.4"> 0</text>
<text x="97.73" y="210.50" font-size="12.6"> </text>
<text x="127.10" y="217.10" font-size="12.6" letter-spacing="-0.4"> 0</text>
<text x="140.43" y="210.50" font-size="12.6">2</text>
<text x="170.65" y="217.10" font-size="12.6" letter-spacing="-0.4"> 0</text>
<text x="183.98" y="210.50" font-size="12.6">3</text>
<text x="212.60" y="217.10" font-size="12.6" letter-spacing="-0.4"> 0</text>
<text x="225.93" y="210.50" font-size="12.6">4</text>
<g transform="translate(41.20,207.00) rotate(-90)"><text x="0.00" y="0.00" font-size="12.6" letter-spacing="-0.4"> 0</text><text x="13.33" y="-6.60" font-size="12.6">0</text><path transform="matrix(0.00615 0 0 -0.00615 0.00 0.00)" d="M560 0L740 0L740 1409L610 1409L560 1310L450 1190L310 1120L310 990L560 1040Z"/></g>
<g transform="translate(41.20,165.90) rotate(-90)"><text x="0.00" y="0.00" font-size="12.6" letter-spacing="-0.4"> 0</text><text x="13.33" y="-6.60" font-size="12.6"> </text><path transform="matrix(0.00615 0 0 -0.00615 0.00 0.00)" d="M560 0L740 0L740 1409L610 1409L560 1310L450 1190L310 1120L310 990L560 1040Z"/><path transform="matrix(0.00615 0 0 -0.00615 13.33 -6.60)" d="M560 0L740 0L740 1409L610 1409L560 1310L450 1190L310 1120L310 990L560 1040Z"/></g>
<g transform="translate(41.20,125.00) rotate(-90)"><text x="0.00" y="0.00" font-size="12.6" letter-spacing="-0.4"> 0</text><text x="13.33" y="-6.60" font-size="12.6">2</text><path transform="matrix(0.00615 0 0 -0.00615 0.00 0.00)" d="M560 0L740 0L740 1409L610 1409L560 1310L450 1190L310 1120L310 990L560 1040Z"/></g>
<g transform="translate(41.20,83.70) rotate(-90)"><text x="0.00" y="0.00" font-size="12.6" letter-spacing="-0.4"> 0</text><text x="13.33" y="-6.60" font-size="12.6">3</text><path transform="matrix(0.00615 0 0 -0.00615 0.00 0.00)" d="M560 0L740 0L740 1409L610 1409L560 1310L450 1190L310 1120L310 990L560 1040Z"/></g>
<g transform="translate(41.20,44.30) rotate(-90)"><text x="0.00" y="0.00" font-size="12.6" letter-spacing="-0.4"> 0</text><text x="13.33" y="-6.60" font-size="12.6">4</text><path transform="matrix(0.00615 0 0 -0.00615 0.00 0.00)" d="M560 0L740 0L740 1409L610 1409L560 1310L450 1190L310 1120L310 990L560 1040Z"/></g>
<path d="M315.85 33.0H490.75M315.85 198.4H490.75" stroke="#000" stroke-width="1.7" fill="none"/>
<path d="M316.5 33.0V198.4M490.1 33.0V198.4" stroke="#000" stroke-width="1.3" fill="none"/>
<path d="M383.8 33.0V198.4M316.5 123.5H490.1" stroke="#000" stroke-width="1.1" fill="none"/>
<path d="M317.7 198.4v5.6M316.5 197.2h-6.0M330.6 198.4v3.3M316.5 184.8h-3.6M338.1 198.4v3.3M316.5 177.5h-3.6M343.5 198.4v3.3M316.5 172.4h-3.6M347.6 198.4v3.3M316.5 168.4h-3.6M351.0 198.4v3.3M316.5 165.1h-3.6M353.9 198.4v3.3M316.5 162.4h-3.6M356.4 198.4v3.3M316.5 160.0h-3.6M358.5 198.4v3.3M316.5 157.9h-3.6M360.5 198.4v5.6M316.5 156.0h-6.0M373.4 198.4v3.3M316.5 143.7h-3.6M380.9 198.4v3.3M316.5 136.4h-3.6M386.2 198.4v3.3M316.5 131.3h-3.6M390.3 198.4v3.3M316.5 127.3h-3.6M393.7 198.4v3.3M316.5 124.1h-3.6M396.6 198.4v3.3M316.5 121.4h-3.6M399.1 198.4v3.3M316.5 119.0h-3.6M401.2 198.4v3.3M316.5 116.9h-3.6M403.2 198.4v5.6M316.5 115.0h-6.0M416.3 198.4v3.3M316.5 102.5h-3.6M423.9 198.4v3.3M316.5 95.2h-3.6M429.3 198.4v3.3M316.5 90.1h-3.6M433.5 198.4v3.3M316.5 86.1h-3.6M437.0 198.4v3.3M316.5 82.8h-3.6M439.9 198.4v3.3M316.5 80.0h-3.6M442.4 198.4v3.3M316.5 77.6h-3.6M444.6 198.4v3.3M316.5 75.5h-3.6M446.6 198.4v5.6M316.5 73.6h-6.0M459.2 198.4v3.3M316.5 61.8h-3.6M466.6 198.4v3.3M316.5 54.8h-3.6M471.8 198.4v3.3M316.5 49.9h-3.6M475.9 198.4v3.3M316.5 46.1h-3.6M479.2 198.4v3.3M316.5 43.0h-3.6M482.0 198.4v3.3M316.5 40.4h-3.6M484.4 198.4v3.3M316.5 38.1h-3.6M486.6 198.4v3.3M316.5 36.1h-3.6M488.5 198.4v5.6M316.5 34.3h-6" stroke="#000" stroke-width="1.35" fill="none"/>
<text x="307.00" y="217.20" font-size="12.6" letter-spacing="-0.4"> 0</text>
<text x="320.33" y="210.60" font-size="12.6">0</text>
<text x="349.80" y="217.20" font-size="12.6" letter-spacing="-0.4"> 0</text>
<text x="363.13" y="210.60" font-size="12.6"> </text>
<text x="392.50" y="217.20" font-size="12.6" letter-spacing="-0.4"> 0</text>
<text x="405.83" y="210.60" font-size="12.6">2</text>
<text x="435.90" y="217.20" font-size="12.6" letter-spacing="-0.4"> 0</text>
<text x="449.23" y="210.60" font-size="12.6">3</text>
<text x="477.80" y="217.20" font-size="12.6" letter-spacing="-0.4"> 0</text>
<text x="491.13" y="210.60" font-size="12.6">4</text>
<g transform="translate(306.20,207.20) rotate(-90)"><text x="0.00" y="0.00" font-size="12.6" letter-spacing="-0.4"> 0</text><text x="13.33" y="-6.60" font-size="12.6">0</text><path transform="matrix(0.00615 0 0 -0.00615 0.00 0.00)" d="M560 0L740 0L740 1409L610 1409L560 1310L450 1190L310 1120L310 990L560 1040Z"/></g>
<g transform="translate(306.20,166.00) rotate(-90)"><text x="0.00" y="0.00" font-size="12.6" letter-spacing="-0.4"> 0</text><text x="13.33" y="-6.60" font-size="12.6"> </text><path transform="matrix(0.00615 0 0 -0.00615 0.00 0.00)" d="M560 0L740 0L740 1409L610 1409L560 1310L450 1190L310 1120L310 990L560 1040Z"/><path transform="matrix(0.00615 0 0 -0.00615 13.33 -6.60)" d="M560 0L740 0L740 1409L610 1409L560 1310L450 1190L310 1120L310 990L560 1040Z"/></g>
<g transform="translate(306.20,125.00) rotate(-90)"><text x="0.00" y="0.00" font-size="12.6" letter-spacing="-0.4"> 0</text><text x="13.33" y="-6.60" font-size="12.6">2</text><path transform="matrix(0.00615 0 0 -0.00615 0.00 0.00)" d="M560 0L740 0L740 1409L610 1409L560 1310L450 1190L310 1120L310 990L560 1040Z"/></g>
<g transform="translate(306.20,83.60) rotate(-90)"><text x="0.00" y="0.00" font-size="12.6" letter-spacing="-0.4"> 0</text><text x="13.33" y="-6.60" font-size="12.6">3</text><path transform="matrix(0.00615 0 0 -0.00615 0.00 0.00)" d="M560 0L740 0L740 1409L610 1409L560 1310L450 1190L310 1120L310 990L560 1040Z"/></g>
<g transform="translate(306.20,44.30) rotate(-90)"><text x="0.00" y="0.00" font-size="12.6" letter-spacing="-0.4"> 0</text><text x="13.33" y="-6.60" font-size="12.6">4</text><path transform="matrix(0.00615 0 0 -0.00615 0.00 0.00)" d="M560 0L740 0L740 1409L610 1409L560 1310L450 1190L310 1120L310 990L560 1040Z"/></g>
<path d="M50.95 305.8H225.55M50.95 472.9H225.55" stroke="#000" stroke-width="1.7" fill="none"/>
<path d="M51.6 305.8V472.9M224.9 305.8V472.9" stroke="#000" stroke-width="1.3" fill="none"/>
<path d="M146.3 305.8V472.9M51.6 389.9H224.9" stroke="#000" stroke-width="1.1" fill="none"/>
<path d="M52.8 472.9v5.6M51.6 471.9h-6.0M65.6 472.9v3.3M51.6 459.5h-3.6M73.1 472.9v3.3M51.6 452.2h-3.6M78.4 472.9v3.3M51.6 447.1h-3.6M82.6 472.9v3.3M51.6 443.1h-3.6M85.9 472.9v3.3M51.6 439.8h-3.6M88.8 472.9v3.3M51.6 437.1h-3.6M91.3 472.9v3.3M51.6 434.7h-3.6M93.5 472.9v3.3M51.6 432.6h-3.6M95.4 472.9v5.6M51.6 430.7h-6.0M108.2 472.9v3.3M51.6 418.3h-3.6M115.7 472.9v3.3M51.6 411.0h-3.6M121.0 472.9v3.3M51.6 405.9h-3.6M125.1 472.9v3.3M51.6 401.9h-3.6M128.5 472.9v3.3M51.6 398.6h-3.6M131.3 472.9v3.3M51.6 395.9h-3.6M133.8 472.9v3.3M51.6 393.5h-3.6M136.0 472.9v3.3M51.6 391.4h-3.6M137.9 472.9v5.6M51.6 389.5h-6.0M151.1 472.9v3.3M51.6 377.1h-3.6M158.8 472.9v3.3M51.6 369.8h-3.6M164.2 472.9v3.3M51.6 364.7h-3.6M168.4 472.9v3.3M51.6 360.7h-3.6M171.9 472.9v3.3M51.6 357.4h-3.6M174.8 472.9v3.3M51.6 354.7h-3.6M177.4 472.9v3.3M51.6 352.3h-3.6M179.6 472.9v3.3M51.6 350.2h-3.6M181.6 472.9v5.6M51.6 348.3h-6.0M194.2 472.9v3.3M51.6 335.9h-3.6M201.5 472.9v3.3M51.6 328.7h-3.6M206.7 472.9v3.3M51.6 323.6h-3.6M210.7 472.9v3.3M51.6 319.6h-3.6M214.0 472.9v3.3M51.6 316.3h-3.6M216.8 472.9v3.3M51.6 313.6h-3.6M219.3 472.9v3.3M51.6 311.2h-3.6M221.4 472.9v3.3M51.6 309.1h-3.6M223.3 472.9v5.6M51.6 307.2h-6" stroke="#000" stroke-width="1.35" fill="none"/>
<text x="42.10" y="491.70" font-size="12.6" letter-spacing="-0.4"> 0</text>
<text x="55.43" y="485.10" font-size="12.6">0</text>
<text x="84.70" y="491.70" font-size="12.6" letter-spacing="-0.4"> 0</text>
<text x="98.03" y="485.10" font-size="12.6"> </text>
<text x="127.20" y="491.70" font-size="12.6" letter-spacing="-0.4"> 0</text>
<text x="140.53" y="485.10" font-size="12.6">2</text>
<text x="170.90" y="491.70" font-size="12.6" letter-spacing="-0.4"> 0</text>
<text x="184.23" y="485.10" font-size="12.6">3</text>
<text x="212.60" y="491.70" font-size="12.6" letter-spacing="-0.4"> 0</text>
<text x="225.93" y="485.10" font-size="12.6">4</text>
<g transform="translate(41.30,481.90) rotate(-90)"><text x="0.00" y="0.00" font-size="12.6" letter-spacing="-0.4"> 0</text><text x="13.33" y="-6.60" font-size="12.6">0</text><path transform="matrix(0.00615 0 0 -0.00615 0.00 0.00)" d="M560 0L740 0L740 1409L610 1409L560 1310L450 1190L310 1120L310 990L560 1040Z"/></g>
<g transform="translate(41.30,440.70) rotate(-90)"><text x="0.00" y="0.00" font-size="12.6" letter-spacing="-0.4"> 0</text><text x="13.33" y="-6.60" font-size="12.6"> </text><path transform="matrix(0.00615 0 0 -0.00615 0.00 0.00)" d="M560 0L740 0L740 1409L610 1409L560 1310L450 1190L310 1120L310 990L560 1040Z"/><path transform="matrix(0.00615 0 0 -0.00615 13.33 -6.60)" d="M560 0L740 0L740 1409L610 1409L560 1310L450 1190L310 1120L310 990L560 1040Z"/></g>
<g transform="translate(41.30,399.50) rotate(-90)"><text x="0.00" y="0.00" font-size="12.6" letter-spacing="-0.4"> 0</text><text x="13.33" y="-6.60" font-size="12.6">2</text><path transform="matrix(0.00615 0 0 -0.00615 0.00 0.00)" d="M560 0L740 0L740 1409L610 1409L560 1310L450 1190L310 1120L310 990L560 1040Z"/></g>
<g transform="translate(41.30,358.30) rotate(-90)"><text x="0.00" y="0.00" font-size="12.6" letter-spacing="-0.4"> 0</text><text x="13.33" y="-6.60" font-size="12.6">3</text><path transform="matrix(0.00615 0 0 -0.00615 0.00 0.00)" d="M560 0L740 0L740 1409L610 1409L560 1310L450 1190L310 1120L310 990L560 1040Z"/></g>
<g transform="translate(41.30,317.20) rotate(-90)"><text x="0.00" y="0.00" font-size="12.6" letter-spacing="-0.4"> 0</text><text x="13.33" y="-6.60" font-size="12.6">4</text><path transform="matrix(0.00615 0 0 -0.00615 0.00 0.00)" d="M560 0L740 0L740 1409L610 1409L560 1310L450 1190L310 1120L310 990L560 1040Z"/></g>
<path d="M315.65000000000003 306.4H491.54999999999995M315.65000000000003 472.2H491.54999999999995" stroke="#000" stroke-width="1.7" fill="none"/>
<path d="M316.3 306.4V472.2M490.9 306.4V472.2" stroke="#000" stroke-width="1.3" fill="none"/>
<path d="M412.7 306.4V472.2M316.3 390.3H490.9" stroke="#000" stroke-width="1.1" fill="none"/>
<path d="M317.3 472.2v5.6M316.3 471.0h-6.0M330.6 472.2v3.3M316.3 458.6h-3.6M338.3 472.2v3.3M316.3 451.4h-3.6M343.8 472.2v3.3M316.3 446.3h-3.6M348.1 472.2v3.3M316.3 442.3h-3.6M351.6 472.2v3.3M316.3 439.0h-3.6M354.5 472.2v3.3M316.3 436.3h-3.6M357.1 472.2v3.3M316.3 433.9h-3.6M359.3 472.2v3.3M316.3 431.8h-3.6M361.4 472.2v5.6M316.3 429.9h-6.0M374.2 472.2v3.3M316.3 417.5h-3.6M381.8 472.2v3.3M316.3 410.3h-3.6M387.1 472.2v3.3M316.3 405.2h-3.6M391.3 472.2v3.3M316.3 401.2h-3.6M394.7 472.2v3.3M316.3 397.9h-3.6M397.6 472.2v3.3M316.3 395.2h-3.6M400.0 472.2v3.3M316.3 392.8h-3.6M402.2 472.2v3.3M316.3 390.7h-3.6M404.2 472.2v5.6M316.3 388.8h-6.0M417.1 472.2v3.3M316.3 376.3h-3.6M424.6 472.2v3.3M316.3 369.0h-3.6M430.0 472.2v3.3M316.3 363.8h-3.6M434.1 472.2v3.3M316.3 359.8h-3.6M437.5 472.2v3.3M316.3 356.5h-3.6M440.4 472.2v3.3M316.3 353.7h-3.6M442.9 472.2v3.3M316.3 351.3h-3.6M445.0 472.2v3.3M316.3 349.2h-3.6M447.0 472.2v5.6M316.3 347.3h-6.0M459.7 472.2v3.3M316.3 335.3h-3.6M467.2 472.2v3.3M316.3 328.4h-3.6M472.5 472.2v3.3M316.3 323.4h-3.6M476.6 472.2v3.3M316.3 319.6h-3.6M479.9 472.2v3.3M316.3 316.4h-3.6M482.7 472.2v3.3M316.3 313.7h-3.6M485.2 472.2v3.3M316.3 311.4h-3.6M487.4 472.2v3.3M316.3 309.4h-3.6M489.3 472.2v5.6M316.3 307.6h-6" stroke="#000" stroke-width="1.35" fill="none"/>
<text x="306.60" y="491.00" font-size="12.6" letter-spacing="-0.4"> 0</text>
<text x="319.93" y="484.40" font-size="12.6">0</text>
<text x="350.65" y="491.00" font-size="12.6" letter-spacing="-0.4"> 0</text>
<text x="363.98" y="484.40" font-size="12.6"> </text>
<text x="393.50" y="491.00" font-size="12.6" letter-spacing="-0.4"> 0</text>
<text x="406.83" y="484.40" font-size="12.6">2</text>
<text x="436.30" y="491.00" font-size="12.6" letter-spacing="-0.4"> 0</text>
<text x="449.63" y="484.40" font-size="12.6">3</text>
<text x="478.60" y="491.00" font-size="12.6" letter-spacing="-0.4"> 0</text>
<text x="491.93" y="484.40" font-size="12.6">4</text>
<g transform="translate(306.00,481.00) rotate(-90)"><text x="0.00" y="0.00" font-size="12.6" letter-spacing="-0.4"> 0</text><text x="13.33" y="-6.60" font-size="12.6">0</text><path transform="matrix(0.00615 0 0 -0.00615 0.00 0.00)" d="M560 0L740 0L740 1409L610 1409L560 1310L450 1190L310 1120L310 990L560 1040Z"/></g>
<g transform="translate(306.00,439.90) rotate(-90)"><text x="0.00" y="0.00" font-size="12.6" letter-spacing="-0.4"> 0</text><text x="13.33" y="-6.60" font-size="12.6"> </text><path transform="matrix(0.00615 0 0 -0.00615 0.00 0.00)" d="M560 0L740 0L740 1409L610 1409L560 1310L450 1190L310 1120L310 990L560 1040Z"/><path transform="matrix(0.00615 0 0 -0.00615 13.33 -6.60)" d="M560 0L740 0L740 1409L610 1409L560 1310L450 1190L310 1120L310 990L560 1040Z"/></g>
<g transform="translate(306.00,398.80) rotate(-90)"><text x="0.00" y="0.00" font-size="12.6" letter-spacing="-0.4"> 0</text><text x="13.33" y="-6.60" font-size="12.6">2</text><path transform="matrix(0.00615 0 0 -0.00615 0.00 0.00)" d="M560 0L740 0L740 1409L610 1409L560 1310L450 1190L310 1120L310 990L560 1040Z"/></g>
<g transform="translate(306.00,357.30) rotate(-90)"><text x="0.00" y="0.00" font-size="12.6" letter-spacing="-0.4"> 0</text><text x="13.33" y="-6.60" font-size="12.6">3</text><path transform="matrix(0.00615 0 0 -0.00615 0.00 0.00)" d="M560 0L740 0L740 1409L610 1409L560 1310L450 1190L310 1120L310 990L560 1040Z"/></g>
<g transform="translate(306.00,317.60) rotate(-90)"><text x="0.00" y="0.00" font-size="12.6" letter-spacing="-0.4"> 0</text><text x="13.33" y="-6.60" font-size="12.6">4</text><path transform="matrix(0.00615 0 0 -0.00615 0.00 0.00)" d="M560 0L740 0L740 1409L610 1409L560 1310L450 1190L310 1120L310 990L560 1040Z"/></g>
<text class="b" font-size="21.8" transform="translate(81.90,18.50) scale(0.98,1)">Total B cells</text>
<text class="b" font-size="21.8" transform="translate(282.90,16.60) scale(0.98,1)">Total B cells + anti-IL10</text>
<text class="b" font-size="21.8" transform="translate(83.50,295.40) scale(0.98,1)">CD5</text>
<text class="b" font-size="21.8" transform="translate(138.40,295.40) scale(0.958,1)">B cells</text>
<rect x="125.4" y="281.2" width="5.8" height="2.1"/>
<text class="b" font-size="21.8" transform="translate(337.00,295.00) scale(0.98,1)">CD5</text>
<text class="b" font-size="21.8" transform="translate(398.40,295.00) scale(0.958,1)">B cells</text>
<rect x="380.4" y="281.6" width="10.8" height="2"/><rect x="384.9" y="277.4" width="2" height="10.4"/>
<text class="b" font-size="18.6" transform="translate(95.5,241.0) scale(0.97,1)">Annexin V</text>
<text class="b" font-size="18.6" transform="translate(362.8,240.2) scale(0.97,1)">Annexin V</text>
<text class="b" font-size="18.6" transform="translate(95.9,517.9) scale(0.97,1)">Annexin V</text>
<text class="b" font-size="18.6" transform="translate(363.2,517.8) scale(0.97,1)">Annexin V</text>
<text class="b" font-size="18.8" transform="translate(15.5,187.0) rotate(-90) scale(0.984,1)">Propidium Iodide</text>
<text class="b" font-size="18.8" transform="translate(281.9,187.0) rotate(-90) scale(0.984,1)">Propidium Iodide</text>
<text class="b" font-size="18.8" transform="translate(15.6,456.6) rotate(-90) scale(0.984,1)">Propidium Iodide</text>
<text class="b" font-size="18.8" transform="translate(282.1,455.9) rotate(-90) scale(0.984,1)">Propidium Iodide</text>
<text x="62.54" y="50.00" font-size="13.3" class="b">9</text>
<text x="205.53" y="49.80" font-size="13.3" class="b">72</text>
<text x="58.63" y="191.60" font-size="13.3" class="b"> 7</text>
<text x="209.44" y="191.50" font-size="13.3" class="b">2</text>
<text x="325.49" y="50.30" font-size="13.3" class="b">3</text>
<text x="470.74" y="50.30" font-size="13.3" class="b">9 </text>
<text x="324.94" y="192.60" font-size="13.3" class="b">2</text>
<text x="474.70" y="192.60" font-size="13.3" class="b">4</text>
<text x="62.24" y="321.80" font-size="13.3" class="b">9</text>
<text x="202.29" y="321.80" font-size="13.3" class="b">5 </text>
<text x="58.34" y="465.40" font-size="13.3" class="b">22</text>
<text x="202.63" y="465.20" font-size="13.3" class="b"> 8</text>
<text x="326.09" y="322.10" font-size="13.3" class="b">3</text>
<text x="467.59" y="321.80" font-size="13.3" class="b">38</text>
<text x="322.50" y="466.40" font-size="13.3" class="b">40</text>
<text x="468.23" y="466.00" font-size="13.3" class="b"> 9</text>
<path transform="matrix(0.00615 0 0 -0.00615 42.00 217.10)" d="M560 0L740 0L740 1409L610 1409L560 1310L450 1190L310 1120L310 990L560 1040Z"/>
<path transform="matrix(0.00615 0 0 -0.00615 84.40 217.10)" d="M560 0L740 0L740 1409L610 1409L560 1310L450 1190L310 1120L310 990L560 1040Z"/>
<path transform="matrix(0.00615 0 0 -0.00615 97.73 210.50)" d="M560 0L740 0L740 1409L610 1409L560 1310L450 1190L310 1120L310 990L560 1040Z"/>
<path transform="matrix(0.00615 0 0 -0.00615 127.10 217.10)" d="M560 0L740 0L740 1409L610 1409L560 1310L450 1190L310 1120L310 990L560 1040Z"/>
<path transform="matrix(0.00615 0 0 -0.00615 170.65 217.10)" d="M560 0L740 0L740 1409L610 1409L560 1310L450 1190L310 1120L310 990L560 1040Z"/>
<path transform="matrix(0.00615 0 0 -0.00615 212.60 217.10)" d="M560 0L740 0L740 1409L610 1409L560 1310L450 1190L310 1120L310 990L560 1040Z"/>
<path transform="matrix(0.00615 0 0 -0.00615 307.00 217.20)" d="M560 0L740 0L740 1409L610 1409L560 1310L450 1190L310 1120L310 990L560 1040Z"/>
<path transform="matrix(0.00615 0 0 -0.00615 349.80 217.20)" d="M560 0L740 0L740 1409L610 1409L560 1310L450 1190L310 1120L310 990L560 1040Z"/>
<path transform="matrix(0.00615 0 0 -0.00615 363.13 210.60)" d="M560 0L740 0L740 1409L610 1409L560 1310L450 1190L310 1120L310 990L560 1040Z"/>
<path transform="matrix(0.00615 0 0 -0.00615 392.50 217.20)" d="M560 0L740 0L740 1409L610 1409L560 1310L450 1190L310 1120L310 990L560 1040Z"/>
<path transform="matrix(0.00615 0 0 -0.00615 435.90 217.20)" d="M560 0L740 0L740 1409L610 1409L560 1310L450 1190L310 1120L310 990L560 1040Z"/>
<path transform="matrix(0.00615 0 0 -0.00615 477.80 217.20)" d="M560 0L740 0L740 1409L610 1409L560 1310L450 1190L310 1120L310 990L560 1040Z"/>
<path transform="matrix(0.00615 0 0 -0.00615 42.10 491.70)" d="M560 0L740 0L740 1409L610 1409L560 1310L450 1190L310 1120L310 990L560 1040Z"/>
<path transform="matrix(0.00615 0 0 -0.00615 84.70 491.70)" d="M560 0L740 0L740 1409L610 1409L560 1310L450 1190L310 1120L310 990L560 1040Z"/>
<path transform="matrix(0.00615 0 0 -0.00615 98.03 485.10)" d="M560 0L740 0L740 1409L610 1409L560 1310L450 1190L310 1120L310 990L560 1040Z"/>
<path transform="matrix(0.00615 0 0 -0.00615 127.20 491.70)" d="M560 0L740 0L740 1409L610 1409L560 1310L450 1190L310 1120L310 990L560 1040Z"/>
<path transform="matrix(0.00615 0 0 -0.00615 170.90 491.70)" d="M560 0L740 0L740 1409L610 1409L560 1310L450 1190L310 1120L310 990L560 1040Z"/>
<path transform="matrix(0.00615 0 0 -0.00615 212.60 491.70)" d="M560 0L740 0L740 1409L610 1409L560 1310L450 1190L310 1120L310 990L560 1040Z"/>
<path transform="matrix(0.00615 0 0 -0.00615 306.60 491.00)" d="M560 0L740 0L740 1409L610 1409L560 1310L450 1190L310 1120L310 990L560 1040Z"/>
<path transform="matrix(0.00615 0 0 -0.00615 350.65 491.00)" d="M560 0L740 0L740 1409L610 1409L560 1310L450 1190L310 1120L310 990L560 1040Z"/>
<path transform="matrix(0.00615 0 0 -0.00615 363.98 484.40)" d="M560 0L740 0L740 1409L610 1409L560 1310L450 1190L310 1120L310 990L560 1040Z"/>
<path transform="matrix(0.00615 0 0 -0.00615 393.50 491.00)" d="M560 0L740 0L740 1409L610 1409L560 1310L450 1190L310 1120L310 990L560 1040Z"/>
<path transform="matrix(0.00615 0 0 -0.00615 436.30 491.00)" d="M560 0L740 0L740 1409L610 1409L560 1310L450 1190L310 1120L310 990L560 1040Z"/>
<path transform="matrix(0.00615 0 0 -0.00615 478.60 491.00)" d="M560 0L740 0L740 1409L610 1409L560 1310L450 1190L310 1120L310 990L560 1040Z"/>
<path transform="matrix(0.00649 0 0 -0.00649 58.63 191.60)" d="M500 0L790 0L790 1409L570 1409L500 1290L350 1170L150 1130L150 935L500 980Z"/>
<path transform="matrix(0.00649 0 0 -0.00649 478.14 50.30)" d="M500 0L790 0L790 1409L570 1409L500 1290L350 1170L150 1130L150 935L500 980Z"/>
<path transform="matrix(0.00649 0 0 -0.00649 209.69 321.80)" d="M500 0L790 0L790 1409L570 1409L500 1290L350 1170L150 1130L150 935L500 980Z"/>
<path transform="matrix(0.00649 0 0 -0.00649 202.63 465.20)" d="M500 0L790 0L790 1409L570 1409L500 1290L350 1170L150 1130L150 935L500 980Z"/>
<path transform="matrix(0.00649 0 0 -0.00649 468.23 466.00)" d="M500 0L790 0L790 1409L570 1409L500 1290L350 1170L150 1130L150 935L500 980Z"/>
</svg></body></html>
